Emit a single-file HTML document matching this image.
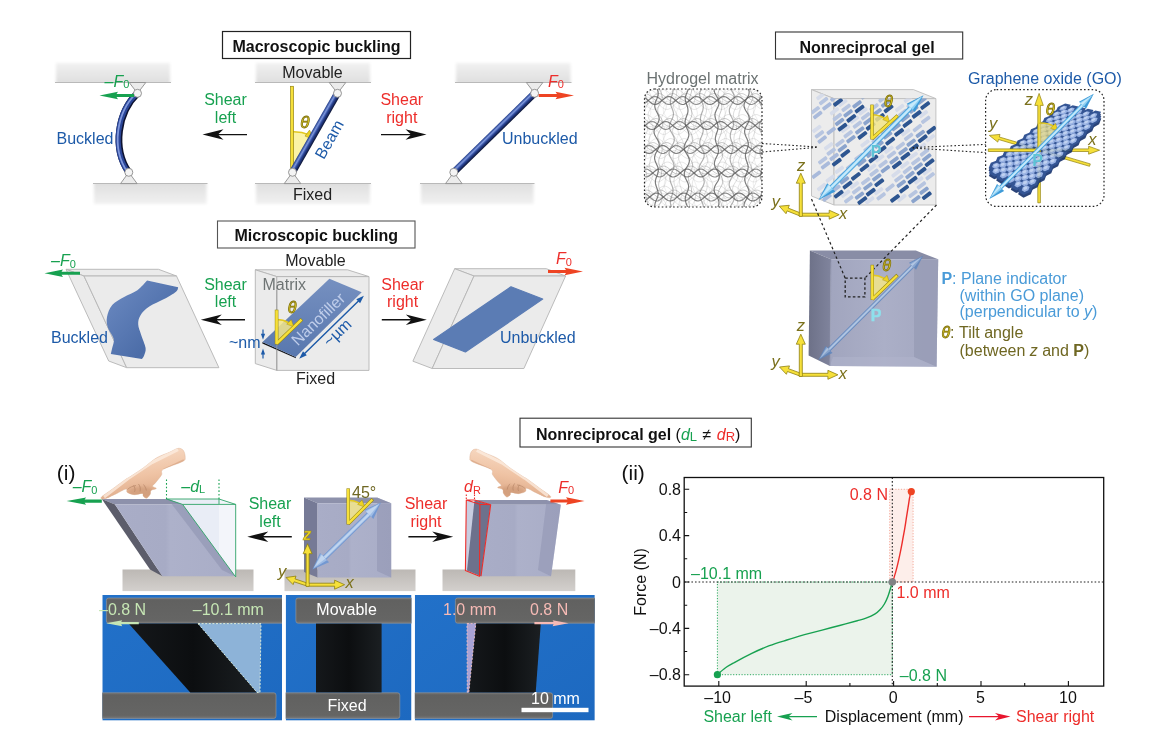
<!DOCTYPE html>
<html><head><meta charset="utf-8"><title>Nonreciprocal gel figure</title>
<style>
html,body{margin:0;padding:0;background:#fff;}
body{width:1167px;height:742px;overflow:hidden;font-family:"Liberation Sans",Arial,Helvetica,sans-serif;}
svg{display:block;font-family:"Liberation Sans",Arial,Helvetica,sans-serif;}
</style></head><body>
<svg width="1167" height="742" viewBox="0 0 1167 742">
<defs>
<filter id="blur2" x="-10%" y="-30%" width="120%" height="160%"><feGaussianBlur stdDeviation="1.6"/></filter>
<filter id="blur1" x="-10%" y="-10%" width="120%" height="120%"><feGaussianBlur stdDeviation="0.6"/></filter>
<filter id="blur3" x="-10%" y="-30%" width="120%" height="160%"><feGaussianBlur stdDeviation="2.2"/></filter>
<linearGradient id="plateT" x1="0" y1="0" x2="0" y2="1"><stop offset="0" stop-color="#f1f1f1"/><stop offset="1" stop-color="#dcdcdc"/></linearGradient>
<linearGradient id="plateB" x1="0" y1="0" x2="0" y2="1"><stop offset="0" stop-color="#dcdcdc"/><stop offset="1" stop-color="#f1f1f1"/></linearGradient>
<linearGradient id="beamG" x1="0" y1="0" x2="0" y2="1"><stop offset="0" stop-color="#1f3a88"/><stop offset="0.32" stop-color="#7f99de"/><stop offset="0.58" stop-color="#2a4597"/><stop offset="0.85" stop-color="#152457"/><stop offset="1" stop-color="#0b1230"/></linearGradient>
<linearGradient id="baseG" x1="0" y1="0" x2="0" y2="1"><stop offset="0" stop-color="#bcb8b4"/><stop offset="1" stop-color="#d3d0cd"/></linearGradient>
<linearGradient id="skin" x1="0.3" y1="0" x2="0.6" y2="1"><stop offset="0" stop-color="#f9dfcb"/><stop offset="0.55" stop-color="#efc3a4"/><stop offset="1" stop-color="#dba684"/></linearGradient>
<linearGradient id="pArrow" x1="0" y1="0" x2="1" y2="0"><stop offset="0" stop-color="#4aa3dc"/><stop offset="0.5" stop-color="#bfe6fa"/><stop offset="1" stop-color="#4aa3dc"/></linearGradient>
<linearGradient id="slateF" x1="0" y1="0" x2="1" y2="0"><stop offset="0" stop-color="#a9adc7"/><stop offset="0.42" stop-color="#a7abc5"/><stop offset="0.46" stop-color="#adb1ca"/><stop offset="1" stop-color="#a9adc7"/></linearGradient>
<linearGradient id="nanoG" x1="0" y1="0" x2="0" y2="1"><stop offset="0" stop-color="#7690c0"/><stop offset="1" stop-color="#5877ae"/></linearGradient>
</defs>
<g id="macro">
<rect x="222.5" y="31.5" width="188" height="27" fill="#fff" stroke="#222" stroke-width="1.2"/>
<text x="316.5" y="51.5" font-size="16" fill="#111" text-anchor="middle" font-weight="bold" >Macroscopic buckling</text>
<clipPath id="pc55_62"><rect x="47" y="54" width="132" height="28.5"/></clipPath><g clip-path="url(#pc55_62)"><rect x="56" y="63" width="114" height="22.5" fill="url(#plateT)" filter="url(#blur2)"/></g><line x1="55" y1="82.5" x2="171" y2="82.5" stroke="#b9b9b9" stroke-width="1"/>
<clipPath id="pc93_183"><rect x="85" y="183.5" width="130.5" height="29.5"/></clipPath><g clip-path="url(#pc93_183)"><rect x="94" y="180.5" width="112.5" height="23.5" fill="url(#plateB)" filter="url(#blur2)"/></g><line x1="93" y1="183.5" x2="207.5" y2="183.5" stroke="#b9b9b9" stroke-width="1"/>
<clipPath id="pc255_62"><rect x="247" y="54" width="132" height="28.5"/></clipPath><g clip-path="url(#pc255_62)"><rect x="256" y="63" width="114" height="22.5" fill="url(#plateT)" filter="url(#blur2)"/></g><line x1="255" y1="82.5" x2="371" y2="82.5" stroke="#b9b9b9" stroke-width="1"/>
<clipPath id="pc255_183"><rect x="247" y="183.5" width="132" height="29.5"/></clipPath><g clip-path="url(#pc255_183)"><rect x="256" y="180.5" width="114" height="23.5" fill="url(#plateB)" filter="url(#blur2)"/></g><line x1="255" y1="183.5" x2="371" y2="183.5" stroke="#b9b9b9" stroke-width="1"/>
<clipPath id="pc455_62"><rect x="447" y="54" width="132.5" height="28.5"/></clipPath><g clip-path="url(#pc455_62)"><rect x="456" y="63" width="114.5" height="22.5" fill="url(#plateT)" filter="url(#blur2)"/></g><line x1="455" y1="82.5" x2="571.5" y2="82.5" stroke="#b9b9b9" stroke-width="1"/>
<clipPath id="pc420_183"><rect x="412" y="183.5" width="130.5" height="29.5"/></clipPath><g clip-path="url(#pc420_183)"><rect x="421" y="180.5" width="112.5" height="23.5" fill="url(#plateB)" filter="url(#blur2)"/></g><line x1="420" y1="183.5" x2="534.5" y2="183.5" stroke="#b9b9b9" stroke-width="1"/>
<text x="312.5" y="77.5" font-size="16" fill="#222" text-anchor="middle" >Movable</text>
<text x="312.5" y="199.5" font-size="16" fill="#222" text-anchor="middle" >Fixed</text>
<polygon points="129.2,82.5 145.8,82.5 137.5,93.3" fill="#ececec" stroke="#8e8e8e" stroke-width="0.9"/>
<polygon points="120.5,183.6 137.1,183.6 128.8,172.3" fill="#ececec" stroke="#8e8e8e" stroke-width="0.9"/>
<path d="M137.5,93.3 C118,112 112,148 128.8,172.3" fill="none" stroke="#0d1230" stroke-width="6.8"/>
<path d="M137.5,93.3 C118,112 112,148 128.8,172.3" fill="none" stroke="#2a4597" stroke-width="5.2" transform="translate(-0.8,0)"/>
<path d="M137.5,93.3 C118,112 112,148 128.8,172.3" fill="none" stroke="#8098dc" stroke-width="1.8" transform="translate(-1.3,0)"/>
<circle cx="137.5" cy="93.3" r="4.0" fill="#f4f4f4" stroke="#8a8a8a" stroke-width="0.9"/>
<circle cx="128.8" cy="172.3" r="4.0" fill="#f4f4f4" stroke="#8a8a8a" stroke-width="0.9"/>
<polygon points="134.0,94.0 116.5,94.0 118.0,91.8 99.5,95.5 118.0,99.2 116.5,97.0 134.0,97.0" fill="#17a150" />
<text x="104.5" y="86.5" font-size="16" fill="#17a150" ><tspan font-style="italic">–F</tspan><tspan font-size="11" dy="1.5">0</tspan></text>
<text x="56.5" y="144.3" font-size="16" fill="#1d5aa8" >Buckled</text>
<text x="225.5" y="105.3" font-size="16" fill="#17a150" text-anchor="middle" >Shear</text>
<text x="225.5" y="122.8" font-size="16" fill="#17a150" text-anchor="middle" >left</text>
<polygon points="247.0,133.9 218.5,133.9 223.5,129.3 202.5,134.6 223.5,139.8 218.5,135.3 247.0,135.3" fill="#111" />
<polygon points="329.2,82.5 345.8,82.5 337.5,93.3" fill="#ececec" stroke="#8e8e8e" stroke-width="0.9"/>
<polygon points="284.2,183.6 300.8,183.6 292.5,172.3" fill="#ececec" stroke="#8e8e8e" stroke-width="0.9"/>
<path d="M292.5,172.3 L292.5,131.8 A40.5,40.5 0 0 1 312.5,137.1 Z" fill="#fbf3a6"/>
<path d="M292.5,131.8 A40.5,40.5 0 0 1 309.5,134.9" fill="none" stroke="#e3c81f" stroke-width="1.6"/>
<polygon points="314.0,139.6 305.0,136.1 309.5,130.1" fill="#ecd224" stroke="#94840f" stroke-width="0.5"/>
<rect x="290.6" y="86.3" width="2.9" height="84" fill="#f6e03a" stroke="#94840f" stroke-width="0.7"/>
<g transform="translate(292.5,172.3) rotate(-60.33)"><rect x="0" y="-3.5" width="90.9" height="7.0" fill="url(#beamG)"/></g>
<circle cx="337.5" cy="93.3" r="4.0" fill="#f4f4f4" stroke="#8a8a8a" stroke-width="0.9"/>
<circle cx="292.5" cy="172.3" r="4.0" fill="#f4f4f4" stroke="#8a8a8a" stroke-width="0.9"/>
<text x="304.8" y="128.3" font-size="17" fill="#f2dc2a" text-anchor="middle" font-style="italic" stroke="#7f710c" stroke-width="0.8">θ</text>
<text x="334.0" y="142.0" font-size="16" fill="#1d5aa8" text-anchor="middle" transform="rotate(-60.3 334.0 142.0)" >Beam</text>
<text x="401.8" y="105.3" font-size="16" fill="#ed2d2a" text-anchor="middle" >Shear</text>
<text x="401.8" y="122.8" font-size="16" fill="#ed2d2a" text-anchor="middle" >right</text>
<polygon points="381.0,135.3 410.5,135.3 405.5,139.8 426.5,134.6 405.5,129.3 410.5,133.9 381.0,133.9" fill="#111" />
<polygon points="526.3,82.5 542.9,82.5 534.6,93.3" fill="#ececec" stroke="#8e8e8e" stroke-width="0.9"/>
<polygon points="445.5,183.6 462.1,183.6 453.8,172.3" fill="#ececec" stroke="#8e8e8e" stroke-width="0.9"/>
<g transform="translate(453.8,172.3) rotate(-44.35)"><rect x="0" y="-3.5" width="113.0" height="7.0" fill="url(#beamG)"/></g>
<circle cx="534.6" cy="93.3" r="4.0" fill="#f4f4f4" stroke="#8a8a8a" stroke-width="0.9"/>
<circle cx="453.8" cy="172.3" r="4.0" fill="#f4f4f4" stroke="#8a8a8a" stroke-width="0.9"/>
<polygon points="538.7,97.0 557.0,97.0 555.5,99.2 574.0,95.5 555.5,91.8 557.0,94.0 538.7,94.0" fill="#ee4423" />
<text x="548.0" y="86.5" font-size="16" fill="#ed2d2a" ><tspan font-style="italic">F</tspan><tspan font-size="11" dy="1.5">0</tspan></text>
<text x="502.0" y="144.3" font-size="16" fill="#1d5aa8" >Unbuckled</text>
</g>
<g id="micro">
<rect x="217.5" y="221" width="197.5" height="27" fill="#fff" stroke="#555" stroke-width="1.1"/>
<text x="316.3" y="241.2" font-size="16" fill="#111" text-anchor="middle" font-weight="bold" >Microscopic buckling</text>
<text x="315.5" y="266.0" font-size="16" fill="#222" text-anchor="middle" >Movable</text>
<text x="315.5" y="384.0" font-size="16" fill="#222" text-anchor="middle" >Fixed</text>
<polygon points="255.3,269.8 347.5,269.8 369.0,276.6 276.8,276.6" fill="#ebebeb" stroke="#b4b4b4" stroke-width="0.9" stroke-linejoin="round"/><polygon points="255.3,269.8 276.8,276.6 276.8,370.4 255.3,363.6" fill="#ebebeb" stroke="#b4b4b4" stroke-width="0.9" stroke-linejoin="round"/><polygon points="276.8,276.6 369.0,276.6 369.0,370.4 276.8,370.4" fill="#ebebeb" stroke="#b4b4b4" stroke-width="0.9" stroke-linejoin="round"/>
<text x="262.5" y="289.8" font-size="16" fill="#6e7474" >Matrix</text>
<polygon points="262.5,342.0 295.7,356.9 295.9,358.3 262.3,343.6" fill="#15171c"/>
<polygon points="329.4,278.7 361.7,292.2 295.7,356.9 262.5,342.0" fill="url(#nanoG)"/>
<text x="322.0" y="323.0" font-size="16" fill="#bfcdea" text-anchor="middle" transform="rotate(-44 322.0 323.0)" >Nanofiller</text>
<line x1="276.8" y1="290" x2="276.8" y2="370.4" stroke="#9a9a9a" stroke-width="0.8"/>
<polygon points="299.2,358.8 306.8,355.2 305.4,353.7 358.7,301.8 360.1,303.3 363.9,295.7 356.3,299.3 357.7,300.8 304.4,352.7 303.0,351.2" fill="#1d5aa8" />
<text x="341.0" y="336.5" font-size="16" fill="#1d5aa8" text-anchor="middle" transform="rotate(-44 341.0 336.5)" >~µm</text>
<text x="229.0" y="347.8" font-size="16" fill="#1d5aa8" >~nm</text>
<polygon points="262.4,329.5 262.4,333.8 260.9,333.8 263.0,339.8 265.1,333.8 263.6,333.8 263.6,329.5" fill="#1d5aa8" />
<polygon points="263.6,358.5 263.6,354.5 265.1,354.5 263.0,348.5 260.9,354.5 262.4,354.5 262.4,358.5" fill="#1d5aa8" />
<path d="M276.6,343.6 L276.6,319.6 A24,24 0 0 1 293.9,326.9 Z" fill="#f2e58a" fill-opacity="0.85"/><path d="M276.6,319.6 A24,24 0 0 1 288.6,322.8" fill="none" stroke="#e3c81f" stroke-width="1.5"/><polygon points="293.9,326.9 291.3,319.7 286.7,324.1" fill="#ecd224" stroke="#94840f" stroke-width="0.4"/><line x1="276.6" y1="343.6" x2="301.9" y2="319.2" stroke="#94840f" stroke-width="3.6" stroke-linecap="butt"/><line x1="276.6" y1="344.4" x2="276.6" y2="309.7" stroke="#94840f" stroke-width="3.6"/><line x1="276.6" y1="343.6" x2="301.5" y2="319.6" stroke="#f6e03a" stroke-width="2.6" stroke-linecap="butt"/><line x1="276.6" y1="343.9" x2="276.6" y2="310.2" stroke="#f6e03a" stroke-width="2.6"/><text x="292.0" y="312.5" font-size="16" fill="#f2dc2a" text-anchor="middle" font-style="italic" stroke="#7f710c" stroke-width="0.8">θ</text>
<polygon points="66.0,269.3 158.5,269.3 176.5,276.0 84.0,276.0" fill="#ebebeb" stroke="#b4b4b4" stroke-width="0.9" stroke-linejoin="round"/><polygon points="66.0,269.3 84.0,276.0 126.7,367.7 108.7,361.0" fill="#ebebeb" stroke="#b4b4b4" stroke-width="0.9" stroke-linejoin="round"/><polygon points="84.0,276.0 176.5,276.0 218.9,367.7 126.7,367.7" fill="#ebebeb" stroke="#b4b4b4" stroke-width="0.9" stroke-linejoin="round"/>
<defs><linearGradient id="buckG" x1="0" y1="0" x2="1" y2="1"><stop offset="0" stop-color="#6d8bc2"/><stop offset="0.45" stop-color="#5878b2"/><stop offset="0.7" stop-color="#4c6da8"/><stop offset="1" stop-color="#5c7cb5"/></linearGradient></defs>
<path d="M147.1,280.6 L178.2,287.2 C177.8,287.9 178.3,289.7 176.0,291.7 C173.7,293.7 168.5,296.6 164.1,299.1 C159.7,301.6 153.2,303.8 149.3,306.5 C145.4,309.2 142.2,312.4 140.4,315.4 C138.6,318.4 138.1,321.1 138.2,324.3 C138.3,327.5 139.9,330.8 141.1,334.7 C142.3,338.6 145.1,344.6 145.6,348.0 C146.1,351.4 144.7,353.5 144.1,355.4 C143.5,357.2 142.3,358.5 141.9,359.1 L110.8,354.0 C111.0,353.0 111.7,350.5 112.2,348.0 C112.7,345.5 114.4,342.6 113.7,339.1 C113.0,335.7 108.9,331.0 107.8,327.3 C106.7,323.6 106.3,320.6 107.0,316.9 C107.7,313.2 109.4,308.3 112.2,305.0 C115.0,301.7 119.9,299.4 124.1,296.9 C128.3,294.4 133.6,292.9 137.4,290.2 C141.2,287.5 145.5,282.2 147.1,280.6 Z" fill="url(#buckG)"/>
<polygon points="80.0,271.8 61.5,271.8 63.0,269.6 44.5,273.3 63.0,277.1 61.5,274.8 80.0,274.8" fill="#17a150" />
<text x="51.0" y="266.3" font-size="16" fill="#17a150" ><tspan font-style="italic">–F</tspan><tspan font-size="11" dy="1.5">0</tspan></text>
<text x="51.0" y="343.0" font-size="16" fill="#1d5aa8" >Buckled</text>
<text x="225.5" y="289.8" font-size="16" fill="#17a150" text-anchor="middle" >Shear</text>
<text x="225.5" y="307.3" font-size="16" fill="#17a150" text-anchor="middle" >left</text>
<polygon points="245.0,319.1 216.8,319.1 221.8,314.6 200.8,319.8 221.8,325.1 216.8,320.5 245.0,320.5" fill="#111" />
<polygon points="454.7,268.7 546.3,268.7 565.6,276.0 474.0,276.0" fill="#ebebeb" stroke="#b4b4b4" stroke-width="0.9" stroke-linejoin="round"/><polygon points="454.7,268.7 474.0,276.0 432.2,368.5 412.9,361.2" fill="#ebebeb" stroke="#b4b4b4" stroke-width="0.9" stroke-linejoin="round"/><polygon points="474.0,276.0 565.6,276.0 523.9,368.5 432.2,368.5" fill="#ebebeb" stroke="#b4b4b4" stroke-width="0.9" stroke-linejoin="round"/>
<polygon points="511.0,286.8 542.7,299.0 465.4,352.0 433.6,339.4" fill="#5b7cb4" stroke="#5b7cb4" stroke-width="1.2" stroke-linejoin="round"/>
<polygon points="548.0,273.0 566.0,273.0 564.5,275.2 583.0,271.5 564.5,267.8 566.0,270.0 548.0,270.0" fill="#ee4423" />
<text x="556.0" y="264.3" font-size="16" fill="#ed2d2a" ><tspan font-style="italic">F</tspan><tspan font-size="11" dy="1.5">0</tspan></text>
<text x="500.0" y="343.0" font-size="16" fill="#1d5aa8" >Unbuckled</text>
<text x="402.6" y="289.8" font-size="16" fill="#ed2d2a" text-anchor="middle" >Shear</text>
<text x="402.6" y="307.3" font-size="16" fill="#ed2d2a" text-anchor="middle" >right</text>
<polygon points="381.8,320.5 410.8,320.5 405.8,325.1 426.8,319.8 405.8,314.6 410.8,319.1 381.8,319.1" fill="#111" />
</g>
<g id="gel">
<rect x="775.5" y="32" width="187.2" height="27" fill="#fff" stroke="#333" stroke-width="1.1"/>
<text x="867.0" y="52.6" font-size="16" fill="#111" text-anchor="middle" font-weight="bold" >Nonreciprocal gel</text>
<text x="646.5" y="84.2" font-size="16" fill="#6b7272" >Hydrogel matrix</text>
<text x="968.0" y="83.9" font-size="16" fill="#1d5aa8" >Graphene oxide (GO)</text>
<clipPath id="hgc"><rect x="644.5" y="89" width="117.5" height="118" rx="10"/></clipPath>
<g clip-path="url(#hgc)" fill="none" stroke-linecap="round"><path d="M651.4,85.0 L651.2,87.0 L650.5,89.0 L649.4,91.0 L648.2,93.0 L647.0,95.0 L646.3,97.0 L646.1,99.0 L646.5,101.0 L647.3,103.0 L648.5,105.0 L649.6,107.0 L650.4,109.0 L650.8,111.0 L650.8,113.0 L650.2,115.0 L649.3,117.0 L648.4,119.0 L647.6,121.0 L647.1,123.0 L647.1,125.0 L647.5,127.0 L648.2,129.0 L649.0,131.0 L649.6,133.0 L650.0,135.0 L649.9,137.0 L649.5,139.0 L648.9,141.0 L648.1,143.0 L647.5,145.0 L647.2,147.0 L647.4,149.0 L647.9,151.0 L648.7,153.0 L649.6,155.0 L650.3,157.0 L650.6,159.0 L650.5,161.0 L650.0,163.0 L649.0,165.0 L648.0,167.0 L647.0,169.0 L646.4,171.0 L646.3,173.0 L646.7,175.0 L647.7,177.0 L648.8,179.0 L650.0,181.0 L650.9,183.0 L651.4,185.0 L651.2,187.0 L650.5,189.0 L649.4,191.0 L648.2,193.0 L647.0,195.0 L646.3,197.0 L646.1,199.0 L646.5,201.0 L647.4,203.0 L648.5,205.0 L649.6,207.0 L650.4,209.0 L650.9,211.0" stroke="#8a8a8a" stroke-width="0.9" opacity="0.132"/><path d="M664.6,85.0 L663.5,87.0 L662.3,89.0 L661.5,91.0 L661.1,93.0 L661.2,95.0 L662.0,97.0 L663.1,99.0 L664.3,101.0 L665.5,103.0 L666.2,105.0 L666.3,107.0 L665.9,109.0 L665.0,111.0 L663.9,113.0 L662.7,115.0 L661.8,117.0 L661.4,119.0 L661.5,121.0 L662.1,123.0 L663.0,125.0 L664.0,127.0 L664.9,129.0 L665.4,131.0 L665.5,133.0 L665.1,135.0 L664.4,137.0 L663.6,139.0 L662.9,141.0 L662.4,143.0 L662.4,145.0 L662.7,147.0 L663.3,149.0 L664.0,151.0 L664.7,153.0 L665.0,155.0 L665.0,157.0 L664.5,159.0 L663.8,161.0 L663.0,163.0 L662.3,165.0 L662.0,167.0 L662.0,169.0 L662.5,171.0 L663.4,173.0 L664.4,175.0 L665.3,177.0 L665.9,179.0 L666.0,181.0 L665.5,183.0 L664.6,185.0 L663.5,187.0 L662.3,189.0 L661.5,191.0 L661.1,193.0 L661.2,195.0 L662.0,197.0 L663.1,199.0 L664.4,201.0 L665.5,203.0 L666.2,205.0 L666.3,207.0 L665.9,209.0 L665.0,211.0" stroke="#8a8a8a" stroke-width="0.9" opacity="0.22"/><path d="M677.2,85.0 L676.7,87.0 L676.6,89.0 L677.0,91.0 L677.9,93.0 L679.0,95.0 L680.1,97.0 L680.9,99.0 L681.3,101.0 L681.1,103.0 L680.3,105.0 L679.2,107.0 L678.0,109.0 L676.9,111.0 L676.2,113.0 L676.0,115.0 L676.5,117.0 L677.4,119.0 L678.6,121.0 L679.8,123.0 L680.7,125.0 L681.1,127.0 L681.0,129.0 L680.4,131.0 L679.4,133.0 L678.4,135.0 L677.4,137.0 L676.8,139.0 L676.7,141.0 L677.1,143.0 L677.8,145.0 L678.7,147.0 L679.5,149.0 L680.0,151.0 L680.2,153.0 L679.9,155.0 L679.3,157.0 L678.6,159.0 L677.9,161.0 L677.5,163.0 L677.4,165.0 L677.8,167.0 L678.4,169.0 L679.2,171.0 L679.9,173.0 L680.3,175.0 L680.2,177.0 L679.8,179.0 L679.0,181.0 L678.1,183.0 L677.2,185.0 L676.7,187.0 L676.6,189.0 L677.0,191.0 L677.9,193.0 L679.0,195.0 L680.1,197.0 L680.9,199.0 L681.3,201.0 L681.1,203.0 L680.3,205.0 L679.2,207.0 L678.0,209.0 L676.9,211.0" stroke="#8a8a8a" stroke-width="0.9" opacity="0.132"/><path d="M692.3,85.0 L692.6,87.0 L693.3,89.0 L694.2,91.0 L695.0,93.0 L695.5,95.0 L695.6,97.0 L695.3,99.0 L694.5,101.0 L693.4,103.0 L692.4,105.0 L691.6,107.0 L691.2,109.0 L691.5,111.0 L692.2,113.0 L693.3,115.0 L694.5,117.0 L695.6,119.0 L696.3,121.0 L696.4,123.0 L695.9,125.0 L694.9,127.0 L693.7,129.0 L692.5,131.0 L691.6,133.0 L691.1,135.0 L691.3,137.0 L691.9,139.0 L693.0,141.0 L694.1,143.0 L695.1,145.0 L695.7,147.0 L695.9,149.0 L695.5,151.0 L694.7,153.0 L693.8,155.0 L692.9,157.0 L692.3,159.0 L692.1,161.0 L692.3,163.0 L692.9,165.0 L693.6,167.0 L694.4,169.0 L694.9,171.0 L695.0,173.0 L694.8,175.0 L694.2,177.0 L693.4,179.0 L692.8,181.0 L692.3,183.0 L692.3,185.0 L692.6,187.0 L693.3,189.0 L694.2,191.0 L695.0,193.0 L695.5,195.0 L695.6,197.0 L695.3,199.0 L694.5,201.0 L693.4,203.0 L692.4,205.0 L691.6,207.0 L691.3,209.0 L691.5,211.0" stroke="#8a8a8a" stroke-width="0.9" opacity="0.22"/><path d="M708.0,85.0 L708.7,87.0 L709.4,89.0 L709.9,91.0 L710.1,93.0 L709.8,95.0 L709.2,97.0 L708.4,99.0 L707.6,101.0 L707.1,103.0 L706.9,105.0 L707.3,107.0 L708.0,109.0 L709.0,111.0 L709.9,113.0 L710.7,115.0 L711.0,117.0 L710.8,119.0 L710.1,121.0 L709.0,123.0 L707.8,125.0 L706.8,127.0 L706.2,129.0 L706.1,131.0 L706.6,133.0 L707.6,135.0 L708.8,137.0 L710.0,139.0 L710.9,141.0 L711.3,143.0 L711.2,145.0 L710.5,147.0 L709.4,149.0 L708.2,151.0 L707.2,153.0 L706.5,155.0 L706.4,157.0 L706.8,159.0 L707.6,161.0 L708.6,163.0 L709.5,165.0 L710.2,167.0 L710.5,169.0 L710.3,171.0 L709.7,173.0 L708.9,175.0 L708.1,177.0 L707.6,179.0 L707.3,181.0 L707.5,183.0 L708.0,185.0 L708.7,187.0 L709.4,189.0 L709.9,191.0 L710.1,193.0 L709.8,195.0 L709.2,197.0 L708.4,199.0 L707.6,201.0 L707.1,203.0 L706.9,205.0 L707.3,207.0 L708.0,209.0 L709.0,211.0" stroke="#8a8a8a" stroke-width="0.9" opacity="0.132"/><path d="M724.2,85.0 L724.8,87.0 L725.2,89.0 L725.1,91.0 L724.6,93.0 L723.9,95.0 L723.2,97.0 L722.6,99.0 L722.4,101.0 L722.6,103.0 L723.1,105.0 L723.9,107.0 L724.6,109.0 L725.1,111.0 L725.3,113.0 L725.1,115.0 L724.4,117.0 L723.5,119.0 L722.6,121.0 L721.9,123.0 L721.6,125.0 L721.8,127.0 L722.4,129.0 L723.5,131.0 L724.6,133.0 L725.6,135.0 L726.2,137.0 L726.2,139.0 L725.7,141.0 L724.7,143.0 L723.5,145.0 L722.3,147.0 L721.4,149.0 L721.0,151.0 L721.2,153.0 L721.9,155.0 L723.1,157.0 L724.3,159.0 L725.4,161.0 L726.0,163.0 L726.2,165.0 L725.7,167.0 L724.9,169.0 L723.8,171.0 L722.8,173.0 L722.0,175.0 L721.7,177.0 L721.9,179.0 L722.5,181.0 L723.3,183.0 L724.2,185.0 L724.9,187.0 L725.2,189.0 L725.1,191.0 L724.6,193.0 L723.9,195.0 L723.2,197.0 L722.6,199.0 L722.4,201.0 L722.6,203.0 L723.1,205.0 L723.8,207.0 L724.6,209.0 L725.1,211.0" stroke="#8a8a8a" stroke-width="0.9" opacity="0.22"/><path d="M740.9,85.0 L740.7,87.0 L740.1,89.0 L739.2,91.0 L738.3,93.0 L737.5,95.0 L737.1,97.0 L737.2,99.0 L737.6,101.0 L738.3,103.0 L739.1,105.0 L739.7,107.0 L740.0,109.0 L739.9,111.0 L739.4,113.0 L738.8,115.0 L738.0,117.0 L737.5,119.0 L737.2,121.0 L737.4,123.0 L738.0,125.0 L738.8,127.0 L739.7,129.0 L740.4,131.0 L740.7,133.0 L740.5,135.0 L739.9,137.0 L738.9,139.0 L737.8,141.0 L736.9,143.0 L736.3,145.0 L736.3,147.0 L736.8,149.0 L737.8,151.0 L739.0,153.0 L740.2,155.0 L741.0,157.0 L741.4,159.0 L741.2,161.0 L740.4,163.0 L739.3,165.0 L738.0,167.0 L736.9,169.0 L736.3,171.0 L736.1,173.0 L736.6,175.0 L737.5,177.0 L738.6,179.0 L739.7,181.0 L740.5,183.0 L740.9,185.0 L740.7,187.0 L740.1,189.0 L739.2,191.0 L738.3,193.0 L737.5,195.0 L737.1,197.0 L737.1,199.0 L737.6,201.0 L738.3,203.0 L739.1,205.0 L739.7,207.0 L740.0,209.0 L739.9,211.0" stroke="#8a8a8a" stroke-width="0.9" opacity="0.132"/><path d="M754.9,85.0 L753.7,87.0 L752.6,89.0 L751.8,91.0 L751.4,93.0 L751.5,95.0 L752.2,97.0 L753.1,99.0 L754.1,101.0 L755.0,103.0 L755.4,105.0 L755.4,107.0 L755.0,109.0 L754.3,111.0 L753.5,113.0 L752.8,115.0 L752.4,117.0 L752.4,119.0 L752.8,121.0 L753.4,123.0 L754.2,125.0 L754.8,127.0 L755.0,129.0 L754.9,131.0 L754.5,133.0 L753.7,135.0 L752.9,137.0 L752.2,139.0 L751.9,141.0 L752.1,143.0 L752.6,145.0 L753.5,147.0 L754.5,149.0 L755.4,151.0 L755.9,153.0 L756.0,155.0 L755.4,157.0 L754.5,159.0 L753.3,161.0 L752.2,163.0 L751.4,165.0 L751.1,167.0 L751.3,169.0 L752.1,171.0 L753.2,173.0 L754.5,175.0 L755.6,177.0 L756.2,179.0 L756.3,181.0 L755.8,183.0 L754.9,185.0 L753.7,187.0 L752.6,189.0 L751.7,191.0 L751.4,193.0 L751.5,195.0 L752.2,197.0 L753.1,199.0 L754.1,201.0 L755.0,203.0 L755.4,205.0 L755.5,207.0 L755.0,209.0 L754.3,211.0" stroke="#8a8a8a" stroke-width="0.9" opacity="0.22"/><path d="M766.8,85.0 L766.1,87.0 L766.1,89.0 L766.6,91.0 L767.5,93.0 L768.7,95.0 L769.9,97.0 L770.8,99.0 L771.2,101.0 L771.0,103.0 L770.3,105.0 L769.3,107.0 L768.2,109.0 L767.3,111.0 L766.8,113.0 L766.8,115.0 L767.2,117.0 L767.9,119.0 L768.8,121.0 L769.6,123.0 L770.1,125.0 L770.2,127.0 L769.8,129.0 L769.2,131.0 L768.5,133.0 L767.8,135.0 L767.4,137.0 L767.4,139.0 L767.8,141.0 L768.5,143.0 L769.3,145.0 L769.9,147.0 L770.3,149.0 L770.2,151.0 L769.7,153.0 L768.9,155.0 L768.0,157.0 L767.1,159.0 L766.6,161.0 L766.6,163.0 L767.1,165.0 L768.0,167.0 L769.1,169.0 L770.2,171.0 L771.0,173.0 L771.3,175.0 L771.0,177.0 L770.2,179.0 L769.0,181.0 L767.8,183.0 L766.7,185.0 L766.1,187.0 L766.1,189.0 L766.6,191.0 L767.5,193.0 L768.8,195.0 L769.9,197.0 L770.8,199.0 L771.2,201.0 L771.0,203.0 L770.3,205.0 L769.3,207.0 L768.2,209.0 L767.3,211.0" stroke="#8a8a8a" stroke-width="0.9" opacity="0.132"/><path d="M781.5,85.0 L782.3,87.0 L783.4,89.0 L784.7,91.0 L785.7,93.0 L786.3,95.0 L786.3,97.0 L785.8,99.0 L784.8,101.0 L783.6,103.0 L782.4,105.0 L781.5,107.0 L781.1,109.0 L781.3,111.0 L782.1,113.0 L783.1,115.0 L784.2,117.0 L785.2,119.0 L785.8,121.0 L785.8,123.0 L785.4,125.0 L784.6,127.0 L783.7,129.0 L782.8,131.0 L782.2,133.0 L782.1,135.0 L782.4,137.0 L783.0,139.0 L783.7,141.0 L784.5,143.0 L784.9,145.0 L785.0,147.0 L784.7,149.0 L784.1,151.0 L783.3,153.0 L782.7,155.0 L782.3,157.0 L782.3,159.0 L782.7,161.0 L783.4,163.0 L784.3,165.0 L785.1,167.0 L785.6,169.0 L785.6,171.0 L785.2,173.0 L784.3,175.0 L783.3,177.0 L782.3,179.0 L781.5,181.0 L781.2,183.0 L781.5,185.0 L782.3,187.0 L783.5,189.0 L784.7,191.0 L785.7,193.0 L786.3,195.0 L786.3,197.0 L785.8,199.0 L784.8,201.0 L783.5,203.0 L782.4,205.0 L781.5,207.0 L781.1,209.0 L781.3,211.0" stroke="#8a8a8a" stroke-width="0.9" opacity="0.22"/><path d="M799.1,85.0 L800.1,87.0 L800.8,89.0 L801.0,91.0 L800.7,93.0 L800.0,95.0 L798.9,97.0 L797.7,99.0 L796.7,101.0 L796.1,103.0 L796.1,105.0 L796.7,107.0 L797.7,109.0 L798.9,111.0 L800.1,113.0 L801.0,115.0 L801.4,117.0 L801.1,119.0 L800.4,121.0 L799.3,123.0 L798.1,125.0 L797.1,127.0 L796.5,129.0 L796.4,131.0 L796.9,133.0 L797.7,135.0 L798.7,137.0 L799.6,139.0 L800.3,141.0 L800.5,143.0 L800.3,145.0 L799.6,147.0 L798.8,149.0 L798.1,151.0 L797.5,153.0 L797.3,155.0 L797.6,157.0 L798.1,159.0 L798.8,161.0 L799.5,163.0 L800.0,165.0 L800.0,167.0 L799.7,169.0 L799.1,171.0 L798.3,173.0 L797.5,175.0 L797.0,177.0 L796.9,179.0 L797.3,181.0 L798.1,183.0 L799.1,185.0 L800.1,187.0 L800.8,189.0 L801.0,191.0 L800.7,193.0 L800.0,195.0 L798.9,197.0 L797.7,199.0 L796.7,201.0 L796.1,203.0 L796.1,205.0 L796.7,207.0 L797.7,209.0 L799.0,211.0" stroke="#8a8a8a" stroke-width="0.9" opacity="0.132"/><path d="M640.0,109.5 L642.0,108.8 L644.0,107.5 L646.0,105.7 L648.0,103.9 L650.0,102.5 L652.0,101.6 L654.0,101.6 L656.0,102.3 L658.0,103.7 L660.0,105.5 L662.0,107.3 L664.0,108.7 L666.0,109.4 L668.0,109.4 L670.0,108.5 L672.0,107.1 L674.0,105.3 L676.0,103.5 L678.0,102.2 L680.0,101.5 L682.0,101.7 L684.0,102.6 L686.0,104.2 L688.0,106.0 L690.0,107.7 L692.0,108.9 L694.0,109.5 L696.0,109.2 L698.0,108.2 L700.0,106.6 L702.0,104.8 L704.0,103.1 L706.0,102.0 L708.0,101.5 L710.0,101.9 L712.0,103.0 L714.0,104.6 L716.0,106.4 L718.0,108.0 L720.0,109.1 L722.0,109.5 L724.0,109.0 L726.0,107.9 L728.0,106.2 L730.0,104.4 L732.0,102.8 L734.0,101.8 L736.0,101.5 L738.0,102.1 L740.0,103.3 L742.0,105.0 L744.0,106.8 L746.0,108.4 L748.0,109.3 L750.0,109.5 L752.0,108.8 L754.0,107.5 L756.0,105.7 L758.0,103.9 L760.0,102.5 L762.0,101.6 L764.0,101.6 L766.0,102.3" stroke="#8a8a8a" stroke-width="0.9" opacity="0.22"/><path d="M640.0,101.5 L642.0,102.2 L644.0,103.5 L646.0,105.3 L648.0,107.1 L650.0,108.5 L652.0,109.4 L654.0,109.4 L656.0,108.7 L658.0,107.3 L660.0,105.5 L662.0,103.7 L664.0,102.3 L666.0,101.6 L668.0,101.6 L670.0,102.5 L672.0,103.9 L674.0,105.7 L676.0,107.5 L678.0,108.8 L680.0,109.5 L682.0,109.3 L684.0,108.4 L686.0,106.8 L688.0,105.0 L690.0,103.3 L692.0,102.1 L694.0,101.5 L696.0,101.8 L698.0,102.8 L700.0,104.4 L702.0,106.2 L704.0,107.9 L706.0,109.0 L708.0,109.5 L710.0,109.1 L712.0,108.0 L714.0,106.4 L716.0,104.6 L718.0,103.0 L720.0,101.9 L722.0,101.5 L724.0,102.0 L726.0,103.1 L728.0,104.8 L730.0,106.6 L732.0,108.2 L734.0,109.2 L736.0,109.5 L738.0,108.9 L740.0,107.7 L742.0,106.0 L744.0,104.2 L746.0,102.6 L748.0,101.7 L750.0,101.5 L752.0,102.2 L754.0,103.5 L756.0,105.3 L758.0,107.1 L760.0,108.5 L762.0,109.4 L764.0,109.4 L766.0,108.7" stroke="#8a8a8a" stroke-width="0.9" opacity="0.187"/><path d="M640.0,133.2 L642.0,131.6 L644.0,129.8 L646.0,128.1 L648.0,126.9 L650.0,126.5 L652.0,126.9 L654.0,128.0 L656.0,129.7 L658.0,131.5 L660.0,133.1 L662.0,134.2 L664.0,134.5 L666.0,134.0 L668.0,132.8 L670.0,131.1 L672.0,129.3 L674.0,127.8 L676.0,126.8 L678.0,126.5 L680.0,127.1 L682.0,128.4 L684.0,130.1 L686.0,131.9 L688.0,133.4 L690.0,134.3 L692.0,134.5 L694.0,133.8 L696.0,132.4 L698.0,130.7 L700.0,128.9 L702.0,127.4 L704.0,126.6 L706.0,126.6 L708.0,127.4 L710.0,128.8 L712.0,130.6 L714.0,132.3 L716.0,133.7 L718.0,134.4 L720.0,134.4 L722.0,133.5 L724.0,132.0 L726.0,130.2 L728.0,128.5 L730.0,127.2 L732.0,126.5 L734.0,126.7 L736.0,127.7 L738.0,129.2 L740.0,131.0 L742.0,132.7 L744.0,134.0 L746.0,134.5 L748.0,134.2 L750.0,133.2 L752.0,131.6 L754.0,129.8 L756.0,128.1 L758.0,126.9 L760.0,126.5 L762.0,126.9 L764.0,128.0 L766.0,129.7" stroke="#8a8a8a" stroke-width="0.9" opacity="0.22"/><path d="M640.0,127.8 L642.0,129.4 L644.0,131.2 L646.0,132.9 L648.0,134.1 L650.0,134.5 L652.0,134.1 L654.0,133.0 L656.0,131.3 L658.0,129.5 L660.0,127.9 L662.0,126.8 L664.0,126.5 L666.0,127.0 L668.0,128.2 L670.0,129.9 L672.0,131.7 L674.0,133.2 L676.0,134.2 L678.0,134.5 L680.0,133.9 L682.0,132.6 L684.0,130.9 L686.0,129.1 L688.0,127.6 L690.0,126.7 L692.0,126.5 L694.0,127.2 L696.0,128.6 L698.0,130.3 L700.0,132.1 L702.0,133.6 L704.0,134.4 L706.0,134.4 L708.0,133.6 L710.0,132.2 L712.0,130.4 L714.0,128.7 L716.0,127.3 L718.0,126.6 L720.0,126.6 L722.0,127.5 L724.0,129.0 L726.0,130.8 L728.0,132.5 L730.0,133.8 L732.0,134.5 L734.0,134.3 L736.0,133.3 L738.0,131.8 L740.0,130.0 L742.0,128.3 L744.0,127.0 L746.0,126.5 L748.0,126.8 L750.0,127.8 L752.0,129.4 L754.0,131.2 L756.0,132.9 L758.0,134.1 L760.0,134.5 L762.0,134.1 L764.0,133.0 L766.0,131.3" stroke="#8a8a8a" stroke-width="0.9" opacity="0.187"/><path d="M640.0,154.6 L642.0,152.8 L644.0,151.4 L646.0,150.6 L648.0,150.6 L650.0,151.4 L652.0,152.8 L654.0,154.6 L656.0,156.4 L658.0,157.7 L660.0,158.4 L662.0,158.3 L664.0,157.4 L666.0,155.9 L668.0,154.2 L670.0,152.4 L672.0,151.1 L674.0,150.5 L676.0,150.7 L678.0,151.7 L680.0,153.3 L682.0,155.1 L684.0,156.8 L686.0,158.0 L688.0,158.5 L690.0,158.2 L692.0,157.1 L694.0,155.5 L696.0,153.7 L698.0,152.1 L700.0,150.9 L702.0,150.5 L704.0,150.9 L706.0,152.1 L708.0,153.7 L710.0,155.5 L712.0,157.1 L714.0,158.2 L716.0,158.5 L718.0,158.0 L720.0,156.8 L722.0,155.1 L724.0,153.3 L726.0,151.7 L728.0,150.7 L730.0,150.5 L732.0,151.1 L734.0,152.4 L736.0,154.2 L738.0,156.0 L740.0,157.4 L742.0,158.3 L744.0,158.4 L746.0,157.7 L748.0,156.4 L750.0,154.6 L752.0,152.8 L754.0,151.4 L756.0,150.6 L758.0,150.6 L760.0,151.4 L762.0,152.8 L764.0,154.6 L766.0,156.4" stroke="#8a8a8a" stroke-width="0.9" opacity="0.22"/><path d="M640.0,154.4 L642.0,156.2 L644.0,157.6 L646.0,158.4 L648.0,158.4 L650.0,157.6 L652.0,156.2 L654.0,154.4 L656.0,152.6 L658.0,151.3 L660.0,150.6 L662.0,150.7 L664.0,151.6 L666.0,153.1 L668.0,154.8 L670.0,156.6 L672.0,157.9 L674.0,158.5 L676.0,158.3 L678.0,157.3 L680.0,155.7 L682.0,153.9 L684.0,152.2 L686.0,151.0 L688.0,150.5 L690.0,150.8 L692.0,151.9 L694.0,153.5 L696.0,155.3 L698.0,156.9 L700.0,158.1 L702.0,158.5 L704.0,158.1 L706.0,156.9 L708.0,155.3 L710.0,153.5 L712.0,151.9 L714.0,150.8 L716.0,150.5 L718.0,151.0 L720.0,152.2 L722.0,153.9 L724.0,155.7 L726.0,157.3 L728.0,158.3 L730.0,158.5 L732.0,157.9 L734.0,156.6 L736.0,154.8 L738.0,153.0 L740.0,151.6 L742.0,150.7 L744.0,150.6 L746.0,151.3 L748.0,152.6 L750.0,154.4 L752.0,156.2 L754.0,157.6 L756.0,158.4 L758.0,158.4 L760.0,157.6 L762.0,156.2 L764.0,154.4 L766.0,152.6" stroke="#8a8a8a" stroke-width="0.9" opacity="0.187"/><path d="M640.0,175.5 L642.0,174.4 L644.0,174.0 L646.0,174.4 L648.0,175.6 L650.0,177.3 L652.0,179.1 L654.0,180.7 L656.0,181.7 L658.0,182.0 L660.0,181.5 L662.0,180.2 L664.0,178.5 L666.0,176.7 L668.0,175.2 L670.0,174.2 L672.0,174.0 L674.0,174.7 L676.0,176.0 L678.0,177.7 L680.0,179.5 L682.0,181.0 L684.0,181.9 L686.0,181.9 L688.0,181.2 L690.0,179.8 L692.0,178.1 L694.0,176.3 L696.0,174.9 L698.0,174.1 L700.0,174.1 L702.0,174.9 L704.0,176.4 L706.0,178.2 L708.0,179.9 L710.0,181.3 L712.0,182.0 L714.0,181.8 L716.0,180.9 L718.0,179.4 L720.0,177.6 L722.0,175.9 L724.0,174.6 L726.0,174.0 L728.0,174.3 L730.0,175.3 L732.0,176.8 L734.0,178.6 L736.0,180.3 L738.0,181.5 L740.0,182.0 L742.0,181.7 L744.0,180.6 L746.0,179.0 L748.0,177.1 L750.0,175.5 L752.0,174.4 L754.0,174.0 L756.0,174.4 L758.0,175.6 L760.0,177.3 L762.0,179.1 L764.0,180.7 L766.0,181.7" stroke="#8a8a8a" stroke-width="0.9" opacity="0.22"/><path d="M640.0,180.5 L642.0,181.6 L644.0,182.0 L646.0,181.6 L648.0,180.4 L650.0,178.7 L652.0,176.9 L654.0,175.3 L656.0,174.3 L658.0,174.0 L660.0,174.5 L662.0,175.8 L664.0,177.5 L666.0,179.3 L668.0,180.8 L670.0,181.8 L672.0,182.0 L674.0,181.3 L676.0,180.0 L678.0,178.3 L680.0,176.5 L682.0,175.0 L684.0,174.1 L686.0,174.1 L688.0,174.8 L690.0,176.2 L692.0,177.9 L694.0,179.7 L696.0,181.1 L698.0,181.9 L700.0,181.9 L702.0,181.1 L704.0,179.6 L706.0,177.8 L708.0,176.1 L710.0,174.7 L712.0,174.0 L714.0,174.2 L716.0,175.1 L718.0,176.6 L720.0,178.4 L722.0,180.1 L724.0,181.4 L726.0,182.0 L728.0,181.7 L730.0,180.7 L732.0,179.2 L734.0,177.4 L736.0,175.7 L738.0,174.5 L740.0,174.0 L742.0,174.3 L744.0,175.4 L746.0,177.0 L748.0,178.9 L750.0,180.5 L752.0,181.6 L754.0,182.0 L756.0,181.6 L758.0,180.4 L760.0,178.7 L762.0,176.9 L764.0,175.3 L766.0,174.3" stroke="#8a8a8a" stroke-width="0.9" opacity="0.187"/><path d="M640.0,198.1 L642.0,198.1 L644.0,199.0 L646.0,200.4 L648.0,202.2 L650.0,204.0 L652.0,205.3 L654.0,206.0 L656.0,205.8 L658.0,204.9 L660.0,203.3 L662.0,201.5 L664.0,199.8 L666.0,198.6 L668.0,198.0 L670.0,198.3 L672.0,199.3 L674.0,200.9 L676.0,202.7 L678.0,204.4 L680.0,205.5 L682.0,206.0 L684.0,205.6 L686.0,204.5 L688.0,202.9 L690.0,201.1 L692.0,199.5 L694.0,198.4 L696.0,198.0 L698.0,198.5 L700.0,199.7 L702.0,201.3 L704.0,203.1 L706.0,204.7 L708.0,205.7 L710.0,206.0 L712.0,205.4 L714.0,204.2 L716.0,202.5 L718.0,200.7 L720.0,199.1 L722.0,198.2 L724.0,198.0 L726.0,198.7 L728.0,200.0 L730.0,201.8 L732.0,203.6 L734.0,205.0 L736.0,205.9 L738.0,205.9 L740.0,205.2 L742.0,203.8 L744.0,202.0 L746.0,200.2 L748.0,198.8 L750.0,198.1 L752.0,198.1 L754.0,199.0 L756.0,200.4 L758.0,202.2 L760.0,204.0 L762.0,205.3 L764.0,206.0 L766.0,205.8" stroke="#8a8a8a" stroke-width="0.9" opacity="0.22"/><path d="M640.0,205.9 L642.0,205.9 L644.0,205.0 L646.0,203.6 L648.0,201.8 L650.0,200.0 L652.0,198.7 L654.0,198.0 L656.0,198.2 L658.0,199.1 L660.0,200.7 L662.0,202.5 L664.0,204.2 L666.0,205.4 L668.0,206.0 L670.0,205.7 L672.0,204.7 L674.0,203.1 L676.0,201.3 L678.0,199.6 L680.0,198.5 L682.0,198.0 L684.0,198.4 L686.0,199.5 L688.0,201.1 L690.0,202.9 L692.0,204.5 L694.0,205.6 L696.0,206.0 L698.0,205.5 L700.0,204.3 L702.0,202.7 L704.0,200.9 L706.0,199.3 L708.0,198.3 L710.0,198.0 L712.0,198.6 L714.0,199.8 L716.0,201.5 L718.0,203.3 L720.0,204.9 L722.0,205.8 L724.0,206.0 L726.0,205.3 L728.0,204.0 L730.0,202.2 L732.0,200.4 L734.0,199.0 L736.0,198.1 L738.0,198.1 L740.0,198.8 L742.0,200.2 L744.0,202.0 L746.0,203.8 L748.0,205.2 L750.0,205.9 L752.0,205.9 L754.0,205.0 L756.0,203.6 L758.0,201.8 L760.0,200.0 L762.0,198.7 L764.0,198.0 L766.0,198.2" stroke="#8a8a8a" stroke-width="0.9" opacity="0.187"/><path d="M636.9,85.0 L635.8,87.0 L634.6,89.0 L633.6,91.0 L633.1,93.0 L633.1,95.0 L633.7,97.0 L634.8,99.0 L636.0,101.0 L637.2,103.0 L638.0,105.0 L638.3,107.0 L638.1,109.0 L637.3,111.0 L636.2,113.0 L635.0,115.0 L634.0,117.0 L633.5,119.0 L633.5,121.0 L634.0,123.0 L634.8,125.0 L635.8,127.0 L636.7,129.0 L637.3,131.0 L637.4,133.0 L637.1,135.0 L636.5,137.0 L635.7,139.0 L635.0,141.0 L634.5,143.0 L634.4,145.0 L634.6,147.0 L635.2,149.0 L636.0,151.0 L636.6,153.0 L637.0,155.0 L637.0,157.0 L636.7,159.0 L636.0,161.0 L635.1,163.0 L634.4,165.0 L633.9,167.0 L633.9,169.0 L634.4,171.0 L635.2,173.0 L636.2,175.0 L637.2,177.0 L637.8,179.0 L638.1,181.0 L637.7,183.0 L636.9,185.0 L635.8,187.0 L634.6,189.0 L633.6,191.0 L633.1,193.0 L633.1,195.0 L633.7,197.0 L634.8,199.0 L636.0,201.0 L637.2,203.0 L638.0,205.0 L638.3,207.0 L638.1,209.0 L637.3,211.0" stroke="#8a8a8a" stroke-width="0.9" opacity="0.15"/><path d="M649.3,85.0 L648.7,87.0 L648.5,89.0 L648.8,91.0 L649.6,93.0 L650.7,95.0 L651.8,97.0 L652.8,99.0 L653.3,101.0 L653.2,103.0 L652.6,105.0 L651.5,107.0 L650.3,109.0 L649.1,111.0 L648.3,113.0 L648.0,115.0 L648.3,117.0 L649.1,119.0 L650.3,121.0 L651.5,123.0 L652.5,125.0 L653.0,127.0 L653.1,129.0 L652.6,131.0 L651.7,133.0 L650.6,135.0 L649.6,137.0 L649.0,139.0 L648.8,141.0 L649.0,143.0 L649.7,145.0 L650.5,147.0 L651.4,149.0 L651.9,151.0 L652.1,153.0 L651.9,155.0 L651.4,157.0 L650.7,159.0 L650.0,161.0 L649.5,163.0 L649.4,165.0 L649.7,167.0 L650.3,169.0 L651.1,171.0 L651.8,173.0 L652.3,175.0 L652.3,177.0 L652.0,179.0 L651.2,181.0 L650.3,183.0 L649.4,185.0 L648.7,187.0 L648.5,189.0 L648.8,191.0 L649.6,193.0 L650.7,195.0 L651.8,197.0 L652.8,199.0 L653.3,201.0 L653.2,203.0 L652.6,205.0 L651.5,207.0 L650.3,209.0 L649.1,211.0" stroke="#8a8a8a" stroke-width="0.9" opacity="0.25"/><path d="M664.2,85.0 L664.5,87.0 L665.2,89.0 L666.0,91.0 L666.9,93.0 L667.5,95.0 L667.7,97.0 L667.4,99.0 L666.7,101.0 L665.7,103.0 L664.6,105.0 L663.7,107.0 L663.2,109.0 L663.3,111.0 L663.9,113.0 L665.0,115.0 L666.2,117.0 L667.4,119.0 L668.1,121.0 L668.4,123.0 L668.1,125.0 L667.2,127.0 L666.0,129.0 L664.8,131.0 L663.8,133.0 L663.2,135.0 L663.2,137.0 L663.8,139.0 L664.7,141.0 L665.8,143.0 L666.9,145.0 L667.6,147.0 L667.8,149.0 L667.5,151.0 L666.9,153.0 L666.0,155.0 L665.1,157.0 L664.4,159.0 L664.1,161.0 L664.3,163.0 L664.8,165.0 L665.5,167.0 L666.3,169.0 L666.8,171.0 L667.0,173.0 L666.8,175.0 L666.3,177.0 L665.5,179.0 L664.8,181.0 L664.3,183.0 L664.2,185.0 L664.5,187.0 L665.2,189.0 L666.0,191.0 L666.9,193.0 L667.5,195.0 L667.7,197.0 L667.4,199.0 L666.7,201.0 L665.7,203.0 L664.6,205.0 L663.7,207.0 L663.2,209.0 L663.3,211.0" stroke="#8a8a8a" stroke-width="0.9" opacity="0.15"/><path d="M680.0,85.0 L680.7,87.0 L681.4,89.0 L681.9,91.0 L682.1,93.0 L681.9,95.0 L681.3,97.0 L680.5,99.0 L679.7,101.0 L679.1,103.0 L678.8,105.0 L679.1,107.0 L679.8,109.0 L680.7,111.0 L681.8,113.0 L682.6,115.0 L683.0,117.0 L682.9,119.0 L682.3,121.0 L681.3,123.0 L680.1,125.0 L679.0,127.0 L678.3,129.0 L678.0,131.0 L678.4,133.0 L679.3,135.0 L680.5,137.0 L681.7,139.0 L682.7,141.0 L683.3,143.0 L683.3,145.0 L682.7,147.0 L681.7,149.0 L680.5,151.0 L679.4,153.0 L678.7,155.0 L678.4,157.0 L678.7,159.0 L679.4,161.0 L680.4,163.0 L681.3,165.0 L682.1,167.0 L682.4,169.0 L682.3,171.0 L681.8,173.0 L681.1,175.0 L680.3,177.0 L679.7,179.0 L679.4,181.0 L679.5,183.0 L680.0,185.0 L680.6,187.0 L681.4,189.0 L681.9,191.0 L682.1,193.0 L681.9,195.0 L681.3,197.0 L680.5,199.0 L679.7,201.0 L679.1,203.0 L678.9,205.0 L679.1,207.0 L679.8,209.0 L680.7,211.0" stroke="#8a8a8a" stroke-width="0.9" opacity="0.25"/><path d="M696.0,85.0 L696.7,87.0 L697.1,89.0 L697.1,91.0 L696.6,93.0 L696.0,95.0 L695.2,97.0 L694.7,99.0 L694.4,101.0 L694.5,103.0 L695.0,105.0 L695.7,107.0 L696.5,109.0 L697.1,111.0 L697.4,113.0 L697.2,115.0 L696.6,117.0 L695.7,119.0 L694.7,121.0 L693.9,123.0 L693.5,125.0 L693.6,127.0 L694.2,129.0 L695.2,131.0 L696.3,133.0 L697.4,135.0 L698.1,137.0 L698.3,139.0 L697.9,141.0 L697.0,143.0 L695.8,145.0 L694.6,147.0 L693.6,149.0 L693.1,151.0 L693.1,153.0 L693.7,155.0 L694.8,157.0 L696.0,159.0 L697.1,161.0 L697.9,163.0 L698.1,165.0 L697.8,167.0 L697.1,169.0 L696.1,171.0 L695.0,173.0 L694.2,175.0 L693.8,177.0 L693.9,179.0 L694.4,181.0 L695.2,183.0 L696.0,185.0 L696.7,187.0 L697.1,189.0 L697.1,191.0 L696.7,193.0 L696.0,195.0 L695.2,197.0 L694.7,199.0 L694.4,201.0 L694.5,203.0 L695.0,205.0 L695.7,207.0 L696.5,209.0 L697.1,211.0" stroke="#8a8a8a" stroke-width="0.9" opacity="0.15"/><path d="M712.8,85.0 L712.7,87.0 L712.2,89.0 L711.4,91.0 L710.4,93.0 L709.7,95.0 L709.2,97.0 L709.2,99.0 L709.5,101.0 L710.2,103.0 L711.0,105.0 L711.6,107.0 L712.0,109.0 L711.9,111.0 L711.5,113.0 L710.8,115.0 L710.1,117.0 L709.5,119.0 L709.2,121.0 L709.3,123.0 L709.8,125.0 L710.6,127.0 L711.5,129.0 L712.3,131.0 L712.7,133.0 L712.6,135.0 L712.1,137.0 L711.1,139.0 L710.0,141.0 L709.0,143.0 L708.4,145.0 L708.2,147.0 L708.6,149.0 L709.5,151.0 L710.7,153.0 L711.9,155.0 L712.9,157.0 L713.4,159.0 L713.3,161.0 L712.6,163.0 L711.6,165.0 L710.3,167.0 L709.2,169.0 L708.4,171.0 L708.2,173.0 L708.5,175.0 L709.3,177.0 L710.3,179.0 L711.4,181.0 L712.3,183.0 L712.8,185.0 L712.7,187.0 L712.2,189.0 L711.4,191.0 L710.4,193.0 L709.7,195.0 L709.2,197.0 L709.2,199.0 L709.5,201.0 L710.2,203.0 L711.0,205.0 L711.6,207.0 L712.0,209.0 L711.9,211.0" stroke="#8a8a8a" stroke-width="0.9" opacity="0.25"/><path d="M727.1,85.0 L726.0,87.0 L724.9,89.0 L724.0,91.0 L723.5,93.0 L723.5,95.0 L724.1,97.0 L724.9,99.0 L725.9,101.0 L726.8,103.0 L727.3,105.0 L727.4,107.0 L727.1,109.0 L726.4,111.0 L725.6,113.0 L724.9,115.0 L724.4,117.0 L724.4,119.0 L724.7,121.0 L725.3,123.0 L726.1,125.0 L726.7,127.0 L727.1,129.0 L727.0,131.0 L726.6,133.0 L725.9,135.0 L725.0,137.0 L724.3,139.0 L723.9,141.0 L723.9,143.0 L724.4,145.0 L725.3,147.0 L726.3,149.0 L727.3,151.0 L727.9,153.0 L728.1,155.0 L727.7,157.0 L726.8,159.0 L725.6,161.0 L724.5,163.0 L723.5,165.0 L723.1,167.0 L723.2,169.0 L723.8,171.0 L724.9,173.0 L726.2,175.0 L727.3,177.0 L728.1,179.0 L728.3,181.0 L728.0,183.0 L727.1,185.0 L726.0,187.0 L724.9,189.0 L723.9,191.0 L723.5,193.0 L723.5,195.0 L724.1,197.0 L724.9,199.0 L725.9,201.0 L726.8,203.0 L727.3,205.0 L727.4,207.0 L727.1,209.0 L726.4,211.0" stroke="#8a8a8a" stroke-width="0.9" opacity="0.15"/><path d="M739.0,85.0 L738.2,87.0 L738.0,89.0 L738.4,91.0 L739.3,93.0 L740.4,95.0 L741.6,97.0 L742.6,99.0 L743.1,101.0 L743.0,103.0 L742.5,105.0 L741.5,107.0 L740.5,109.0 L739.5,111.0 L738.9,113.0 L738.8,115.0 L739.1,117.0 L739.8,119.0 L740.7,121.0 L741.5,123.0 L742.0,125.0 L742.1,127.0 L741.9,129.0 L741.3,131.0 L740.5,133.0 L739.9,135.0 L739.5,137.0 L739.4,139.0 L739.8,141.0 L740.4,143.0 L741.2,145.0 L741.9,147.0 L742.3,149.0 L742.3,151.0 L741.9,153.0 L741.1,155.0 L740.1,157.0 L739.2,159.0 L738.6,161.0 L738.5,163.0 L738.9,165.0 L739.7,167.0 L740.8,169.0 L742.0,171.0 L742.9,173.0 L743.3,175.0 L743.1,177.0 L742.5,179.0 L741.4,181.0 L740.1,183.0 L739.0,185.0 L738.2,187.0 L738.0,189.0 L738.4,191.0 L739.3,193.0 L740.5,195.0 L741.6,197.0 L742.6,199.0 L743.1,201.0 L743.0,203.0 L742.5,205.0 L741.5,207.0 L740.5,209.0 L739.5,211.0" stroke="#8a8a8a" stroke-width="0.9" opacity="0.25"/><path d="M753.4,85.0 L754.1,87.0 L755.1,89.0 L756.4,91.0 L757.5,93.0 L758.2,95.0 L758.4,97.0 L758.0,99.0 L757.1,101.0 L755.9,103.0 L754.7,105.0 L753.7,107.0 L753.2,109.0 L753.3,111.0 L753.9,113.0 L754.9,115.0 L756.0,117.0 L757.0,119.0 L757.6,121.0 L757.8,123.0 L757.5,125.0 L756.7,127.0 L755.8,129.0 L755.0,131.0 L754.4,133.0 L754.1,135.0 L754.3,137.0 L754.9,139.0 L755.6,141.0 L756.4,143.0 L756.9,145.0 L757.0,147.0 L756.7,149.0 L756.2,151.0 L755.4,153.0 L754.7,155.0 L754.3,157.0 L754.2,159.0 L754.6,161.0 L755.3,163.0 L756.2,165.0 L757.0,167.0 L757.6,169.0 L757.7,171.0 L757.4,173.0 L756.6,175.0 L755.5,177.0 L754.5,179.0 L753.6,181.0 L753.2,183.0 L753.4,185.0 L754.1,187.0 L755.1,189.0 L756.4,191.0 L757.5,193.0 L758.2,195.0 L758.4,197.0 L758.0,199.0 L757.1,201.0 L755.9,203.0 L754.6,205.0 L753.7,207.0 L753.2,209.0 L753.3,211.0" stroke="#8a8a8a" stroke-width="0.9" opacity="0.15"/><path d="M770.9,85.0 L771.9,87.0 L772.7,89.0 L773.1,91.0 L772.9,93.0 L772.2,95.0 L771.2,97.0 L770.0,99.0 L768.9,101.0 L768.2,103.0 L768.0,105.0 L768.5,107.0 L769.4,109.0 L770.6,111.0 L771.9,113.0 L772.8,115.0 L773.3,117.0 L773.2,119.0 L772.6,121.0 L771.5,123.0 L770.4,125.0 L769.3,127.0 L768.6,129.0 L768.4,131.0 L768.8,133.0 L769.5,135.0 L770.5,137.0 L771.4,139.0 L772.1,141.0 L772.4,143.0 L772.3,145.0 L771.7,147.0 L771.0,149.0 L770.2,151.0 L769.6,153.0 L769.4,155.0 L769.5,157.0 L770.0,159.0 L770.8,161.0 L771.5,163.0 L772.0,165.0 L772.1,167.0 L771.8,169.0 L771.2,171.0 L770.4,173.0 L769.6,175.0 L769.0,177.0 L768.9,179.0 L769.2,181.0 L769.9,183.0 L770.9,185.0 L771.9,187.0 L772.7,189.0 L773.1,191.0 L772.9,193.0 L772.2,195.0 L771.2,197.0 L770.0,199.0 L768.9,201.0 L768.2,203.0 L768.0,205.0 L768.5,207.0 L769.4,209.0 L770.6,211.0" stroke="#8a8a8a" stroke-width="0.9" opacity="0.25"/><path d="M787.2,85.0 L787.4,87.0 L787.1,89.0 L786.5,91.0 L785.6,93.0 L784.6,95.0 L783.8,97.0 L783.5,99.0 L783.6,101.0 L784.3,103.0 L785.3,105.0 L786.5,107.0 L787.5,109.0 L788.2,111.0 L788.3,113.0 L787.8,115.0 L786.9,117.0 L785.7,119.0 L784.4,121.0 L783.5,123.0 L783.0,125.0 L783.2,127.0 L783.8,129.0 L784.9,131.0 L786.1,133.0 L787.2,135.0 L787.9,137.0 L788.1,139.0 L787.8,141.0 L787.0,143.0 L785.9,145.0 L784.9,147.0 L784.1,149.0 L783.8,151.0 L783.9,153.0 L784.5,155.0 L785.3,157.0 L786.1,159.0 L786.8,161.0 L787.1,163.0 L787.0,165.0 L786.6,167.0 L785.9,169.0 L785.1,171.0 L784.6,173.0 L784.4,175.0 L784.6,177.0 L785.1,179.0 L785.8,181.0 L786.6,183.0 L787.2,185.0 L787.4,187.0 L787.1,189.0 L786.5,191.0 L785.6,193.0 L784.6,195.0 L783.9,197.0 L783.5,199.0 L783.7,201.0 L784.3,203.0 L785.3,205.0 L786.5,207.0 L787.5,209.0 L788.2,211.0" stroke="#8a8a8a" stroke-width="0.9" opacity="0.15"/><path d="M640.0,95.5 L642.0,93.8 L644.0,92.0 L646.0,90.5 L648.0,89.6 L650.0,89.6 L652.0,90.3 L654.0,91.7 L656.0,93.4 L658.0,95.2 L660.0,96.6 L662.0,97.4 L664.0,97.4 L666.0,96.6 L668.0,95.1 L670.0,93.3 L672.0,91.6 L674.0,90.2 L676.0,89.5 L678.0,89.7 L680.0,90.6 L682.0,92.1 L684.0,93.9 L686.0,95.6 L688.0,96.9 L690.0,97.5 L692.0,97.2 L694.0,96.2 L696.0,94.7 L698.0,92.9 L700.0,91.2 L702.0,90.0 L704.0,89.5 L706.0,89.8 L708.0,90.9 L710.0,92.5 L712.0,94.4 L714.0,96.0 L716.0,97.1 L718.0,97.5 L720.0,97.1 L722.0,95.9 L724.0,94.2 L726.0,92.4 L728.0,90.8 L730.0,89.8 L732.0,89.5 L734.0,90.0 L736.0,91.3 L738.0,93.0 L740.0,94.8 L742.0,96.3 L744.0,97.3 L746.0,97.5 L748.0,96.8 L750.0,95.5 L752.0,93.8 L754.0,92.0 L756.0,90.5 L758.0,89.6 L760.0,89.6 L762.0,90.3 L764.0,91.7 L766.0,93.4" stroke="#8a8a8a" stroke-width="0.9" opacity="0.25"/><path d="M640.0,91.5 L642.0,93.2 L644.0,95.0 L646.0,96.5 L648.0,97.4 L650.0,97.4 L652.0,96.7 L654.0,95.3 L656.0,93.6 L658.0,91.8 L660.0,90.4 L662.0,89.6 L664.0,89.6 L666.0,90.4 L668.0,91.9 L670.0,93.7 L672.0,95.4 L674.0,96.8 L676.0,97.5 L678.0,97.3 L680.0,96.4 L682.0,94.9 L684.0,93.1 L686.0,91.4 L688.0,90.1 L690.0,89.5 L692.0,89.8 L694.0,90.8 L696.0,92.3 L698.0,94.1 L700.0,95.8 L702.0,97.0 L704.0,97.5 L706.0,97.2 L708.0,96.1 L710.0,94.5 L712.0,92.6 L714.0,91.0 L716.0,89.9 L718.0,89.5 L720.0,89.9 L722.0,91.1 L724.0,92.8 L726.0,94.6 L728.0,96.2 L730.0,97.2 L732.0,97.5 L734.0,97.0 L736.0,95.7 L738.0,94.0 L740.0,92.2 L742.0,90.7 L744.0,89.7 L746.0,89.5 L748.0,90.2 L750.0,91.5 L752.0,93.2 L754.0,95.0 L756.0,96.5 L758.0,97.4 L760.0,97.4 L762.0,96.7 L764.0,95.3 L766.0,93.6" stroke="#8a8a8a" stroke-width="0.9" opacity="0.2125"/><path d="M640.0,117.8 L642.0,116.1 L644.0,115.0 L646.0,114.5 L648.0,114.9 L650.0,116.0 L652.0,117.6 L654.0,119.4 L656.0,121.0 L658.0,122.1 L660.0,122.5 L662.0,122.0 L664.0,120.8 L666.0,119.2 L668.0,117.4 L670.0,115.8 L672.0,114.8 L674.0,114.5 L676.0,115.1 L678.0,116.3 L680.0,118.0 L682.0,119.8 L684.0,121.4 L686.0,122.3 L688.0,122.5 L690.0,121.8 L692.0,120.5 L694.0,118.7 L696.0,116.9 L698.0,115.5 L700.0,114.6 L702.0,114.6 L704.0,115.3 L706.0,116.7 L708.0,118.5 L710.0,120.3 L712.0,121.7 L714.0,122.4 L716.0,122.4 L718.0,121.5 L720.0,120.1 L722.0,118.3 L724.0,116.5 L726.0,115.2 L728.0,114.5 L730.0,114.7 L732.0,115.6 L734.0,117.2 L736.0,119.0 L738.0,120.7 L740.0,121.9 L742.0,122.5 L744.0,122.2 L746.0,121.2 L748.0,119.6 L750.0,117.8 L752.0,116.1 L754.0,115.0 L756.0,114.5 L758.0,114.9 L760.0,116.0 L762.0,117.6 L764.0,119.4 L766.0,121.0" stroke="#8a8a8a" stroke-width="0.9" opacity="0.25"/><path d="M640.0,119.2 L642.0,120.9 L644.0,122.0 L646.0,122.5 L648.0,122.1 L650.0,121.0 L652.0,119.4 L654.0,117.6 L656.0,116.0 L658.0,114.9 L660.0,114.5 L662.0,115.0 L664.0,116.2 L666.0,117.8 L668.0,119.6 L670.0,121.2 L672.0,122.2 L674.0,122.5 L676.0,121.9 L678.0,120.7 L680.0,119.0 L682.0,117.2 L684.0,115.6 L686.0,114.7 L688.0,114.5 L690.0,115.2 L692.0,116.5 L694.0,118.3 L696.0,120.1 L698.0,121.5 L700.0,122.4 L702.0,122.4 L704.0,121.7 L706.0,120.3 L708.0,118.5 L710.0,116.7 L712.0,115.3 L714.0,114.6 L716.0,114.6 L718.0,115.5 L720.0,116.9 L722.0,118.7 L724.0,120.5 L726.0,121.8 L728.0,122.5 L730.0,122.3 L732.0,121.4 L734.0,119.8 L736.0,118.0 L738.0,116.3 L740.0,115.1 L742.0,114.5 L744.0,114.8 L746.0,115.8 L748.0,117.4 L750.0,119.2 L752.0,120.9 L754.0,122.0 L756.0,122.5 L758.0,122.1 L760.0,121.0 L762.0,119.4 L764.0,117.6 L766.0,116.0" stroke="#8a8a8a" stroke-width="0.9" opacity="0.2125"/><path d="M640.0,139.4 L642.0,138.6 L644.0,138.6 L646.0,139.4 L648.0,140.8 L650.0,142.6 L652.0,144.3 L654.0,145.7 L656.0,146.4 L658.0,146.4 L660.0,145.5 L662.0,144.0 L664.0,142.2 L666.0,140.5 L668.0,139.2 L670.0,138.5 L672.0,138.7 L674.0,139.7 L676.0,141.2 L678.0,143.0 L680.0,144.7 L682.0,146.0 L684.0,146.5 L686.0,146.2 L688.0,145.2 L690.0,143.6 L692.0,141.8 L694.0,140.1 L696.0,138.9 L698.0,138.5 L700.0,138.9 L702.0,140.0 L704.0,141.7 L706.0,143.5 L708.0,145.1 L710.0,146.2 L712.0,146.5 L714.0,146.0 L716.0,144.8 L718.0,143.1 L720.0,141.3 L722.0,139.8 L724.0,138.8 L726.0,138.5 L728.0,139.1 L730.0,140.4 L732.0,142.1 L734.0,143.9 L736.0,145.4 L738.0,146.3 L740.0,146.5 L742.0,145.8 L744.0,144.4 L746.0,142.7 L748.0,140.9 L750.0,139.4 L752.0,138.6 L754.0,138.6 L756.0,139.4 L758.0,140.8 L760.0,142.6 L762.0,144.3 L764.0,145.7 L766.0,146.4" stroke="#8a8a8a" stroke-width="0.9" opacity="0.25"/><path d="M640.0,145.6 L642.0,146.4 L644.0,146.4 L646.0,145.6 L648.0,144.2 L650.0,142.4 L652.0,140.7 L654.0,139.3 L656.0,138.6 L658.0,138.6 L660.0,139.5 L662.0,141.0 L664.0,142.8 L666.0,144.5 L668.0,145.8 L670.0,146.5 L672.0,146.3 L674.0,145.3 L676.0,143.8 L678.0,142.0 L680.0,140.3 L682.0,139.0 L684.0,138.5 L686.0,138.8 L688.0,139.8 L690.0,141.4 L692.0,143.2 L694.0,144.9 L696.0,146.1 L698.0,146.5 L700.0,146.1 L702.0,145.0 L704.0,143.3 L706.0,141.5 L708.0,139.9 L710.0,138.8 L712.0,138.5 L714.0,139.0 L716.0,140.2 L718.0,141.9 L720.0,143.7 L722.0,145.2 L724.0,146.2 L726.0,146.5 L728.0,145.9 L730.0,144.6 L732.0,142.9 L734.0,141.1 L736.0,139.6 L738.0,138.7 L740.0,138.5 L742.0,139.2 L744.0,140.6 L746.0,142.3 L748.0,144.1 L750.0,145.6 L752.0,146.4 L754.0,146.4 L756.0,145.6 L758.0,144.2 L760.0,142.4 L762.0,140.7 L764.0,139.3 L766.0,138.6" stroke="#8a8a8a" stroke-width="0.9" opacity="0.2125"/><path d="M640.0,162.0 L642.0,162.4 L644.0,163.6 L646.0,165.2 L648.0,167.0 L650.0,168.6 L652.0,169.7 L654.0,170.0 L656.0,169.5 L658.0,168.3 L660.0,166.6 L662.0,164.8 L664.0,163.2 L666.0,162.2 L668.0,162.0 L670.0,162.6 L672.0,163.9 L674.0,165.7 L676.0,167.5 L678.0,169.0 L680.0,169.8 L682.0,169.9 L684.0,169.2 L686.0,167.9 L688.0,166.1 L690.0,164.3 L692.0,162.9 L694.0,162.1 L696.0,162.1 L698.0,162.9 L700.0,164.3 L702.0,166.1 L704.0,167.9 L706.0,169.2 L708.0,169.9 L710.0,169.8 L712.0,168.9 L714.0,167.4 L716.0,165.7 L718.0,163.9 L720.0,162.6 L722.0,162.0 L724.0,162.2 L726.0,163.2 L728.0,164.8 L730.0,166.6 L732.0,168.3 L734.0,169.5 L736.0,170.0 L738.0,169.7 L740.0,168.6 L742.0,167.0 L744.0,165.2 L746.0,163.6 L748.0,162.4 L750.0,162.0 L752.0,162.4 L754.0,163.6 L756.0,165.2 L758.0,167.0 L760.0,168.6 L762.0,169.7 L764.0,170.0 L766.0,169.5" stroke="#8a8a8a" stroke-width="0.9" opacity="0.25"/><path d="M640.0,170.0 L642.0,169.6 L644.0,168.4 L646.0,166.8 L648.0,165.0 L650.0,163.4 L652.0,162.3 L654.0,162.0 L656.0,162.5 L658.0,163.7 L660.0,165.4 L662.0,167.2 L664.0,168.8 L666.0,169.8 L668.0,170.0 L670.0,169.4 L672.0,168.1 L674.0,166.3 L676.0,164.5 L678.0,163.0 L680.0,162.2 L682.0,162.1 L684.0,162.8 L686.0,164.1 L688.0,165.9 L690.0,167.7 L692.0,169.1 L694.0,169.9 L696.0,169.9 L698.0,169.1 L700.0,167.7 L702.0,165.9 L704.0,164.1 L706.0,162.8 L708.0,162.1 L710.0,162.2 L712.0,163.1 L714.0,164.6 L716.0,166.3 L718.0,168.1 L720.0,169.4 L722.0,170.0 L724.0,169.8 L726.0,168.8 L728.0,167.2 L730.0,165.4 L732.0,163.7 L734.0,162.5 L736.0,162.0 L738.0,162.3 L740.0,163.4 L742.0,165.0 L744.0,166.8 L746.0,168.4 L748.0,169.6 L750.0,170.0 L752.0,169.6 L754.0,168.4 L756.0,166.8 L758.0,165.0 L760.0,163.4 L762.0,162.3 L764.0,162.0 L766.0,162.5" stroke="#8a8a8a" stroke-width="0.9" opacity="0.2125"/><path d="M640.0,186.9 L642.0,188.4 L644.0,190.2 L646.0,191.9 L648.0,193.3 L650.0,194.0 L652.0,193.8 L654.0,192.9 L656.0,191.4 L658.0,189.6 L660.0,187.9 L662.0,186.6 L664.0,186.0 L666.0,186.3 L668.0,187.3 L670.0,188.8 L672.0,190.6 L674.0,192.3 L676.0,193.5 L678.0,194.0 L680.0,193.7 L682.0,192.6 L684.0,191.0 L686.0,189.1 L688.0,187.5 L690.0,186.4 L692.0,186.0 L694.0,186.4 L696.0,187.6 L698.0,189.3 L700.0,191.1 L702.0,192.7 L704.0,193.7 L706.0,194.0 L708.0,193.5 L710.0,192.2 L712.0,190.5 L714.0,188.7 L716.0,187.2 L718.0,186.2 L720.0,186.0 L722.0,186.7 L724.0,188.0 L726.0,189.7 L728.0,191.5 L730.0,193.0 L732.0,193.9 L734.0,193.9 L736.0,193.2 L738.0,191.8 L740.0,190.1 L742.0,188.3 L744.0,186.9 L746.0,186.1 L748.0,186.1 L750.0,186.9 L752.0,188.4 L754.0,190.2 L756.0,191.9 L758.0,193.3 L760.0,194.0 L762.0,193.8 L764.0,192.9 L766.0,191.4" stroke="#8a8a8a" stroke-width="0.9" opacity="0.25"/><path d="M640.0,193.1 L642.0,191.6 L644.0,189.8 L646.0,188.1 L648.0,186.7 L650.0,186.0 L652.0,186.2 L654.0,187.1 L656.0,188.6 L658.0,190.4 L660.0,192.1 L662.0,193.4 L664.0,194.0 L666.0,193.7 L668.0,192.7 L670.0,191.2 L672.0,189.4 L674.0,187.7 L676.0,186.5 L678.0,186.0 L680.0,186.3 L682.0,187.4 L684.0,189.0 L686.0,190.9 L688.0,192.5 L690.0,193.6 L692.0,194.0 L694.0,193.6 L696.0,192.4 L698.0,190.7 L700.0,188.9 L702.0,187.3 L704.0,186.3 L706.0,186.0 L708.0,186.5 L710.0,187.8 L712.0,189.5 L714.0,191.3 L716.0,192.8 L718.0,193.8 L720.0,194.0 L722.0,193.3 L724.0,192.0 L726.0,190.3 L728.0,188.5 L730.0,187.0 L732.0,186.1 L734.0,186.1 L736.0,186.8 L738.0,188.2 L740.0,189.9 L742.0,191.7 L744.0,193.1 L746.0,193.9 L748.0,193.9 L750.0,193.1 L752.0,191.6 L754.0,189.8 L756.0,188.1 L758.0,186.7 L760.0,186.0 L762.0,186.2 L764.0,187.1 L766.0,188.6" stroke="#8a8a8a" stroke-width="0.9" opacity="0.2125"/><path d="M644.0,85.0 L643.3,87.0 L642.9,89.0 L643.1,91.0 L643.8,93.0 L644.9,95.0 L646.1,97.0 L647.1,99.0 L647.7,101.0 L647.8,103.0 L647.3,105.0 L646.3,107.0 L645.1,109.0 L643.9,111.0 L643.0,113.0 L642.5,115.0 L642.7,117.0 L643.4,119.0 L644.5,121.0 L645.7,123.0 L646.8,125.0 L647.4,127.0 L647.6,129.0 L647.2,131.0 L646.4,133.0 L645.3,135.0 L644.3,137.0 L643.6,139.0 L643.3,141.0 L643.5,143.0 L644.1,145.0 L644.9,147.0 L645.7,149.0 L646.3,151.0 L646.6,153.0 L646.4,155.0 L645.9,157.0 L645.2,159.0 L644.5,161.0 L644.0,163.0 L643.9,165.0 L644.1,167.0 L644.7,169.0 L645.5,171.0 L646.2,173.0 L646.8,175.0 L646.9,177.0 L646.6,179.0 L645.9,181.0 L645.0,183.0 L644.0,185.0 L643.3,187.0 L642.9,189.0 L643.2,191.0 L643.9,193.0 L644.9,195.0 L646.1,197.0 L647.1,199.0 L647.7,201.0 L647.8,203.0 L647.3,205.0 L646.3,207.0 L645.1,209.0 L643.9,211.0" stroke="#777" stroke-width="1.0" opacity="0.24"/><path d="M658.6,85.0 L658.9,87.0 L659.5,89.0 L660.4,91.0 L661.3,93.0 L662.0,95.0 L662.3,97.0 L662.1,99.0 L661.4,101.0 L660.4,103.0 L659.3,105.0 L658.3,107.0 L657.8,109.0 L657.7,111.0 L658.2,113.0 L659.2,115.0 L660.4,117.0 L661.6,119.0 L662.5,121.0 L662.9,123.0 L662.7,125.0 L661.9,127.0 L660.8,129.0 L659.6,131.0 L658.5,133.0 L657.8,135.0 L657.7,137.0 L658.1,139.0 L659.0,141.0 L660.1,143.0 L661.1,145.0 L661.9,147.0 L662.2,149.0 L662.1,151.0 L661.5,153.0 L660.6,155.0 L659.7,157.0 L659.0,159.0 L658.7,161.0 L658.8,163.0 L659.2,165.0 L659.9,167.0 L660.7,169.0 L661.3,171.0 L661.5,173.0 L661.3,175.0 L660.8,177.0 L660.1,179.0 L659.4,181.0 L658.8,183.0 L658.6,185.0 L658.9,187.0 L659.5,189.0 L660.4,191.0 L661.3,193.0 L662.0,195.0 L662.3,197.0 L662.1,199.0 L661.4,201.0 L660.4,203.0 L659.3,205.0 L658.3,207.0 L657.8,209.0 L657.7,211.0" stroke="#777" stroke-width="1.0" opacity="0.4"/><path d="M674.4,85.0 L675.1,87.0 L675.8,89.0 L676.4,91.0 L676.6,93.0 L676.5,95.0 L675.9,97.0 L675.1,99.0 L674.3,101.0 L673.6,103.0 L673.3,105.0 L673.4,107.0 L674.1,109.0 L675.0,111.0 L676.1,113.0 L677.0,115.0 L677.5,117.0 L677.6,119.0 L677.1,121.0 L676.1,123.0 L674.9,125.0 L673.7,127.0 L672.9,129.0 L672.5,131.0 L672.7,133.0 L673.5,135.0 L674.7,137.0 L675.9,139.0 L677.0,141.0 L677.7,143.0 L677.8,145.0 L677.3,147.0 L676.4,149.0 L675.3,151.0 L674.2,153.0 L673.4,155.0 L673.0,157.0 L673.1,159.0 L673.8,161.0 L674.7,163.0 L675.6,165.0 L676.4,167.0 L676.8,169.0 L676.8,171.0 L676.4,173.0 L675.7,175.0 L674.9,177.0 L674.2,179.0 L673.9,181.0 L674.0,183.0 L674.4,185.0 L675.1,187.0 L675.8,189.0 L676.4,191.0 L676.6,193.0 L676.5,195.0 L675.9,197.0 L675.1,199.0 L674.3,201.0 L673.6,203.0 L673.3,205.0 L673.5,207.0 L674.1,209.0 L675.0,211.0" stroke="#777" stroke-width="1.0" opacity="0.24"/><path d="M690.4,85.0 L691.1,87.0 L691.5,89.0 L691.6,91.0 L691.2,93.0 L690.5,95.0 L689.8,97.0 L689.2,99.0 L688.9,101.0 L689.0,103.0 L689.4,105.0 L690.1,107.0 L690.9,109.0 L691.6,111.0 L691.9,113.0 L691.8,115.0 L691.3,117.0 L690.4,119.0 L689.4,121.0 L688.5,123.0 L688.0,125.0 L688.0,127.0 L688.5,129.0 L689.4,131.0 L690.6,133.0 L691.7,135.0 L692.5,137.0 L692.8,139.0 L692.6,141.0 L691.8,143.0 L690.6,145.0 L689.4,147.0 L688.3,149.0 L687.7,151.0 L687.6,153.0 L688.1,155.0 L689.0,157.0 L690.2,159.0 L691.3,161.0 L692.2,163.0 L692.6,165.0 L692.4,167.0 L691.7,169.0 L690.8,171.0 L689.8,173.0 L688.9,175.0 L688.4,177.0 L688.4,179.0 L688.8,181.0 L689.5,183.0 L690.4,185.0 L691.1,187.0 L691.5,189.0 L691.6,191.0 L691.2,193.0 L690.6,195.0 L689.8,197.0 L689.2,199.0 L688.9,201.0 L689.0,203.0 L689.4,205.0 L690.1,207.0 L690.9,209.0 L691.6,211.0" stroke="#777" stroke-width="1.0" opacity="0.4"/><path d="M707.1,85.0 L707.2,87.0 L706.8,89.0 L706.0,91.0 L705.1,93.0 L704.3,95.0 L703.8,97.0 L703.7,99.0 L704.0,101.0 L704.6,103.0 L705.4,105.0 L706.0,107.0 L706.4,109.0 L706.5,111.0 L706.1,113.0 L705.4,115.0 L704.7,117.0 L704.0,119.0 L703.7,121.0 L703.7,123.0 L704.2,125.0 L705.0,127.0 L705.9,129.0 L706.7,131.0 L707.2,133.0 L707.3,135.0 L706.8,137.0 L705.9,139.0 L704.8,141.0 L703.7,143.0 L703.0,145.0 L702.7,147.0 L702.9,149.0 L703.7,151.0 L704.9,153.0 L706.1,155.0 L707.2,157.0 L707.8,159.0 L707.9,161.0 L707.3,163.0 L706.3,165.0 L705.1,167.0 L703.9,169.0 L703.1,171.0 L702.7,173.0 L702.9,175.0 L703.6,177.0 L704.6,179.0 L705.7,181.0 L706.6,183.0 L707.2,185.0 L707.2,187.0 L706.8,189.0 L706.0,191.0 L705.1,193.0 L704.3,195.0 L703.8,197.0 L703.7,199.0 L704.0,201.0 L704.6,203.0 L705.4,205.0 L706.0,207.0 L706.4,209.0 L706.5,211.0" stroke="#777" stroke-width="1.0" opacity="0.24"/><path d="M721.9,85.0 L720.8,87.0 L719.6,89.0 L718.7,91.0 L718.1,93.0 L718.0,95.0 L718.5,97.0 L719.3,99.0 L720.2,101.0 L721.1,103.0 L721.7,105.0 L721.9,107.0 L721.6,109.0 L721.0,111.0 L720.2,113.0 L719.5,115.0 L719.0,117.0 L718.9,119.0 L719.2,121.0 L719.8,123.0 L720.5,125.0 L721.2,127.0 L721.6,129.0 L721.6,131.0 L721.2,133.0 L720.5,135.0 L719.6,137.0 L718.9,139.0 L718.4,141.0 L718.3,143.0 L718.7,145.0 L719.6,147.0 L720.6,149.0 L721.6,151.0 L722.4,153.0 L722.6,155.0 L722.3,157.0 L721.6,159.0 L720.4,161.0 L719.2,163.0 L718.2,165.0 L717.6,167.0 L717.6,169.0 L718.1,171.0 L719.1,173.0 L720.4,175.0 L721.6,177.0 L722.4,179.0 L722.8,181.0 L722.6,183.0 L721.9,185.0 L720.8,187.0 L719.6,189.0 L718.7,191.0 L718.1,193.0 L718.0,195.0 L718.5,197.0 L719.3,199.0 L720.2,201.0 L721.1,203.0 L721.7,205.0 L721.9,207.0 L721.6,209.0 L721.0,211.0" stroke="#777" stroke-width="1.0" opacity="0.4"/><path d="M733.7,85.0 L732.9,87.0 L732.5,89.0 L732.8,91.0 L733.5,93.0 L734.6,95.0 L735.8,97.0 L736.9,99.0 L737.5,101.0 L737.5,103.0 L737.1,105.0 L736.2,107.0 L735.2,109.0 L734.2,111.0 L733.6,113.0 L733.4,115.0 L733.6,117.0 L734.2,119.0 L735.0,121.0 L735.8,123.0 L736.4,125.0 L736.6,127.0 L736.4,129.0 L735.8,131.0 L735.1,133.0 L734.4,135.0 L734.0,137.0 L733.9,139.0 L734.2,141.0 L734.8,143.0 L735.6,145.0 L736.3,147.0 L736.8,149.0 L736.9,151.0 L736.6,153.0 L735.8,155.0 L734.8,157.0 L733.9,159.0 L733.2,161.0 L732.9,163.0 L733.2,165.0 L734.0,167.0 L735.1,169.0 L736.2,171.0 L737.2,173.0 L737.8,175.0 L737.8,177.0 L737.2,179.0 L736.2,181.0 L734.9,183.0 L733.7,185.0 L732.9,187.0 L732.5,189.0 L732.8,191.0 L733.5,193.0 L734.7,195.0 L735.9,197.0 L736.9,199.0 L737.5,201.0 L737.5,203.0 L737.1,205.0 L736.2,207.0 L735.2,209.0 L734.2,211.0" stroke="#777" stroke-width="1.0" opacity="0.24"/><path d="M747.7,85.0 L748.3,87.0 L749.3,89.0 L750.6,91.0 L751.7,93.0 L752.6,95.0 L752.9,97.0 L752.6,99.0 L751.8,101.0 L750.7,103.0 L749.5,105.0 L748.4,107.0 L747.8,109.0 L747.7,111.0 L748.2,113.0 L749.1,115.0 L750.2,117.0 L751.2,119.0 L752.0,121.0 L752.2,123.0 L752.0,125.0 L751.4,127.0 L750.5,129.0 L749.6,131.0 L749.0,133.0 L748.7,135.0 L748.8,137.0 L749.3,139.0 L750.0,141.0 L750.8,143.0 L751.3,145.0 L751.5,147.0 L751.3,149.0 L750.7,151.0 L750.0,153.0 L749.3,155.0 L748.8,157.0 L748.6,159.0 L748.9,161.0 L749.6,163.0 L750.5,165.0 L751.4,167.0 L752.1,169.0 L752.3,171.0 L752.0,173.0 L751.3,175.0 L750.3,177.0 L749.2,179.0 L748.2,181.0 L747.7,183.0 L747.7,185.0 L748.3,187.0 L749.3,189.0 L750.6,191.0 L751.7,193.0 L752.6,195.0 L752.9,197.0 L752.6,199.0 L751.8,201.0 L750.7,203.0 L749.4,205.0 L748.4,207.0 L747.8,209.0 L747.7,211.0" stroke="#777" stroke-width="1.0" opacity="0.4"/><path d="M765.1,85.0 L766.2,87.0 L767.1,89.0 L767.6,91.0 L767.5,93.0 L767.0,95.0 L766.0,97.0 L764.8,99.0 L763.6,101.0 L762.8,103.0 L762.5,105.0 L762.8,107.0 L763.6,109.0 L764.8,111.0 L766.1,113.0 L767.1,115.0 L767.7,117.0 L767.7,119.0 L767.2,121.0 L766.3,123.0 L765.1,125.0 L764.1,127.0 L763.3,129.0 L763.0,131.0 L763.2,133.0 L763.9,135.0 L764.8,137.0 L765.7,139.0 L766.5,141.0 L766.9,143.0 L766.8,145.0 L766.3,147.0 L765.6,149.0 L764.8,151.0 L764.2,153.0 L763.9,155.0 L764.0,157.0 L764.5,159.0 L765.2,161.0 L765.9,163.0 L766.4,165.0 L766.6,167.0 L766.4,169.0 L765.8,171.0 L765.0,173.0 L764.2,175.0 L763.5,177.0 L763.3,179.0 L763.5,181.0 L764.2,183.0 L765.1,185.0 L766.2,187.0 L767.1,189.0 L767.6,191.0 L767.5,193.0 L766.9,195.0 L765.9,197.0 L764.7,199.0 L763.6,201.0 L762.8,203.0 L762.5,205.0 L762.8,207.0 L763.7,209.0 L764.8,211.0" stroke="#777" stroke-width="1.0" opacity="0.24"/><path d="M781.7,85.0 L781.9,87.0 L781.8,89.0 L781.2,91.0 L780.3,93.0 L779.3,95.0 L778.4,97.0 L778.0,99.0 L778.0,101.0 L778.6,103.0 L779.5,105.0 L780.7,107.0 L781.8,109.0 L782.6,111.0 L782.8,113.0 L782.5,115.0 L781.7,117.0 L780.5,119.0 L779.2,121.0 L778.2,123.0 L777.6,125.0 L777.6,127.0 L778.1,129.0 L779.1,131.0 L780.3,133.0 L781.5,135.0 L782.3,137.0 L782.6,139.0 L782.3,141.0 L781.6,143.0 L780.7,145.0 L779.6,147.0 L778.8,149.0 L778.4,151.0 L778.4,153.0 L778.9,155.0 L779.7,157.0 L780.5,159.0 L781.2,161.0 L781.6,163.0 L781.5,165.0 L781.1,167.0 L780.5,169.0 L779.7,171.0 L779.1,173.0 L778.9,175.0 L779.0,177.0 L779.5,179.0 L780.2,181.0 L781.0,183.0 L781.7,185.0 L781.9,187.0 L781.8,189.0 L781.2,191.0 L780.3,193.0 L779.3,195.0 L778.4,197.0 L778.0,199.0 L778.0,201.0 L778.6,203.0 L779.6,205.0 L780.7,207.0 L781.8,209.0 L782.6,211.0" stroke="#777" stroke-width="1.0" opacity="0.4"/><path d="M796.4,85.0 L796.0,87.0 L795.3,89.0 L794.6,91.0 L793.9,93.0 L793.6,95.0 L793.7,97.0 L794.3,99.0 L795.1,101.0 L796.0,103.0 L796.8,105.0 L797.3,107.0 L797.2,109.0 L796.7,111.0 L795.8,113.0 L794.7,115.0 L793.6,117.0 L792.9,119.0 L792.7,121.0 L793.0,123.0 L793.8,125.0 L795.0,127.0 L796.3,129.0 L797.3,131.0 L797.8,133.0 L797.8,135.0 L797.2,137.0 L796.2,139.0 L795.0,141.0 L793.8,143.0 L793.0,145.0 L792.7,147.0 L793.0,149.0 L793.7,151.0 L794.7,153.0 L795.8,155.0 L796.7,157.0 L797.2,159.0 L797.2,161.0 L796.7,163.0 L795.9,165.0 L795.0,167.0 L794.2,169.0 L793.8,171.0 L793.7,173.0 L794.1,175.0 L794.7,177.0 L795.5,179.0 L796.1,181.0 L796.5,183.0 L796.4,185.0 L796.0,187.0 L795.3,189.0 L794.6,191.0 L794.0,193.0 L793.6,195.0 L793.7,197.0 L794.3,199.0 L795.1,201.0 L796.0,203.0 L796.8,205.0 L797.3,207.0 L797.2,209.0 L796.7,211.0" stroke="#777" stroke-width="1.0" opacity="0.24"/><path d="M640.0,96.0 L642.0,94.6 L644.0,93.7 L646.0,93.6 L648.0,94.3 L650.0,95.6 L652.0,97.4 L654.0,99.2 L656.0,100.6 L658.0,101.4 L660.0,101.4 L662.0,100.6 L664.0,99.2 L666.0,97.4 L668.0,95.6 L670.0,94.3 L672.0,93.6 L674.0,93.7 L676.0,94.6 L678.0,96.1 L680.0,97.8 L682.0,99.6 L684.0,100.9 L686.0,101.5 L688.0,101.3 L690.0,100.3 L692.0,98.7 L694.0,96.9 L696.0,95.2 L698.0,94.0 L700.0,93.5 L702.0,93.8 L704.0,94.9 L706.0,96.5 L708.0,98.3 L710.0,99.9 L712.0,101.1 L714.0,101.5 L716.0,101.1 L718.0,99.9 L720.0,98.3 L722.0,96.5 L724.0,94.9 L726.0,93.8 L728.0,93.5 L730.0,94.0 L732.0,95.2 L734.0,96.9 L736.0,98.7 L738.0,100.3 L740.0,101.3 L742.0,101.5 L744.0,100.9 L746.0,99.6 L748.0,97.8 L750.0,96.0 L752.0,94.6 L754.0,93.7 L756.0,93.6 L758.0,94.3 L760.0,95.6 L762.0,97.4 L764.0,99.2 L766.0,100.6" stroke="#777" stroke-width="1.0" opacity="0.4"/><path d="M640.0,99.0 L642.0,100.4 L644.0,101.3 L646.0,101.4 L648.0,100.7 L650.0,99.4 L652.0,97.6 L654.0,95.8 L656.0,94.4 L658.0,93.6 L660.0,93.6 L662.0,94.4 L664.0,95.8 L666.0,97.6 L668.0,99.4 L670.0,100.7 L672.0,101.4 L674.0,101.3 L676.0,100.4 L678.0,98.9 L680.0,97.2 L682.0,95.4 L684.0,94.1 L686.0,93.5 L688.0,93.7 L690.0,94.7 L692.0,96.3 L694.0,98.1 L696.0,99.8 L698.0,101.0 L700.0,101.5 L702.0,101.2 L704.0,100.1 L706.0,98.5 L708.0,96.7 L710.0,95.1 L712.0,93.9 L714.0,93.5 L716.0,93.9 L718.0,95.1 L720.0,96.7 L722.0,98.5 L724.0,100.1 L726.0,101.2 L728.0,101.5 L730.0,101.0 L732.0,99.8 L734.0,98.1 L736.0,96.3 L738.0,94.7 L740.0,93.7 L742.0,93.5 L744.0,94.1 L746.0,95.4 L748.0,97.2 L750.0,99.0 L752.0,100.4 L754.0,101.3 L756.0,101.4 L758.0,100.7 L760.0,99.4 L762.0,97.6 L764.0,95.8 L766.0,94.4" stroke="#777" stroke-width="1.0" opacity="0.34"/><path d="M640.0,119.0 L642.0,118.5 L644.0,118.8 L646.0,119.9 L648.0,121.5 L650.0,123.4 L652.0,125.0 L654.0,126.1 L656.0,126.5 L658.0,126.1 L660.0,124.9 L662.0,123.2 L664.0,121.4 L666.0,119.8 L668.0,118.8 L670.0,118.5 L672.0,119.0 L674.0,120.3 L676.0,122.0 L678.0,123.8 L680.0,125.3 L682.0,126.3 L684.0,126.5 L686.0,125.8 L688.0,124.5 L690.0,122.8 L692.0,121.0 L694.0,119.5 L696.0,118.6 L698.0,118.6 L700.0,119.3 L702.0,120.7 L704.0,122.4 L706.0,124.2 L708.0,125.6 L710.0,126.4 L712.0,126.4 L714.0,125.6 L716.0,124.1 L718.0,122.3 L720.0,120.6 L722.0,119.2 L724.0,118.5 L726.0,118.7 L728.0,119.6 L730.0,121.1 L732.0,122.9 L734.0,124.6 L736.0,125.9 L738.0,126.5 L740.0,126.2 L742.0,125.2 L744.0,123.7 L746.0,121.9 L748.0,120.2 L750.0,119.0 L752.0,118.5 L754.0,118.8 L756.0,119.9 L758.0,121.5 L760.0,123.4 L762.0,125.0 L764.0,126.1 L766.0,126.5" stroke="#777" stroke-width="1.0" opacity="0.4"/><path d="M640.0,126.0 L642.0,126.5 L644.0,126.2 L646.0,125.1 L648.0,123.5 L650.0,121.6 L652.0,120.0 L654.0,118.9 L656.0,118.5 L658.0,118.9 L660.0,120.1 L662.0,121.8 L664.0,123.6 L666.0,125.2 L668.0,126.2 L670.0,126.5 L672.0,126.0 L674.0,124.7 L676.0,123.0 L678.0,121.2 L680.0,119.7 L682.0,118.7 L684.0,118.5 L686.0,119.2 L688.0,120.5 L690.0,122.2 L692.0,124.0 L694.0,125.5 L696.0,126.4 L698.0,126.4 L700.0,125.7 L702.0,124.3 L704.0,122.6 L706.0,120.8 L708.0,119.4 L710.0,118.6 L712.0,118.6 L714.0,119.4 L716.0,120.9 L718.0,122.7 L720.0,124.4 L722.0,125.8 L724.0,126.5 L726.0,126.3 L728.0,125.4 L730.0,123.9 L732.0,122.1 L734.0,120.4 L736.0,119.1 L738.0,118.5 L740.0,118.8 L742.0,119.8 L744.0,121.3 L746.0,123.1 L748.0,124.8 L750.0,126.0 L752.0,126.5 L754.0,126.2 L756.0,125.1 L758.0,123.5 L760.0,121.6 L762.0,120.0 L764.0,118.9 L766.0,118.5" stroke="#777" stroke-width="1.0" opacity="0.34"/><path d="M640.0,142.6 L642.0,143.3 L644.0,144.7 L646.0,146.5 L648.0,148.3 L650.0,149.7 L652.0,150.4 L654.0,150.4 L656.0,149.5 L658.0,148.1 L660.0,146.3 L662.0,144.5 L664.0,143.2 L666.0,142.5 L668.0,142.7 L670.0,143.6 L672.0,145.2 L674.0,147.0 L676.0,148.7 L678.0,149.9 L680.0,150.5 L682.0,150.2 L684.0,149.2 L686.0,147.6 L688.0,145.8 L690.0,144.1 L692.0,143.0 L694.0,142.5 L696.0,142.9 L698.0,144.0 L700.0,145.6 L702.0,147.4 L704.0,149.0 L706.0,150.1 L708.0,150.5 L710.0,150.0 L712.0,148.8 L714.0,147.2 L716.0,145.4 L718.0,143.8 L720.0,142.8 L722.0,142.5 L724.0,143.1 L726.0,144.3 L728.0,146.0 L730.0,147.8 L732.0,149.4 L734.0,150.3 L736.0,150.5 L738.0,149.8 L740.0,148.5 L742.0,146.7 L744.0,144.9 L746.0,143.5 L748.0,142.6 L750.0,142.6 L752.0,143.3 L754.0,144.7 L756.0,146.5 L758.0,148.3 L760.0,149.7 L762.0,150.4 L764.0,150.4 L766.0,149.5" stroke="#777" stroke-width="1.0" opacity="0.4"/><path d="M640.0,150.4 L642.0,149.7 L644.0,148.3 L646.0,146.5 L648.0,144.7 L650.0,143.3 L652.0,142.6 L654.0,142.6 L656.0,143.5 L658.0,144.9 L660.0,146.7 L662.0,148.5 L664.0,149.8 L666.0,150.5 L668.0,150.3 L670.0,149.4 L672.0,147.8 L674.0,146.0 L676.0,144.3 L678.0,143.1 L680.0,142.5 L682.0,142.8 L684.0,143.8 L686.0,145.4 L688.0,147.2 L690.0,148.9 L692.0,150.0 L694.0,150.5 L696.0,150.1 L698.0,149.0 L700.0,147.4 L702.0,145.6 L704.0,144.0 L706.0,142.9 L708.0,142.5 L710.0,143.0 L712.0,144.2 L714.0,145.8 L716.0,147.6 L718.0,149.2 L720.0,150.2 L722.0,150.5 L724.0,149.9 L726.0,148.7 L728.0,147.0 L730.0,145.2 L732.0,143.6 L734.0,142.7 L736.0,142.5 L738.0,143.2 L740.0,144.5 L742.0,146.3 L744.0,148.1 L746.0,149.5 L748.0,150.4 L750.0,150.4 L752.0,149.7 L754.0,148.3 L756.0,146.5 L758.0,144.7 L760.0,143.3 L762.0,142.6 L764.0,142.6 L766.0,143.5" stroke="#777" stroke-width="1.0" opacity="0.34"/><path d="M640.0,167.5 L642.0,169.2 L644.0,171.0 L646.0,172.6 L648.0,173.7 L650.0,174.0 L652.0,173.5 L654.0,172.3 L656.0,170.6 L658.0,168.8 L660.0,167.2 L662.0,166.3 L664.0,166.0 L666.0,166.6 L668.0,167.9 L670.0,169.6 L672.0,171.4 L674.0,172.9 L676.0,173.8 L678.0,173.9 L680.0,173.3 L682.0,171.9 L684.0,170.2 L686.0,168.4 L688.0,166.9 L690.0,166.1 L692.0,166.1 L694.0,166.9 L696.0,168.3 L698.0,170.1 L700.0,171.8 L702.0,173.2 L704.0,173.9 L706.0,173.9 L708.0,173.0 L710.0,171.5 L712.0,169.7 L714.0,168.0 L716.0,166.7 L718.0,166.0 L720.0,166.2 L722.0,167.2 L724.0,168.7 L726.0,170.5 L728.0,172.2 L730.0,173.5 L732.0,174.0 L734.0,173.7 L736.0,172.7 L738.0,171.1 L740.0,169.3 L742.0,167.6 L744.0,166.4 L746.0,166.0 L748.0,166.4 L750.0,167.5 L752.0,169.2 L754.0,171.0 L756.0,172.6 L758.0,173.7 L760.0,174.0 L762.0,173.5 L764.0,172.3 L766.0,170.6" stroke="#777" stroke-width="1.0" opacity="0.4"/><path d="M640.0,172.5 L642.0,170.8 L644.0,169.0 L646.0,167.4 L648.0,166.3 L650.0,166.0 L652.0,166.5 L654.0,167.7 L656.0,169.4 L658.0,171.2 L660.0,172.8 L662.0,173.7 L664.0,174.0 L666.0,173.4 L668.0,172.1 L670.0,170.4 L672.0,168.6 L674.0,167.1 L676.0,166.2 L678.0,166.1 L680.0,166.7 L682.0,168.1 L684.0,169.8 L686.0,171.6 L688.0,173.1 L690.0,173.9 L692.0,173.9 L694.0,173.1 L696.0,171.7 L698.0,169.9 L700.0,168.2 L702.0,166.8 L704.0,166.1 L706.0,166.1 L708.0,167.0 L710.0,168.5 L712.0,170.3 L714.0,172.0 L716.0,173.3 L718.0,174.0 L720.0,173.8 L722.0,172.8 L724.0,171.3 L726.0,169.5 L728.0,167.8 L730.0,166.5 L732.0,166.0 L734.0,166.3 L736.0,167.3 L738.0,168.9 L740.0,170.7 L742.0,172.4 L744.0,173.6 L746.0,174.0 L748.0,173.6 L750.0,172.5 L752.0,170.8 L754.0,169.0 L756.0,167.4 L758.0,166.3 L760.0,166.0 L762.0,166.5 L764.0,167.7 L766.0,169.4" stroke="#777" stroke-width="1.0" opacity="0.34"/><path d="M640.0,194.1 L642.0,195.9 L644.0,197.2 L646.0,197.9 L648.0,197.8 L650.0,196.9 L652.0,195.4 L654.0,193.7 L656.0,191.9 L658.0,190.6 L660.0,190.0 L662.0,190.2 L664.0,191.2 L666.0,192.8 L668.0,194.6 L670.0,196.3 L672.0,197.5 L674.0,198.0 L676.0,197.7 L678.0,196.6 L680.0,195.0 L682.0,193.2 L684.0,191.6 L686.0,190.4 L688.0,190.0 L690.0,190.4 L692.0,191.6 L694.0,193.2 L696.0,195.0 L698.0,196.6 L700.0,197.7 L702.0,198.0 L704.0,197.5 L706.0,196.3 L708.0,194.6 L710.0,192.8 L712.0,191.2 L714.0,190.2 L716.0,190.0 L718.0,190.6 L720.0,191.9 L722.0,193.7 L724.0,195.5 L726.0,197.0 L728.0,197.8 L730.0,197.9 L732.0,197.2 L734.0,195.9 L736.0,194.1 L738.0,192.3 L740.0,190.9 L742.0,190.1 L744.0,190.1 L746.0,190.9 L748.0,192.3 L750.0,194.1 L752.0,195.9 L754.0,197.2 L756.0,197.9 L758.0,197.8 L760.0,196.9 L762.0,195.4 L764.0,193.7 L766.0,191.9" stroke="#777" stroke-width="1.0" opacity="0.4"/><path d="M640.0,193.9 L642.0,192.1 L644.0,190.8 L646.0,190.1 L648.0,190.2 L650.0,191.1 L652.0,192.6 L654.0,194.3 L656.0,196.1 L658.0,197.4 L660.0,198.0 L662.0,197.8 L664.0,196.8 L666.0,195.2 L668.0,193.4 L670.0,191.7 L672.0,190.5 L674.0,190.0 L676.0,190.3 L678.0,191.4 L680.0,193.0 L682.0,194.8 L684.0,196.4 L686.0,197.6 L688.0,198.0 L690.0,197.6 L692.0,196.4 L694.0,194.8 L696.0,193.0 L698.0,191.4 L700.0,190.3 L702.0,190.0 L704.0,190.5 L706.0,191.7 L708.0,193.4 L710.0,195.2 L712.0,196.8 L714.0,197.8 L716.0,198.0 L718.0,197.4 L720.0,196.1 L722.0,194.3 L724.0,192.5 L726.0,191.0 L728.0,190.2 L730.0,190.1 L732.0,190.8 L734.0,192.1 L736.0,193.9 L738.0,195.7 L740.0,197.1 L742.0,197.9 L744.0,197.9 L746.0,197.1 L748.0,195.7 L750.0,193.9 L752.0,192.1 L754.0,190.8 L756.0,190.1 L758.0,190.2 L760.0,191.1 L762.0,192.6 L764.0,194.3 L766.0,196.1" stroke="#777" stroke-width="1.0" opacity="0.34"/><path d="M640.1,85.0 L640.2,87.0 L640.8,89.0 L641.7,91.0 L642.6,93.0 L643.4,95.0 L643.8,97.0 L643.8,99.0 L643.2,101.0 L642.2,103.0 L641.1,105.0 L640.0,107.0 L639.3,109.0 L639.1,111.0 L639.5,113.0 L640.4,115.0 L641.6,117.0 L642.8,119.0 L643.8,121.0 L644.3,123.0 L644.3,125.0 L643.7,127.0 L642.6,129.0 L641.4,131.0 L640.3,133.0 L639.5,135.0 L639.2,137.0 L639.5,139.0 L640.3,141.0 L641.3,143.0 L642.4,145.0 L643.2,147.0 L643.6,149.0 L643.6,151.0 L643.1,153.0 L642.3,155.0 L641.4,157.0 L640.7,159.0 L640.3,161.0 L640.3,163.0 L640.7,165.0 L641.4,167.0 L642.1,169.0 L642.7,171.0 L643.0,173.0 L642.9,175.0 L642.4,177.0 L641.7,179.0 L641.0,181.0 L640.4,183.0 L640.1,185.0 L640.3,187.0 L640.8,189.0 L641.7,191.0 L642.6,193.0 L643.4,195.0 L643.8,197.0 L643.7,199.0 L643.2,201.0 L642.2,203.0 L641.1,205.0 L640.0,207.0 L639.3,209.0 L639.1,211.0" stroke="#5c5c5c" stroke-width="1.2" opacity="0.48"/><path d="M655.8,85.0 L656.5,87.0 L657.2,89.0 L657.9,91.0 L658.2,93.0 L658.1,95.0 L657.6,97.0 L656.8,99.0 L655.9,101.0 L655.2,103.0 L654.8,105.0 L654.8,107.0 L655.4,109.0 L656.3,111.0 L657.3,113.0 L658.3,115.0 L659.0,117.0 L659.2,119.0 L658.8,121.0 L657.9,123.0 L656.7,125.0 L655.5,127.0 L654.5,129.0 L654.0,131.0 L654.1,133.0 L654.8,135.0 L655.9,137.0 L657.1,139.0 L658.2,141.0 L659.0,143.0 L659.3,145.0 L659.0,147.0 L658.1,149.0 L657.1,151.0 L655.9,153.0 L655.1,155.0 L654.6,157.0 L654.6,159.0 L655.2,161.0 L656.0,163.0 L656.9,165.0 L657.8,167.0 L658.2,169.0 L658.3,171.0 L657.9,173.0 L657.3,175.0 L656.5,177.0 L655.8,179.0 L655.4,181.0 L655.4,183.0 L655.8,185.0 L656.5,187.0 L657.2,189.0 L657.8,191.0 L658.2,193.0 L658.1,195.0 L657.6,197.0 L656.8,199.0 L655.9,201.0 L655.2,203.0 L654.8,205.0 L654.8,207.0 L655.4,209.0 L656.3,211.0" stroke="#5c5c5c" stroke-width="1.2" opacity="0.8"/><path d="M671.8,85.0 L672.5,87.0 L673.0,89.0 L673.0,91.0 L672.7,93.0 L672.1,95.0 L671.4,97.0 L670.7,99.0 L670.4,101.0 L670.4,103.0 L670.8,105.0 L671.5,107.0 L672.3,109.0 L673.0,111.0 L673.5,113.0 L673.4,115.0 L672.9,117.0 L672.1,119.0 L671.1,121.0 L670.2,123.0 L669.5,125.0 L669.4,127.0 L669.8,129.0 L670.6,131.0 L671.8,133.0 L672.9,135.0 L673.9,137.0 L674.3,139.0 L674.2,141.0 L673.5,143.0 L672.4,145.0 L671.2,147.0 L670.0,149.0 L669.3,151.0 L669.0,153.0 L669.4,155.0 L670.3,157.0 L671.4,159.0 L672.6,161.0 L673.5,163.0 L674.0,165.0 L673.9,167.0 L673.4,169.0 L672.5,171.0 L671.5,173.0 L670.6,175.0 L670.0,177.0 L669.9,179.0 L670.3,181.0 L670.9,183.0 L671.7,185.0 L672.5,187.0 L673.0,189.0 L673.0,191.0 L672.7,193.0 L672.1,195.0 L671.4,197.0 L670.8,199.0 L670.4,201.0 L670.4,203.0 L670.8,205.0 L671.5,207.0 L672.3,209.0 L673.0,211.0" stroke="#5c5c5c" stroke-width="1.2" opacity="0.48"/><path d="M688.5,85.0 L688.7,87.0 L688.3,89.0 L687.6,91.0 L686.8,93.0 L686.0,95.0 L685.4,97.0 L685.2,99.0 L685.5,101.0 L686.1,103.0 L686.8,105.0 L687.5,107.0 L687.9,109.0 L688.0,111.0 L687.7,113.0 L687.0,115.0 L686.3,117.0 L685.6,119.0 L685.1,121.0 L685.1,123.0 L685.5,125.0 L686.3,127.0 L687.2,129.0 L688.1,131.0 L688.7,133.0 L688.9,135.0 L688.5,137.0 L687.7,139.0 L686.6,141.0 L685.4,143.0 L684.6,145.0 L684.1,147.0 L684.3,149.0 L685.0,151.0 L686.1,153.0 L687.3,155.0 L688.4,157.0 L689.2,159.0 L689.4,161.0 L689.0,163.0 L688.1,165.0 L686.9,167.0 L685.7,169.0 L684.8,171.0 L684.3,173.0 L684.3,175.0 L684.9,177.0 L685.9,179.0 L686.9,181.0 L687.9,183.0 L688.5,185.0 L688.7,187.0 L688.3,189.0 L687.7,191.0 L686.8,193.0 L686.0,195.0 L685.4,197.0 L685.2,199.0 L685.5,201.0 L686.0,203.0 L686.8,205.0 L687.5,207.0 L687.9,209.0 L688.0,211.0" stroke="#5c5c5c" stroke-width="1.2" opacity="0.8"/><path d="M703.5,85.0 L702.6,87.0 L701.4,89.0 L700.4,91.0 L699.7,93.0 L699.6,95.0 L699.9,97.0 L700.6,99.0 L701.5,101.0 L702.4,103.0 L703.1,105.0 L703.3,107.0 L703.1,109.0 L702.6,111.0 L701.8,113.0 L701.1,115.0 L700.6,117.0 L700.4,119.0 L700.6,121.0 L701.2,123.0 L701.9,125.0 L702.6,127.0 L703.1,129.0 L703.2,131.0 L702.8,133.0 L702.1,135.0 L701.3,137.0 L700.4,139.0 L699.9,141.0 L699.7,143.0 L700.1,145.0 L700.8,147.0 L701.9,149.0 L702.9,151.0 L703.8,153.0 L704.2,155.0 L704.0,157.0 L703.3,159.0 L702.2,161.0 L701.0,163.0 L699.9,165.0 L699.2,167.0 L699.0,169.0 L699.4,171.0 L700.4,173.0 L701.6,175.0 L702.8,177.0 L703.7,179.0 L704.2,181.0 L704.2,183.0 L703.5,185.0 L702.6,187.0 L701.4,189.0 L700.4,191.0 L699.7,193.0 L699.5,195.0 L699.9,197.0 L700.6,199.0 L701.5,201.0 L702.4,203.0 L703.1,205.0 L703.3,207.0 L703.1,209.0 L702.6,211.0" stroke="#5c5c5c" stroke-width="1.2" opacity="0.48"/><path d="M715.5,85.0 L714.6,87.0 L714.1,89.0 L714.2,91.0 L714.8,93.0 L715.9,95.0 L717.1,97.0 L718.1,99.0 L718.8,101.0 L719.0,103.0 L718.7,105.0 L717.9,107.0 L716.9,109.0 L716.0,111.0 L715.2,113.0 L714.9,115.0 L715.1,117.0 L715.6,119.0 L716.4,121.0 L717.2,123.0 L717.8,125.0 L718.1,127.0 L717.9,129.0 L717.4,131.0 L716.7,133.0 L716.0,135.0 L715.5,137.0 L715.3,139.0 L715.6,141.0 L716.2,143.0 L717.0,145.0 L717.8,147.0 L718.3,149.0 L718.5,151.0 L718.2,153.0 L717.5,155.0 L716.5,157.0 L715.5,159.0 L714.8,161.0 L714.4,163.0 L714.5,165.0 L715.2,167.0 L716.3,169.0 L717.5,171.0 L718.5,173.0 L719.2,175.0 L719.3,177.0 L718.9,179.0 L718.0,181.0 L716.7,183.0 L715.5,185.0 L714.6,187.0 L714.1,189.0 L714.2,191.0 L714.8,193.0 L715.9,195.0 L717.1,197.0 L718.1,199.0 L718.8,201.0 L719.0,203.0 L718.7,205.0 L717.9,207.0 L716.9,209.0 L715.9,211.0" stroke="#5c5c5c" stroke-width="1.2" opacity="0.8"/><path d="M729.1,85.0 L729.6,87.0 L730.5,89.0 L731.8,91.0 L733.0,93.0 L733.9,95.0 L734.4,97.0 L734.2,99.0 L733.6,101.0 L732.5,103.0 L731.3,105.0 L730.2,107.0 L729.4,109.0 L729.3,111.0 L729.6,113.0 L730.4,115.0 L731.5,117.0 L732.5,119.0 L733.3,121.0 L733.7,123.0 L733.5,125.0 L733.0,127.0 L732.2,129.0 L731.3,131.0 L730.6,133.0 L730.3,135.0 L730.3,137.0 L730.8,139.0 L731.5,141.0 L732.2,143.0 L732.8,145.0 L733.0,147.0 L732.9,149.0 L732.3,151.0 L731.6,153.0 L730.9,155.0 L730.3,157.0 L730.1,159.0 L730.3,161.0 L730.9,163.0 L731.8,165.0 L732.8,167.0 L733.5,169.0 L733.9,171.0 L733.7,173.0 L733.1,175.0 L732.1,177.0 L730.9,179.0 L729.9,181.0 L729.3,183.0 L729.1,185.0 L729.6,187.0 L730.6,189.0 L731.8,191.0 L733.0,193.0 L733.9,195.0 L734.4,197.0 L734.2,199.0 L733.5,201.0 L732.5,203.0 L731.2,205.0 L730.1,207.0 L729.4,209.0 L729.2,211.0" stroke="#5c5c5c" stroke-width="1.2" opacity="0.48"/><path d="M746.4,85.0 L747.5,87.0 L748.4,89.0 L749.1,91.0 L749.1,93.0 L748.7,95.0 L747.7,97.0 L746.6,99.0 L745.4,101.0 L744.4,103.0 L744.0,105.0 L744.2,107.0 L744.9,109.0 L746.0,111.0 L747.3,113.0 L748.4,115.0 L749.1,117.0 L749.3,119.0 L748.9,121.0 L748.0,123.0 L746.9,125.0 L745.8,127.0 L745.0,129.0 L744.6,131.0 L744.7,133.0 L745.3,135.0 L746.1,137.0 L747.1,139.0 L747.8,141.0 L748.3,143.0 L748.3,145.0 L747.8,147.0 L747.2,149.0 L746.4,151.0 L745.8,153.0 L745.4,155.0 L745.5,157.0 L745.9,159.0 L746.6,161.0 L747.3,163.0 L747.9,165.0 L748.2,167.0 L748.0,169.0 L747.5,171.0 L746.7,173.0 L745.8,175.0 L745.1,177.0 L744.7,179.0 L744.9,181.0 L745.5,183.0 L746.4,185.0 L747.5,187.0 L748.4,189.0 L749.0,191.0 L749.1,193.0 L748.7,195.0 L747.7,197.0 L746.5,199.0 L745.4,201.0 L744.4,203.0 L744.0,205.0 L744.2,207.0 L744.9,209.0 L746.0,211.0" stroke="#5c5c5c" stroke-width="1.2" opacity="0.8"/><path d="M763.1,85.0 L763.5,87.0 L763.4,89.0 L762.9,91.0 L762.0,93.0 L761.0,95.0 L760.0,97.0 L759.5,99.0 L759.4,101.0 L759.9,103.0 L760.8,105.0 L761.9,107.0 L763.1,109.0 L764.0,111.0 L764.4,113.0 L764.2,115.0 L763.4,117.0 L762.3,119.0 L761.0,121.0 L759.9,123.0 L759.2,125.0 L759.1,127.0 L759.5,129.0 L760.4,131.0 L761.5,133.0 L762.7,135.0 L763.6,137.0 L764.0,139.0 L763.9,141.0 L763.3,143.0 L762.4,145.0 L761.4,147.0 L760.5,149.0 L760.0,151.0 L760.0,153.0 L760.3,155.0 L761.0,157.0 L761.9,159.0 L762.6,161.0 L763.0,163.0 L763.0,165.0 L762.7,167.0 L762.0,169.0 L761.3,171.0 L760.7,173.0 L760.4,175.0 L760.4,177.0 L760.9,179.0 L761.6,181.0 L762.4,183.0 L763.1,185.0 L763.5,187.0 L763.4,189.0 L762.9,191.0 L762.0,193.0 L761.0,195.0 L760.1,197.0 L759.5,199.0 L759.4,201.0 L759.9,203.0 L760.8,205.0 L761.9,207.0 L763.1,209.0 L764.0,211.0" stroke="#5c5c5c" stroke-width="1.2" opacity="0.48"/><path d="M778.0,85.0 L777.6,87.0 L776.9,89.0 L776.2,91.0 L775.5,93.0 L775.1,95.0 L775.1,97.0 L775.6,99.0 L776.4,101.0 L777.4,103.0 L778.2,105.0 L778.8,107.0 L778.8,109.0 L778.4,111.0 L777.5,113.0 L776.4,115.0 L775.3,117.0 L774.5,119.0 L774.1,121.0 L774.3,123.0 L775.1,125.0 L776.2,127.0 L777.5,129.0 L778.6,131.0 L779.2,133.0 L779.4,135.0 L778.9,137.0 L778.0,139.0 L776.8,141.0 L775.6,143.0 L774.7,145.0 L774.3,147.0 L774.4,149.0 L775.0,151.0 L776.0,153.0 L777.1,155.0 L778.0,157.0 L778.6,159.0 L778.6,161.0 L778.3,163.0 L777.5,165.0 L776.7,167.0 L775.9,169.0 L775.4,171.0 L775.2,173.0 L775.5,175.0 L776.1,177.0 L776.9,179.0 L777.5,181.0 L777.9,183.0 L778.0,185.0 L777.6,187.0 L776.9,189.0 L776.2,191.0 L775.5,193.0 L775.1,195.0 L775.1,197.0 L775.6,199.0 L776.4,201.0 L777.4,203.0 L778.2,205.0 L778.8,207.0 L778.8,209.0 L778.4,211.0" stroke="#5c5c5c" stroke-width="1.2" opacity="0.8"/><path d="M792.5,85.0 L791.7,87.0 L791.0,89.0 L790.5,91.0 L790.4,93.0 L790.7,95.0 L791.3,97.0 L792.0,99.0 L792.7,101.0 L793.1,103.0 L793.2,105.0 L792.8,107.0 L792.0,109.0 L791.2,111.0 L790.3,113.0 L789.8,115.0 L789.7,117.0 L790.1,119.0 L790.9,121.0 L792.0,123.0 L793.1,125.0 L793.8,127.0 L794.2,129.0 L793.9,131.0 L793.2,133.0 L792.1,135.0 L790.9,137.0 L789.8,139.0 L789.1,141.0 L789.0,143.0 L789.5,145.0 L790.5,147.0 L791.7,149.0 L792.9,151.0 L793.8,153.0 L794.3,155.0 L794.1,157.0 L793.4,159.0 L792.4,161.0 L791.3,163.0 L790.3,165.0 L789.7,167.0 L789.6,169.0 L790.0,171.0 L790.7,173.0 L791.7,175.0 L792.5,177.0 L793.1,179.0 L793.3,181.0 L793.1,183.0 L792.5,185.0 L791.7,187.0 L791.0,189.0 L790.5,191.0 L790.4,193.0 L790.7,195.0 L791.3,197.0 L792.0,199.0 L792.7,201.0 L793.1,203.0 L793.1,205.0 L792.8,207.0 L792.0,209.0 L791.2,211.0" stroke="#5c5c5c" stroke-width="1.2" opacity="0.48"/><path d="M640.0,96.7 L642.0,96.5 L644.0,97.2 L646.0,98.6 L648.0,100.3 L650.0,102.1 L652.0,103.6 L654.0,104.4 L656.0,104.4 L658.0,103.6 L660.0,102.2 L662.0,100.4 L664.0,98.7 L666.0,97.3 L668.0,96.6 L670.0,96.6 L672.0,97.5 L674.0,99.0 L676.0,100.8 L678.0,102.5 L680.0,103.8 L682.0,104.5 L684.0,104.3 L686.0,103.3 L688.0,101.8 L690.0,100.0 L692.0,98.3 L694.0,97.0 L696.0,96.5 L698.0,96.8 L700.0,97.8 L702.0,99.4 L704.0,101.2 L706.0,102.9 L708.0,104.1 L710.0,104.5 L712.0,104.1 L714.0,103.0 L716.0,101.3 L718.0,99.5 L720.0,97.9 L722.0,96.8 L724.0,96.5 L726.0,97.0 L728.0,98.2 L730.0,99.9 L732.0,101.7 L734.0,103.2 L736.0,104.2 L738.0,104.5 L740.0,103.9 L742.0,102.6 L744.0,100.9 L746.0,99.1 L748.0,97.6 L750.0,96.7 L752.0,96.5 L754.0,97.2 L756.0,98.6 L758.0,100.3 L760.0,102.1 L762.0,103.6 L764.0,104.4 L766.0,104.4" stroke="#5c5c5c" stroke-width="1.2" opacity="0.8"/><path d="M640.0,104.3 L642.0,104.5 L644.0,103.8 L646.0,102.4 L648.0,100.7 L650.0,98.9 L652.0,97.4 L654.0,96.6 L656.0,96.6 L658.0,97.4 L660.0,98.8 L662.0,100.6 L664.0,102.3 L666.0,103.7 L668.0,104.4 L670.0,104.4 L672.0,103.5 L674.0,102.0 L676.0,100.2 L678.0,98.5 L680.0,97.2 L682.0,96.5 L684.0,96.7 L686.0,97.7 L688.0,99.2 L690.0,101.0 L692.0,102.7 L694.0,104.0 L696.0,104.5 L698.0,104.2 L700.0,103.2 L702.0,101.6 L704.0,99.8 L706.0,98.1 L708.0,96.9 L710.0,96.5 L712.0,96.9 L714.0,98.0 L716.0,99.7 L718.0,101.5 L720.0,103.1 L722.0,104.2 L724.0,104.5 L726.0,104.0 L728.0,102.8 L730.0,101.1 L732.0,99.3 L734.0,97.8 L736.0,96.8 L738.0,96.5 L740.0,97.1 L742.0,98.4 L744.0,100.1 L746.0,101.9 L748.0,103.4 L750.0,104.3 L752.0,104.5 L754.0,103.8 L756.0,102.4 L758.0,100.7 L760.0,98.9 L762.0,97.4 L764.0,96.6 L766.0,96.6" stroke="#5c5c5c" stroke-width="1.2" opacity="0.68"/><path d="M640.0,121.8 L642.0,122.9 L644.0,124.5 L646.0,126.3 L648.0,127.9 L650.0,129.1 L652.0,129.5 L654.0,129.1 L656.0,127.9 L658.0,126.3 L660.0,124.5 L662.0,122.9 L664.0,121.8 L666.0,121.5 L668.0,122.0 L670.0,123.2 L672.0,124.9 L674.0,126.7 L676.0,128.3 L678.0,129.3 L680.0,129.5 L682.0,128.9 L684.0,127.6 L686.0,125.8 L688.0,124.0 L690.0,122.5 L692.0,121.7 L694.0,121.6 L696.0,122.3 L698.0,123.6 L700.0,125.4 L702.0,127.2 L704.0,128.6 L706.0,129.4 L708.0,129.4 L710.0,128.6 L712.0,127.2 L714.0,125.4 L716.0,123.6 L718.0,122.3 L720.0,121.6 L722.0,121.7 L724.0,122.6 L726.0,124.1 L728.0,125.8 L730.0,127.6 L732.0,128.9 L734.0,129.5 L736.0,129.3 L738.0,128.3 L740.0,126.7 L742.0,124.9 L744.0,123.2 L746.0,122.0 L748.0,121.5 L750.0,121.8 L752.0,122.9 L754.0,124.5 L756.0,126.3 L758.0,127.9 L760.0,129.1 L762.0,129.5 L764.0,129.1 L766.0,127.9" stroke="#5c5c5c" stroke-width="1.2" opacity="0.8"/><path d="M640.0,129.2 L642.0,128.1 L644.0,126.5 L646.0,124.7 L648.0,123.1 L650.0,121.9 L652.0,121.5 L654.0,121.9 L656.0,123.1 L658.0,124.7 L660.0,126.5 L662.0,128.1 L664.0,129.2 L666.0,129.5 L668.0,129.0 L670.0,127.8 L672.0,126.1 L674.0,124.3 L676.0,122.7 L678.0,121.7 L680.0,121.5 L682.0,122.1 L684.0,123.4 L686.0,125.2 L688.0,127.0 L690.0,128.5 L692.0,129.3 L694.0,129.4 L696.0,128.7 L698.0,127.4 L700.0,125.6 L702.0,123.8 L704.0,122.4 L706.0,121.6 L708.0,121.6 L710.0,122.4 L712.0,123.8 L714.0,125.6 L716.0,127.4 L718.0,128.7 L720.0,129.4 L722.0,129.3 L724.0,128.4 L726.0,126.9 L728.0,125.2 L730.0,123.4 L732.0,122.1 L734.0,121.5 L736.0,121.7 L738.0,122.7 L740.0,124.3 L742.0,126.1 L744.0,127.8 L746.0,129.0 L748.0,129.5 L750.0,129.2 L752.0,128.1 L754.0,126.5 L756.0,124.7 L758.0,123.1 L760.0,121.9 L762.0,121.5 L764.0,121.9 L766.0,123.1" stroke="#5c5c5c" stroke-width="1.2" opacity="0.68"/><path d="M640.0,147.7 L642.0,149.4 L644.0,151.2 L646.0,152.6 L648.0,153.4 L650.0,153.4 L652.0,152.6 L654.0,151.1 L656.0,149.3 L658.0,147.6 L660.0,146.2 L662.0,145.5 L664.0,145.7 L666.0,146.6 L668.0,148.1 L670.0,149.9 L672.0,151.6 L674.0,152.9 L676.0,153.5 L678.0,153.2 L680.0,152.2 L682.0,150.7 L684.0,148.9 L686.0,147.2 L688.0,146.0 L690.0,145.5 L692.0,145.8 L694.0,146.9 L696.0,148.5 L698.0,150.4 L700.0,152.0 L702.0,153.1 L704.0,153.5 L706.0,153.1 L708.0,151.9 L710.0,150.2 L712.0,148.4 L714.0,146.8 L716.0,145.8 L718.0,145.5 L720.0,146.0 L722.0,147.3 L724.0,149.0 L726.0,150.8 L728.0,152.3 L730.0,153.3 L732.0,153.5 L734.0,152.8 L736.0,151.5 L738.0,149.8 L740.0,148.0 L742.0,146.5 L744.0,145.6 L746.0,145.6 L748.0,146.3 L750.0,147.7 L752.0,149.4 L754.0,151.2 L756.0,152.6 L758.0,153.4 L760.0,153.4 L762.0,152.6 L764.0,151.1 L766.0,149.3" stroke="#5c5c5c" stroke-width="1.2" opacity="0.8"/><path d="M640.0,151.3 L642.0,149.6 L644.0,147.8 L646.0,146.4 L648.0,145.6 L650.0,145.6 L652.0,146.4 L654.0,147.9 L656.0,149.7 L658.0,151.4 L660.0,152.8 L662.0,153.5 L664.0,153.3 L666.0,152.4 L668.0,150.9 L670.0,149.1 L672.0,147.4 L674.0,146.1 L676.0,145.5 L678.0,145.8 L680.0,146.8 L682.0,148.3 L684.0,150.1 L686.0,151.8 L688.0,153.0 L690.0,153.5 L692.0,153.2 L694.0,152.1 L696.0,150.5 L698.0,148.6 L700.0,147.0 L702.0,145.9 L704.0,145.5 L706.0,145.9 L708.0,147.1 L710.0,148.8 L712.0,150.6 L714.0,152.2 L716.0,153.2 L718.0,153.5 L720.0,153.0 L722.0,151.7 L724.0,150.0 L726.0,148.2 L728.0,146.7 L730.0,145.7 L732.0,145.5 L734.0,146.2 L736.0,147.5 L738.0,149.2 L740.0,151.0 L742.0,152.5 L744.0,153.4 L746.0,153.4 L748.0,152.7 L750.0,151.3 L752.0,149.6 L754.0,147.8 L756.0,146.4 L758.0,145.6 L760.0,145.6 L762.0,146.4 L764.0,147.9 L766.0,149.7" stroke="#5c5c5c" stroke-width="1.2" opacity="0.68"/><path d="M640.0,173.9 L642.0,175.5 L644.0,176.6 L646.0,177.0 L648.0,176.5 L650.0,175.3 L652.0,173.7 L654.0,171.9 L656.0,170.3 L658.0,169.3 L660.0,169.0 L662.0,169.6 L664.0,170.8 L666.0,172.6 L668.0,174.4 L670.0,175.9 L672.0,176.8 L674.0,177.0 L676.0,176.3 L678.0,175.0 L680.0,173.2 L682.0,171.4 L684.0,170.0 L686.0,169.1 L688.0,169.1 L690.0,169.8 L692.0,171.2 L694.0,173.0 L696.0,174.8 L698.0,176.2 L700.0,176.9 L702.0,176.9 L704.0,176.0 L706.0,174.5 L708.0,172.8 L710.0,171.0 L712.0,169.7 L714.0,169.0 L716.0,169.2 L718.0,170.1 L720.0,171.7 L722.0,173.5 L724.0,175.2 L726.0,176.4 L728.0,177.0 L730.0,176.7 L732.0,175.7 L734.0,174.1 L736.0,172.3 L738.0,170.6 L740.0,169.5 L742.0,169.0 L744.0,169.4 L746.0,170.5 L748.0,172.1 L750.0,173.9 L752.0,175.5 L754.0,176.6 L756.0,177.0 L758.0,176.5 L760.0,175.3 L762.0,173.7 L764.0,171.9 L766.0,170.3" stroke="#5c5c5c" stroke-width="1.2" opacity="0.8"/><path d="M640.0,172.1 L642.0,170.5 L644.0,169.4 L646.0,169.0 L648.0,169.5 L650.0,170.7 L652.0,172.3 L654.0,174.1 L656.0,175.7 L658.0,176.7 L660.0,177.0 L662.0,176.4 L664.0,175.2 L666.0,173.4 L668.0,171.6 L670.0,170.1 L672.0,169.2 L674.0,169.0 L676.0,169.7 L678.0,171.0 L680.0,172.8 L682.0,174.6 L684.0,176.0 L686.0,176.9 L688.0,176.9 L690.0,176.2 L692.0,174.8 L694.0,173.0 L696.0,171.2 L698.0,169.8 L700.0,169.1 L702.0,169.1 L704.0,170.0 L706.0,171.5 L708.0,173.2 L710.0,175.0 L712.0,176.3 L714.0,177.0 L716.0,176.8 L718.0,175.9 L720.0,174.3 L722.0,172.5 L724.0,170.8 L726.0,169.6 L728.0,169.0 L730.0,169.3 L732.0,170.3 L734.0,171.9 L736.0,173.7 L738.0,175.4 L740.0,176.5 L742.0,177.0 L744.0,176.6 L746.0,175.5 L748.0,173.9 L750.0,172.1 L752.0,170.5 L754.0,169.4 L756.0,169.0 L758.0,169.5 L760.0,170.7 L762.0,172.3 L764.0,174.1 L766.0,175.7" stroke="#5c5c5c" stroke-width="1.2" opacity="0.68"/><path d="M640.0,200.2 L642.0,200.9 L644.0,200.9 L646.0,200.0 L648.0,198.5 L650.0,196.7 L652.0,195.0 L654.0,193.7 L656.0,193.0 L658.0,193.2 L660.0,194.2 L662.0,195.7 L664.0,197.5 L666.0,199.2 L668.0,200.5 L670.0,201.0 L672.0,200.7 L674.0,199.7 L676.0,198.1 L678.0,196.3 L680.0,194.6 L682.0,193.4 L684.0,193.0 L686.0,193.4 L688.0,194.5 L690.0,196.2 L692.0,198.0 L694.0,199.6 L696.0,200.7 L698.0,201.0 L700.0,200.5 L702.0,199.3 L704.0,197.6 L706.0,195.8 L708.0,194.2 L710.0,193.2 L712.0,193.0 L714.0,193.6 L716.0,194.9 L718.0,196.6 L720.0,198.4 L722.0,199.9 L724.0,200.8 L726.0,200.9 L728.0,200.3 L730.0,198.9 L732.0,197.2 L734.0,195.4 L736.0,193.9 L738.0,193.1 L740.0,193.1 L742.0,193.9 L744.0,195.3 L746.0,197.1 L748.0,198.8 L750.0,200.2 L752.0,200.9 L754.0,200.9 L756.0,200.0 L758.0,198.5 L760.0,196.7 L762.0,195.0 L764.0,193.7 L766.0,193.0" stroke="#5c5c5c" stroke-width="1.2" opacity="0.8"/><path d="M640.0,193.8 L642.0,193.1 L644.0,193.1 L646.0,194.0 L648.0,195.5 L650.0,197.3 L652.0,199.0 L654.0,200.3 L656.0,201.0 L658.0,200.8 L660.0,199.8 L662.0,198.3 L664.0,196.5 L666.0,194.8 L668.0,193.5 L670.0,193.0 L672.0,193.3 L674.0,194.3 L676.0,195.9 L678.0,197.7 L680.0,199.4 L682.0,200.6 L684.0,201.0 L686.0,200.6 L688.0,199.5 L690.0,197.8 L692.0,196.0 L694.0,194.4 L696.0,193.3 L698.0,193.0 L700.0,193.5 L702.0,194.7 L704.0,196.4 L706.0,198.2 L708.0,199.8 L710.0,200.8 L712.0,201.0 L714.0,200.4 L716.0,199.1 L718.0,197.4 L720.0,195.6 L722.0,194.1 L724.0,193.2 L726.0,193.1 L728.0,193.7 L730.0,195.1 L732.0,196.8 L734.0,198.6 L736.0,200.1 L738.0,200.9 L740.0,200.9 L742.0,200.1 L744.0,198.7 L746.0,196.9 L748.0,195.2 L750.0,193.8 L752.0,193.1 L754.0,193.1 L756.0,194.0 L758.0,195.5 L760.0,197.3 L762.0,199.0 L764.0,200.3 L766.0,201.0" stroke="#5c5c5c" stroke-width="1.2" opacity="0.68"/></g>
<rect x="644.5" y="89" width="117.5" height="118" rx="10" fill="none" stroke="#222" stroke-width="1.2" stroke-dasharray="1.6 2.2"/>
<polygon points="811.5,89.6 913.4,89.6 935.9,98.6 834.0,98.6" fill="#ececec" stroke="#bdbdbd" stroke-width="0.9" stroke-linejoin="round"/><polygon points="811.5,89.6 834.0,98.6 834.0,205.0 811.5,196.0" fill="#ececec" stroke="#bdbdbd" stroke-width="0.9" stroke-linejoin="round"/><polygon points="834.0,98.6 935.9,98.6 935.9,205.0 834.0,205.0" fill="#ececec" stroke="#bdbdbd" stroke-width="0.9" stroke-linejoin="round"/>
<clipPath id="cubec"><polygon points="811.5,89.6 834.0,98.6 935.9,98.6 935.9,205.0 834.0,205.0 811.5,198.4"/></clipPath><g clip-path="url(#cubec)"><rect x="-5.1" y="-1.9" width="10.2" height="3.8" rx="1.1" fill="#d6dcea" opacity="1" transform="translate(820.9,96.0) rotate(-37)"/><rect x="-5.1" y="-1.9" width="10.2" height="3.8" rx="1.1" fill="#d6dcea" opacity="1" transform="translate(816.8,128.9) rotate(-37)"/><rect x="-5.1" y="-1.9" width="10.2" height="3.8" rx="1.1" fill="#d6dcea" opacity="1" transform="translate(834.5,111.2) rotate(-37)"/><rect x="-5.1" y="-1.9" width="10.2" height="3.8" rx="1.1" fill="#d6dcea" opacity="1" transform="translate(842.8,102.9) rotate(-37)"/><rect x="-5.1" y="-1.9" width="10.2" height="3.8" rx="1.1" fill="#d6dcea" opacity="1" transform="translate(851.8,93.4) rotate(-37)"/><rect x="-5.1" y="-1.9" width="10.2" height="3.8" rx="1.1" fill="#d6dcea" opacity="1" transform="translate(828.7,146.2) rotate(-37)"/><rect x="-5.1" y="-1.9" width="10.2" height="3.8" rx="1.1" fill="#d6dcea" opacity="1" transform="translate(845.5,128.8) rotate(-37)"/><rect x="-5.1" y="-1.9" width="10.2" height="3.8" rx="1.1" fill="#d6dcea" opacity="1" transform="translate(854.5,119.6) rotate(-37)"/><rect x="-5.1" y="-1.9" width="10.2" height="3.8" rx="1.1" fill="#d6dcea" opacity="1" transform="translate(863.0,111.3) rotate(-37)"/><rect x="-5.1" y="-1.9" width="10.2" height="3.8" rx="1.1" fill="#d6dcea" opacity="1" transform="translate(821.6,187.0) rotate(-37)"/><rect x="-5.1" y="-1.9" width="10.2" height="3.8" rx="1.1" fill="#d6dcea" opacity="1" transform="translate(830.3,178.7) rotate(-37)"/><rect x="-5.1" y="-1.9" width="10.2" height="3.8" rx="1.1" fill="#d6dcea" opacity="1" transform="translate(839.3,169.8) rotate(-37)"/><rect x="-5.1" y="-1.9" width="10.2" height="3.8" rx="1.1" fill="#d6dcea" opacity="1" transform="translate(865.0,143.4) rotate(-37)"/><rect x="-5.1" y="-1.9" width="10.2" height="3.8" rx="1.1" fill="#d6dcea" opacity="1" transform="translate(873.8,134.5) rotate(-37)"/><rect x="-5.1" y="-1.9" width="10.2" height="3.8" rx="1.1" fill="#d6dcea" opacity="1" transform="translate(899.7,107.9) rotate(-37)"/><rect x="-5.1" y="-1.9" width="10.2" height="3.8" rx="1.1" fill="#d6dcea" opacity="1" transform="translate(908.4,98.9) rotate(-37)"/><rect x="-5.1" y="-1.9" width="10.2" height="3.8" rx="1.1" fill="#d6dcea" opacity="1" transform="translate(845.7,193.7) rotate(-37)"/><rect x="-5.1" y="-1.9" width="10.2" height="3.8" rx="1.1" fill="#d6dcea" opacity="1" transform="translate(854.5,185.1) rotate(-37)"/><rect x="-5.1" y="-1.9" width="10.2" height="3.8" rx="1.1" fill="#d6dcea" opacity="1" transform="translate(871.7,167.6) rotate(-37)"/><rect x="-5.1" y="-1.9" width="10.2" height="3.8" rx="1.1" fill="#d6dcea" opacity="1" transform="translate(879.7,158.4) rotate(-37)"/><rect x="-5.1" y="-1.9" width="10.2" height="3.8" rx="1.1" fill="#d6dcea" opacity="1" transform="translate(889.0,149.7) rotate(-37)"/><rect x="-5.1" y="-1.9" width="10.2" height="3.8" rx="1.1" fill="#d6dcea" opacity="1" transform="translate(905.7,132.3) rotate(-37)"/><rect x="-5.1" y="-1.9" width="10.2" height="3.8" rx="1.1" fill="#d6dcea" opacity="1" transform="translate(923.4,114.1) rotate(-37)"/><rect x="-5.1" y="-1.9" width="10.2" height="3.8" rx="1.1" fill="#d6dcea" opacity="1" transform="translate(869.7,200.3) rotate(-37)"/><rect x="-5.1" y="-1.9" width="10.2" height="3.8" rx="1.1" fill="#d6dcea" opacity="1" transform="translate(878.7,191.1) rotate(-37)"/><rect x="-5.1" y="-1.9" width="10.2" height="3.8" rx="1.1" fill="#d6dcea" opacity="1" transform="translate(896.0,173.5) rotate(-37)"/><rect x="-5.1" y="-1.9" width="10.2" height="3.8" rx="1.1" fill="#d6dcea" opacity="1" transform="translate(904.7,164.9) rotate(-37)"/><rect x="-5.1" y="-1.9" width="10.2" height="3.8" rx="1.1" fill="#d6dcea" opacity="1" transform="translate(913.3,155.7) rotate(-37)"/><rect x="-5.1" y="-1.9" width="10.2" height="3.8" rx="1.1" fill="#d6dcea" opacity="1" transform="translate(921.5,146.7) rotate(-37)"/><rect x="-5.1" y="-1.9" width="10.2" height="3.8" rx="1.1" fill="#d6dcea" opacity="1" transform="translate(930.4,138.2) rotate(-37)"/><rect x="-5.1" y="-1.9" width="10.2" height="3.8" rx="1.1" fill="#d6dcea" opacity="1" transform="translate(901.9,198.0) rotate(-37)"/><rect x="-5.1" y="-1.9" width="10.2" height="3.8" rx="1.1" fill="#d6dcea" opacity="1" transform="translate(918.7,180.3) rotate(-37)"/><rect x="-5.1" y="-1.9" width="10.2" height="3.8" rx="1.1" fill="#d6dcea" opacity="1" transform="translate(927.3,171.3) rotate(-37)"/><rect x="-5.1" y="-1.9" width="10.2" height="3.8" rx="1.1" fill="#b7c5e0" opacity="1" transform="translate(815.2,110.1) rotate(-37)"/><rect x="-5.1" y="-1.9" width="10.2" height="3.8" rx="1.1" fill="#b7c5e0" opacity="1" transform="translate(823.6,101.0) rotate(-37)"/><rect x="-5.1" y="-1.9" width="10.2" height="3.8" rx="1.1" fill="#b7c5e0" opacity="1" transform="translate(819.4,134.3) rotate(-37)"/><rect x="-5.1" y="-1.9" width="10.2" height="3.8" rx="1.1" fill="#b7c5e0" opacity="1" transform="translate(837.3,117.0) rotate(-37)"/><rect x="-5.1" y="-1.9" width="10.2" height="3.8" rx="1.1" fill="#b7c5e0" opacity="1" transform="translate(846.1,107.8) rotate(-37)"/><rect x="-5.1" y="-1.9" width="10.2" height="3.8" rx="1.1" fill="#b7c5e0" opacity="1" transform="translate(822.7,160.3) rotate(-37)"/><rect x="-5.1" y="-1.9" width="10.2" height="3.8" rx="1.1" fill="#b7c5e0" opacity="1" transform="translate(831.2,151.6) rotate(-37)"/><rect x="-5.1" y="-1.9" width="10.2" height="3.8" rx="1.1" fill="#b7c5e0" opacity="1" transform="translate(839.9,142.9) rotate(-37)"/><rect x="-5.1" y="-1.9" width="10.2" height="3.8" rx="1.1" fill="#b7c5e0" opacity="1" transform="translate(848.2,134.2) rotate(-37)"/><rect x="-5.1" y="-1.9" width="10.2" height="3.8" rx="1.1" fill="#b7c5e0" opacity="1" transform="translate(857.4,124.6) rotate(-37)"/><rect x="-5.1" y="-1.9" width="10.2" height="3.8" rx="1.1" fill="#b7c5e0" opacity="1" transform="translate(865.7,116.2) rotate(-37)"/><rect x="-5.1" y="-1.9" width="10.2" height="3.8" rx="1.1" fill="#b7c5e0" opacity="1" transform="translate(874.0,107.3) rotate(-37)"/><rect x="-5.1" y="-1.9" width="10.2" height="3.8" rx="1.1" fill="#b7c5e0" opacity="1" transform="translate(883.0,98.5) rotate(-37)"/><rect x="-5.1" y="-1.9" width="10.2" height="3.8" rx="1.1" fill="#b7c5e0" opacity="1" transform="translate(824.8,192.2) rotate(-37)"/><rect x="-5.1" y="-1.9" width="10.2" height="3.8" rx="1.1" fill="#b7c5e0" opacity="1" transform="translate(842.1,175.2) rotate(-37)"/><rect x="-5.1" y="-1.9" width="10.2" height="3.8" rx="1.1" fill="#b7c5e0" opacity="1" transform="translate(850.6,166.0) rotate(-37)"/><rect x="-5.1" y="-1.9" width="10.2" height="3.8" rx="1.1" fill="#b7c5e0" opacity="1" transform="translate(859.0,156.9) rotate(-37)"/><rect x="-5.1" y="-1.9" width="10.2" height="3.8" rx="1.1" fill="#b7c5e0" opacity="1" transform="translate(868.1,148.1) rotate(-37)"/><rect x="-5.1" y="-1.9" width="10.2" height="3.8" rx="1.1" fill="#b7c5e0" opacity="1" transform="translate(876.2,139.5) rotate(-37)"/><rect x="-5.1" y="-1.9" width="10.2" height="3.8" rx="1.1" fill="#b7c5e0" opacity="1" transform="translate(885.1,130.7) rotate(-37)"/><rect x="-5.1" y="-1.9" width="10.2" height="3.8" rx="1.1" fill="#b7c5e0" opacity="1" transform="translate(893.4,121.9) rotate(-37)"/><rect x="-5.1" y="-1.9" width="10.2" height="3.8" rx="1.1" fill="#b7c5e0" opacity="1" transform="translate(902.7,113.0) rotate(-37)"/><rect x="-5.1" y="-1.9" width="10.2" height="3.8" rx="1.1" fill="#b7c5e0" opacity="1" transform="translate(911.2,104.4) rotate(-37)"/><rect x="-5.1" y="-1.9" width="10.2" height="3.8" rx="1.1" fill="#b7c5e0" opacity="1" transform="translate(919.5,94.9) rotate(-37)"/><rect x="-5.1" y="-1.9" width="10.2" height="3.8" rx="1.1" fill="#b7c5e0" opacity="1" transform="translate(848.7,199.3) rotate(-37)"/><rect x="-5.1" y="-1.9" width="10.2" height="3.8" rx="1.1" fill="#b7c5e0" opacity="1" transform="translate(856.6,190.4) rotate(-37)"/><rect x="-5.1" y="-1.9" width="10.2" height="3.8" rx="1.1" fill="#b7c5e0" opacity="1" transform="translate(865.7,181.1) rotate(-37)"/><rect x="-5.1" y="-1.9" width="10.2" height="3.8" rx="1.1" fill="#b7c5e0" opacity="1" transform="translate(874.1,172.6) rotate(-37)"/><rect x="-5.1" y="-1.9" width="10.2" height="3.8" rx="1.1" fill="#b7c5e0" opacity="1" transform="translate(883.0,163.8) rotate(-37)"/><rect x="-5.1" y="-1.9" width="10.2" height="3.8" rx="1.1" fill="#b7c5e0" opacity="1" transform="translate(891.5,154.6) rotate(-37)"/><rect x="-5.1" y="-1.9" width="10.2" height="3.8" rx="1.1" fill="#b7c5e0" opacity="1" transform="translate(900.3,145.8) rotate(-37)"/><rect x="-5.1" y="-1.9" width="10.2" height="3.8" rx="1.1" fill="#b7c5e0" opacity="1" transform="translate(908.6,136.8) rotate(-37)"/><rect x="-5.1" y="-1.9" width="10.2" height="3.8" rx="1.1" fill="#b7c5e0" opacity="1" transform="translate(917.4,128.0) rotate(-37)"/><rect x="-5.1" y="-1.9" width="10.2" height="3.8" rx="1.1" fill="#b7c5e0" opacity="1" transform="translate(925.7,119.8) rotate(-37)"/><rect x="-5.1" y="-1.9" width="10.2" height="3.8" rx="1.1" fill="#b7c5e0" opacity="1" transform="translate(881.1,196.3) rotate(-37)"/><rect x="-5.1" y="-1.9" width="10.2" height="3.8" rx="1.1" fill="#b7c5e0" opacity="1" transform="translate(890.0,187.5) rotate(-37)"/><rect x="-5.1" y="-1.9" width="10.2" height="3.8" rx="1.1" fill="#b7c5e0" opacity="1" transform="translate(898.9,178.4) rotate(-37)"/><rect x="-5.1" y="-1.9" width="10.2" height="3.8" rx="1.1" fill="#b7c5e0" opacity="1" transform="translate(907.4,170.0) rotate(-37)"/><rect x="-5.1" y="-1.9" width="10.2" height="3.8" rx="1.1" fill="#b7c5e0" opacity="1" transform="translate(915.8,161.3) rotate(-37)"/><rect x="-5.1" y="-1.9" width="10.2" height="3.8" rx="1.1" fill="#b7c5e0" opacity="1" transform="translate(924.5,152.5) rotate(-37)"/><rect x="-5.1" y="-1.9" width="10.2" height="3.8" rx="1.1" fill="#b7c5e0" opacity="1" transform="translate(913.0,193.9) rotate(-37)"/><rect x="-5.1" y="-1.9" width="10.2" height="3.8" rx="1.1" fill="#b7c5e0" opacity="1" transform="translate(921.4,185.3) rotate(-37)"/><rect x="-5.1" y="-1.9" width="10.2" height="3.8" rx="1.1" fill="#b7c5e0" opacity="1" transform="translate(930.2,176.2) rotate(-37)"/><rect x="-5.1" y="-1.9" width="10.2" height="3.8" rx="1.1" fill="#a9badb" opacity="1" transform="translate(817.7,115.0) rotate(-37)"/><rect x="-5.1" y="-1.9" width="10.2" height="3.8" rx="1.1" fill="#a9badb" opacity="1" transform="translate(826.9,106.3) rotate(-37)"/><rect x="-5.1" y="-1.9" width="10.2" height="3.8" rx="1.1" fill="#a9badb" opacity="1" transform="translate(834.8,97.6) rotate(-37)"/><rect x="-5.1" y="-1.9" width="10.2" height="3.8" rx="1.1" fill="#a9badb" opacity="1" transform="translate(822.2,139.5) rotate(-37)"/><rect x="-5.1" y="-1.9" width="10.2" height="3.8" rx="1.1" fill="#a9badb" opacity="1" transform="translate(831.2,130.9) rotate(-37)"/><rect x="-5.1" y="-1.9" width="10.2" height="3.8" rx="1.1" fill="#8ba4cd" opacity="1" transform="translate(839.6,121.9) rotate(-37)"/><rect x="-5.1" y="-1.9" width="10.2" height="3.8" rx="1.1" fill="#8ba4cd" opacity="1" transform="translate(848.1,113.3) rotate(-37)"/><rect x="-5.1" y="-1.9" width="10.2" height="3.8" rx="1.1" fill="#8ba4cd" opacity="1" transform="translate(857.0,104.3) rotate(-37)"/><rect x="-5.1" y="-1.9" width="10.2" height="3.8" rx="1.1" fill="#8ba4cd" opacity="1" transform="translate(865.3,95.3) rotate(-37)"/><rect x="-5.1" y="-1.9" width="10.2" height="3.8" rx="1.1" fill="#a9badb" opacity="1" transform="translate(816.5,174.7) rotate(-37)"/><rect x="-5.1" y="-1.9" width="10.2" height="3.8" rx="1.1" fill="#a9badb" opacity="1" transform="translate(825.5,165.3) rotate(-37)"/><rect x="-5.1" y="-1.9" width="10.2" height="3.8" rx="1.1" fill="#a9badb" opacity="1" transform="translate(834.1,156.9) rotate(-37)"/><rect x="-5.1" y="-1.9" width="10.2" height="3.8" rx="1.1" fill="#8ba4cd" opacity="1" transform="translate(842.4,148.2) rotate(-37)"/><rect x="-5.1" y="-1.9" width="10.2" height="3.8" rx="1.1" fill="#8ba4cd" opacity="1" transform="translate(851.0,139.2) rotate(-37)"/><rect x="-5.1" y="-1.9" width="10.2" height="3.8" rx="1.1" fill="#8ba4cd" opacity="1" transform="translate(859.8,130.4) rotate(-37)"/><rect x="-5.1" y="-1.9" width="10.2" height="3.8" rx="1.1" fill="#8ba4cd" opacity="1" transform="translate(868.0,121.2) rotate(-37)"/><rect x="-5.1" y="-1.9" width="10.2" height="3.8" rx="1.1" fill="#8ba4cd" opacity="1" transform="translate(877.2,112.1) rotate(-37)"/><rect x="-5.1" y="-1.9" width="10.2" height="3.8" rx="1.1" fill="#8ba4cd" opacity="1" transform="translate(885.7,103.5) rotate(-37)"/><rect x="-5.1" y="-1.9" width="10.2" height="3.8" rx="1.1" fill="#8ba4cd" opacity="1" transform="translate(893.9,95.0) rotate(-37)"/><rect x="-5.1" y="-1.9" width="10.2" height="3.8" rx="1.1" fill="#a9badb" opacity="1" transform="translate(827.0,197.6) rotate(-37)"/><rect x="-5.1" y="-1.9" width="10.2" height="3.8" rx="1.1" fill="#a9badb" opacity="1" transform="translate(836.0,188.7) rotate(-37)"/><rect x="-5.1" y="-1.9" width="10.2" height="3.8" rx="1.1" fill="#8ba4cd" opacity="1" transform="translate(844.4,180.3) rotate(-37)"/><rect x="-5.1" y="-1.9" width="10.2" height="3.8" rx="1.1" fill="#8ba4cd" opacity="1" transform="translate(861.7,162.5) rotate(-37)"/><rect x="-5.1" y="-1.9" width="10.2" height="3.8" rx="1.1" fill="#8ba4cd" opacity="1" transform="translate(870.9,153.8) rotate(-37)"/><rect x="-5.1" y="-1.9" width="10.2" height="3.8" rx="1.1" fill="#8ba4cd" opacity="1" transform="translate(879.0,144.6) rotate(-37)"/><rect x="-5.1" y="-1.9" width="10.2" height="3.8" rx="1.1" fill="#8ba4cd" opacity="1" transform="translate(887.6,135.4) rotate(-37)"/><rect x="-5.1" y="-1.9" width="10.2" height="3.8" rx="1.1" fill="#8ba4cd" opacity="1" transform="translate(896.1,127.1) rotate(-37)"/><rect x="-5.1" y="-1.9" width="10.2" height="3.8" rx="1.1" fill="#8ba4cd" opacity="1" transform="translate(905.3,118.0) rotate(-37)"/><rect x="-5.1" y="-1.9" width="10.2" height="3.8" rx="1.1" fill="#8ba4cd" opacity="1" transform="translate(913.8,109.5) rotate(-37)"/><rect x="-5.1" y="-1.9" width="10.2" height="3.8" rx="1.1" fill="#8ba4cd" opacity="1" transform="translate(922.0,100.6) rotate(-37)"/><rect x="-5.1" y="-1.9" width="10.2" height="3.8" rx="1.1" fill="#8ba4cd" opacity="1" transform="translate(859.5,195.6) rotate(-37)"/><rect x="-5.1" y="-1.9" width="10.2" height="3.8" rx="1.1" fill="#8ba4cd" opacity="1" transform="translate(867.9,186.3) rotate(-37)"/><rect x="-5.1" y="-1.9" width="10.2" height="3.8" rx="1.1" fill="#8ba4cd" opacity="1" transform="translate(876.8,177.4) rotate(-37)"/><rect x="-5.1" y="-1.9" width="10.2" height="3.8" rx="1.1" fill="#8ba4cd" opacity="1" transform="translate(885.4,169.1) rotate(-37)"/><rect x="-5.1" y="-1.9" width="10.2" height="3.8" rx="1.1" fill="#8ba4cd" opacity="1" transform="translate(894.1,160.3) rotate(-37)"/><rect x="-5.1" y="-1.9" width="10.2" height="3.8" rx="1.1" fill="#8ba4cd" opacity="1" transform="translate(903.1,151.2) rotate(-37)"/><rect x="-5.1" y="-1.9" width="10.2" height="3.8" rx="1.1" fill="#8ba4cd" opacity="1" transform="translate(911.2,142.7) rotate(-37)"/><rect x="-5.1" y="-1.9" width="10.2" height="3.8" rx="1.1" fill="#8ba4cd" opacity="1" transform="translate(920.3,133.9) rotate(-37)"/><rect x="-5.1" y="-1.9" width="10.2" height="3.8" rx="1.1" fill="#8ba4cd" opacity="1" transform="translate(901.3,183.7) rotate(-37)"/><rect x="-5.1" y="-1.9" width="10.2" height="3.8" rx="1.1" fill="#8ba4cd" opacity="1" transform="translate(910.0,175.0) rotate(-37)"/><rect x="-5.1" y="-1.9" width="10.2" height="3.8" rx="1.1" fill="#8ba4cd" opacity="1" transform="translate(918.2,166.4) rotate(-37)"/><rect x="-5.1" y="-1.9" width="10.2" height="3.8" rx="1.1" fill="#8ba4cd" opacity="1" transform="translate(926.8,157.5) rotate(-37)"/><rect x="-5.1" y="-1.9" width="10.2" height="3.8" rx="1.1" fill="#8ba4cd" opacity="1" transform="translate(915.9,199.1) rotate(-37)"/><rect x="-5.1" y="-1.9" width="10.2" height="3.8" rx="1.1" fill="#8ba4cd" opacity="1" transform="translate(924.1,190.7) rotate(-37)"/><rect x="-5.3" y="-2.0" width="10.6" height="4.0" rx="1.1" fill="#2d5590" opacity="1" transform="translate(838.0,102.3) rotate(-37)"/><rect x="-5.3" y="-2.0" width="10.6" height="4.0" rx="1.1" fill="#2d5590" opacity="1" transform="translate(842.4,127.1) rotate(-37)"/><rect x="-5.3" y="-2.0" width="10.6" height="4.0" rx="1.1" fill="#2d5590" opacity="1" transform="translate(851.3,118.3) rotate(-37)"/><rect x="-5.3" y="-2.0" width="10.6" height="4.0" rx="1.1" fill="#2d5590" opacity="1" transform="translate(859.6,109.0) rotate(-37)"/><rect x="-5.3" y="-2.0" width="10.6" height="4.0" rx="1.1" fill="#2d5590" opacity="1" transform="translate(836.8,162.2) rotate(-37)"/><rect x="-5.3" y="-2.0" width="10.6" height="4.0" rx="1.1" fill="#2d5590" opacity="1" transform="translate(845.3,153.3) rotate(-37)"/><rect x="-5.3" y="-2.0" width="10.6" height="4.0" rx="1.1" fill="#2d5590" opacity="1" transform="translate(862.4,135.3) rotate(-37)"/><rect x="-5.3" y="-2.0" width="10.6" height="4.0" rx="1.1" fill="#2d5590" opacity="1" transform="translate(870.7,126.3) rotate(-37)"/><rect x="-5.3" y="-2.0" width="10.6" height="4.0" rx="1.1" fill="#2d5590" opacity="1" transform="translate(879.9,117.4) rotate(-37)"/><rect x="-5.3" y="-2.0" width="10.6" height="4.0" rx="1.1" fill="#2d5590" opacity="1" transform="translate(888.6,108.8) rotate(-37)"/><rect x="-5.3" y="-2.0" width="10.6" height="4.0" rx="1.1" fill="#2d5590" opacity="1" transform="translate(838.7,194.2) rotate(-37)"/><rect x="-5.3" y="-2.0" width="10.6" height="4.0" rx="1.1" fill="#2d5590" opacity="1" transform="translate(847.5,185.0) rotate(-37)"/><rect x="-5.3" y="-2.0" width="10.6" height="4.0" rx="1.1" fill="#2d5590" opacity="1" transform="translate(855.9,176.3) rotate(-37)"/><rect x="-5.3" y="-2.0" width="10.6" height="4.0" rx="1.1" fill="#2d5590" opacity="1" transform="translate(864.4,167.7) rotate(-37)"/><rect x="-5.3" y="-2.0" width="10.6" height="4.0" rx="1.1" fill="#2d5590" opacity="1" transform="translate(873.4,158.8) rotate(-37)"/><rect x="-5.3" y="-2.0" width="10.6" height="4.0" rx="1.1" fill="#2d5590" opacity="1" transform="translate(881.6,149.7) rotate(-37)"/><rect x="-5.3" y="-2.0" width="10.6" height="4.0" rx="1.1" fill="#2d5590" opacity="1" transform="translate(890.2,141.2) rotate(-37)"/><rect x="-5.3" y="-2.0" width="10.6" height="4.0" rx="1.1" fill="#2d5590" opacity="1" transform="translate(899.1,132.4) rotate(-37)"/><rect x="-5.3" y="-2.0" width="10.6" height="4.0" rx="1.1" fill="#2d5590" opacity="1" transform="translate(907.5,123.5) rotate(-37)"/><rect x="-5.3" y="-2.0" width="10.6" height="4.0" rx="1.1" fill="#2d5590" opacity="1" transform="translate(916.7,114.4) rotate(-37)"/><rect x="-5.3" y="-2.0" width="10.6" height="4.0" rx="1.1" fill="#2d5590" opacity="1" transform="translate(925.2,105.5) rotate(-37)"/><rect x="-5.3" y="-2.0" width="10.6" height="4.0" rx="1.1" fill="#2d5590" opacity="1" transform="translate(862.3,200.5) rotate(-37)"/><rect x="-5.3" y="-2.0" width="10.6" height="4.0" rx="1.1" fill="#2d5590" opacity="1" transform="translate(870.8,192.1) rotate(-37)"/><rect x="-5.3" y="-2.0" width="10.6" height="4.0" rx="1.1" fill="#2d5590" opacity="1" transform="translate(879.3,182.7) rotate(-37)"/><rect x="-5.3" y="-2.0" width="10.6" height="4.0" rx="1.1" fill="#2d5590" opacity="1" transform="translate(896.9,164.9) rotate(-37)"/><rect x="-5.3" y="-2.0" width="10.6" height="4.0" rx="1.1" fill="#2d5590" opacity="1" transform="translate(905.4,156.1) rotate(-37)"/><rect x="-5.3" y="-2.0" width="10.6" height="4.0" rx="1.1" fill="#2d5590" opacity="1" transform="translate(913.9,147.6) rotate(-37)"/><rect x="-5.3" y="-2.0" width="10.6" height="4.0" rx="1.1" fill="#2d5590" opacity="1" transform="translate(922.7,138.7) rotate(-37)"/><rect x="-5.3" y="-2.0" width="10.6" height="4.0" rx="1.1" fill="#2d5590" opacity="1" transform="translate(931.4,130.1) rotate(-37)"/><rect x="-5.3" y="-2.0" width="10.6" height="4.0" rx="1.1" fill="#2d5590" opacity="1" transform="translate(895.0,198.4) rotate(-37)"/><rect x="-5.3" y="-2.0" width="10.6" height="4.0" rx="1.1" fill="#2d5590" opacity="1" transform="translate(904.1,189.0) rotate(-37)"/><rect x="-5.3" y="-2.0" width="10.6" height="4.0" rx="1.1" fill="#2d5590" opacity="1" transform="translate(912.6,180.1) rotate(-37)"/><rect x="-5.3" y="-2.0" width="10.6" height="4.0" rx="1.1" fill="#2d5590" opacity="1" transform="translate(921.6,171.2) rotate(-37)"/><rect x="-5.3" y="-2.0" width="10.6" height="4.0" rx="1.1" fill="#2d5590" opacity="1" transform="translate(929.6,162.7) rotate(-37)"/><rect x="-5.3" y="-2.0" width="10.6" height="4.0" rx="1.1" fill="#2d5590" opacity="1" transform="translate(926.8,195.7) rotate(-37)"/></g>
<path d="M762,143.5 L818,147 M762,152 L818,147.3" stroke="#222" stroke-width="1.1" stroke-dasharray="1.6 2.2" fill="none"/>
<g transform="translate(818.5,200.1) rotate(-44.97)" opacity="1"><rect x="17" y="-2.4" width="114.4" height="4.8" fill="#3f9bd8"/><rect x="17" y="-1.5999999999999999" width="114.4" height="3.2" fill="#8fd0f3"/><rect x="17" y="-0.96" width="114.4" height="1.92" fill="#c7eafb"/><polygon points="0.0,0 18.0,-5.75 18.0,5.75" fill="#3f9bd8"/><polygon points="1.5,0 18.0,-4.5 18.0,2.8" fill="#8fd0f3"/><polygon points="2.5,-0.2 18.0,-3.4 18.0,0.5" fill="#c7eafb"/><polygon points="148.4,0 130.4,-5.75 130.4,5.75" fill="#3f9bd8"/><polygon points="146.9,0 130.4,-4.5 130.4,2.8" fill="#8fd0f3"/><polygon points="145.9,-0.2 130.4,-3.4 130.4,0.5" fill="#c7eafb"/></g>
<path d="M872.0,138.7 L872.0,114.7 A24,24 0 0 1 889.8,122.6 Z" fill="#f2e58a" fill-opacity="0.85"/><path d="M872.0,114.7 A24,24 0 0 1 884.7,118.3" fill="none" stroke="#e3c81f" stroke-width="1.5"/><polygon points="889.8,122.6 887.5,115.3 882.7,119.6" fill="#ecd224" stroke="#94840f" stroke-width="0.4"/><line x1="872.0" y1="138.7" x2="897.7" y2="115.5" stroke="#94840f" stroke-width="3.4" stroke-linecap="butt"/><line x1="872.0" y1="139.5" x2="872.0" y2="104.6" stroke="#94840f" stroke-width="3.4"/><line x1="872.0" y1="138.7" x2="897.3" y2="115.9" stroke="#f6e03a" stroke-width="2.4" stroke-linecap="butt"/><line x1="872.0" y1="139.0" x2="872.0" y2="105.1" stroke="#f6e03a" stroke-width="2.4"/><text x="888.4" y="106.5" font-size="16" fill="#f2dc2a" text-anchor="middle" font-style="italic" stroke="#7f710c" stroke-width="0.8">θ</text>
<text x="876.0" y="156.5" font-size="16" fill="#5cc3d6" text-anchor="middle" font-weight="bold" stroke="#e8f7fb" stroke-width="0.35" paint-order="stroke">P</text>
<polygon points="801.4,213.3 788.2,208.1 789.3,205.3 779.3,206.2 786.0,213.7 787.1,210.9 800.2,216.1" fill="#f6e03a" stroke="#8f8010" stroke-width="0.8" stroke-linejoin="round"/><polygon points="799.3,216.2 829.2,216.2 829.2,219.2 839.2,214.7 829.2,210.2 829.2,213.2 799.3,213.2" fill="#f6e03a" stroke="#8f8010" stroke-width="0.8" stroke-linejoin="round"/><polygon points="802.3,216.2 802.3,183.2 805.3,183.2 800.8,173.2 796.3,183.2 799.3,183.2 799.3,216.2" fill="#f6e03a" stroke="#8f8010" stroke-width="0.8" stroke-linejoin="round"/><rect x="799.7" y="213.6" width="2.2" height="2.2" fill="#f6e03a"/><text x="801.0" y="171.1" font-size="16.5" fill="#7b711c" text-anchor="middle" font-style="italic" >z</text><text x="843.0" y="218.5" font-size="16.5" fill="#7b711c" text-anchor="middle" font-style="italic" >x</text><text x="775.8" y="206.5" font-size="16.5" fill="#7b711c" text-anchor="middle" font-style="italic" >y</text>
<path d="M912.6,147.5 L985.6,144.4 M912.6,148 L985.6,152.6" stroke="#222" stroke-width="1.1" stroke-dasharray="1.6 2.2" fill="none"/>
</g>
<g id="go">
<clipPath id="goc"><rect x="985.6" y="89.6" width="118.4" height="116.8" rx="11"/></clipPath>
<g clip-path="url(#goc)"><polygon points="1090.3,163.9 999.3,137.0 1000.0,134.4 989.3,135.4 997.8,142.1 998.5,139.5 1089.5,166.3" fill="#f6e03a" stroke="#8f8010" stroke-width="0.7" stroke-linejoin="round"/><polygon points="1039.1,151.5 1088.6,151.5 1088.6,154.2 1099.6,150.2 1088.6,146.2 1088.6,148.9 1039.1,148.9" fill="#f6e03a" stroke="#8f8010" stroke-width="0.7" stroke-linejoin="round"/><rect x="1037.8" y="150.2" width="2.6" height="52.60000000000002" fill="#f6e03a" stroke="#8f8010" stroke-width="0.7" stroke-linejoin="round"/><g opacity="0.9"><polygon points="1057.8,109.5 1065.2,106.1 1070.7,107.4 1068.5,112.2 1061.2,115.7 1055.6,114.2" fill="#15306b"/><polygon points="1065.4,111.4 1072.7,107.9 1078.3,109.1 1076.1,114.1 1068.7,117.8 1063.2,116.2" fill="#15306b"/><polygon points="1072.9,113.3 1080.3,109.6 1085.8,110.9 1083.6,116.0 1076.2,119.8 1070.7,118.3" fill="#15306b"/><polygon points="1080.4,115.2 1087.8,111.3 1093.4,112.6 1091.2,117.9 1083.8,121.9 1078.2,120.4" fill="#15306b"/><polygon points="1088.0,117.1 1095.4,113.0 1101.0,114.3 1098.7,119.8 1091.3,124.0 1085.7,122.4" fill="#15306b"/><polygon points="1058.2,113.3 1065.6,109.9 1071.2,111.3 1068.9,116.2 1061.6,119.7 1056.0,118.1" fill="#15306b"/><polygon points="1065.8,115.3 1073.1,111.7 1078.7,113.1 1076.5,118.2 1069.1,121.9 1063.6,120.3" fill="#15306b"/><polygon points="1073.3,117.3 1080.7,113.6 1086.2,114.9 1084.0,120.2 1076.6,124.1 1071.1,122.5" fill="#15306b"/><polygon points="1080.8,119.3 1088.2,115.4 1093.8,116.8 1091.5,122.2 1084.1,126.3 1078.6,124.7" fill="#15306b"/><polygon points="1088.4,121.4 1095.8,117.3 1101.3,118.6 1099.1,124.2 1091.6,128.5 1086.1,126.8" fill="#15306b"/><polygon points="1051.1,115.1 1058.5,111.8 1064.0,113.2 1061.8,118.1 1054.5,121.5 1048.9,119.8" fill="#15306b"/><polygon points="1058.6,117.2 1066.0,113.8 1071.6,115.2 1069.3,120.3 1062.0,123.8 1056.4,122.1" fill="#15306b"/><polygon points="1066.2,119.4 1073.5,115.7 1079.1,117.2 1076.8,122.4 1069.5,126.2 1063.9,124.4" fill="#15306b"/><polygon points="1073.7,121.5 1081.1,117.7 1086.6,119.1 1084.4,124.5 1077.0,128.5 1071.4,126.8" fill="#15306b"/><polygon points="1081.2,123.6 1088.6,119.7 1094.2,121.1 1091.9,126.7 1084.5,130.8 1078.9,129.1" fill="#15306b"/><polygon points="1051.5,119.0 1058.9,115.7 1064.4,117.2 1062.2,122.2 1054.9,125.7 1049.3,123.9" fill="#15306b"/><polygon points="1059.0,121.3 1066.4,117.8 1071.9,119.3 1069.7,124.5 1062.4,128.1 1056.8,126.3" fill="#15306b"/><polygon points="1066.6,123.5 1073.9,119.8 1079.5,121.4 1077.2,126.7 1069.8,130.5 1064.3,128.7" fill="#15306b"/><polygon points="1074.1,125.8 1081.4,121.9 1087.0,123.5 1084.7,129.0 1077.3,133.0 1071.8,131.2" fill="#15306b"/><polygon points="1081.6,128.0 1089.0,124.0 1094.5,125.5 1092.2,131.2 1084.8,135.4 1079.3,133.6" fill="#15306b"/><polygon points="1044.4,120.7 1051.7,117.5 1057.3,119.1 1055.1,124.0 1047.7,127.4 1042.2,125.5" fill="#15306b"/><polygon points="1051.9,123.0 1059.3,119.7 1064.8,121.3 1062.6,126.4 1055.2,129.9 1049.7,128.0" fill="#15306b"/><polygon points="1059.4,125.4 1066.8,121.9 1072.3,123.5 1070.1,128.8 1062.7,132.5 1057.2,130.6" fill="#15306b"/><polygon points="1066.9,127.8 1074.3,124.1 1079.8,125.7 1077.6,131.2 1070.2,135.0 1064.7,133.1" fill="#15306b"/><polygon points="1074.4,130.2 1081.8,126.3 1087.3,127.9 1085.1,133.5 1077.7,137.6 1072.2,135.7" fill="#15306b"/><polygon points="1044.8,124.7 1052.1,121.4 1057.7,123.2 1055.5,128.2 1048.1,131.6 1042.6,129.7" fill="#15306b"/><polygon points="1052.3,127.2 1059.6,123.8 1065.2,125.5 1062.9,130.7 1055.6,134.3 1050.1,132.3" fill="#15306b"/><polygon points="1059.8,129.7 1067.2,126.1 1072.7,127.8 1070.4,133.2 1063.1,137.0 1057.6,135.0" fill="#15306b"/><polygon points="1067.3,132.2 1074.7,128.4 1080.2,130.1 1077.9,135.7 1070.5,139.6 1065.0,137.7" fill="#15306b"/><polygon points="1074.8,134.7 1082.2,130.8 1087.7,132.5 1085.4,138.2 1078.0,142.3 1072.5,140.3" fill="#15306b"/><polygon points="1037.7,126.2 1045.0,123.1 1050.6,124.9 1048.3,130.0 1041.0,133.2 1035.5,131.1" fill="#15306b"/><polygon points="1045.2,128.9 1052.5,125.6 1058.1,127.4 1055.8,132.6 1048.5,136.0 1043.0,133.9" fill="#15306b"/><polygon points="1052.7,131.5 1060.0,128.0 1065.6,129.8 1063.3,135.2 1056.0,138.8 1050.4,136.7" fill="#15306b"/><polygon points="1060.2,134.1 1067.5,130.5 1073.0,132.3 1070.8,137.8 1063.4,141.6 1057.9,139.5" fill="#15306b"/><polygon points="1067.6,136.7 1075.0,132.9 1080.5,134.7 1078.3,140.4 1070.9,144.4 1065.4,142.3" fill="#15306b"/><polygon points="1038.1,130.4 1045.4,127.2 1051.0,129.1 1048.7,134.3 1041.4,137.6 1035.9,135.4" fill="#15306b"/><polygon points="1045.6,133.1 1052.9,129.8 1058.4,131.7 1056.2,137.0 1048.8,140.5 1043.3,138.3" fill="#15306b"/><polygon points="1053.0,135.9 1060.4,132.4 1065.9,134.3 1063.7,139.8 1056.3,143.4 1050.8,141.3" fill="#15306b"/><polygon points="1060.5,138.6 1067.9,134.9 1073.4,136.8 1071.1,142.5 1063.7,146.3 1058.2,144.2" fill="#15306b"/><polygon points="1068.0,141.4 1075.4,137.5 1080.9,139.4 1078.6,145.3 1071.2,149.2 1065.7,147.1" fill="#15306b"/><polygon points="1031.0,131.8 1038.3,128.8 1043.9,130.8 1041.6,135.9 1034.3,139.0 1028.8,136.8" fill="#15306b"/><polygon points="1038.5,134.7 1045.8,131.5 1051.3,133.4 1049.1,138.7 1041.7,142.1 1036.3,139.8" fill="#15306b"/><polygon points="1045.9,137.5 1053.3,134.2 1058.8,136.1 1056.5,141.6 1049.2,145.1 1043.7,142.9" fill="#15306b"/><polygon points="1053.4,140.4 1060.7,136.8 1066.3,138.8 1064.0,144.5 1056.6,148.1 1051.1,145.9" fill="#15306b"/><polygon points="1060.9,143.3 1068.2,139.5 1073.7,141.5 1071.4,147.3 1064.1,151.2 1058.6,148.9" fill="#15306b"/><polygon points="1031.4,136.1 1038.7,133.0 1044.2,135.1 1042.0,140.3 1034.7,143.5 1029.2,141.2" fill="#15306b"/><polygon points="1038.8,139.1 1046.2,135.8 1051.7,137.9 1049.4,143.3 1042.1,146.7 1036.6,144.4" fill="#15306b"/><polygon points="1046.3,142.1 1053.6,138.6 1059.1,140.7 1056.9,146.3 1049.5,149.9 1044.0,147.5" fill="#15306b"/><polygon points="1053.7,145.0 1061.1,141.4 1066.6,143.5 1064.3,149.3 1057.0,153.0 1051.5,150.7" fill="#15306b"/><polygon points="1061.2,148.0 1068.6,144.3 1074.1,146.3 1071.8,152.3 1064.4,156.2 1058.9,153.8" fill="#15306b"/><polygon points="1024.3,137.4 1031.6,134.4 1037.1,136.6 1034.9,141.8 1027.6,144.9 1022.1,142.5" fill="#15306b"/><polygon points="1031.8,140.5 1039.1,137.4 1044.6,139.5 1042.3,144.9 1035.0,148.2 1029.5,145.7" fill="#15306b"/><polygon points="1039.2,143.6 1046.5,140.3 1052.0,142.5 1049.8,148.0 1042.4,151.4 1036.9,149.0" fill="#15306b"/><polygon points="1046.6,146.7 1054.0,143.2 1059.5,145.4 1057.2,151.1 1049.8,154.7 1044.4,152.3" fill="#15306b"/><polygon points="1054.1,149.8 1061.4,146.2 1066.9,148.3 1064.6,154.2 1057.3,158.0 1051.8,155.6" fill="#15306b"/><polygon points="1024.7,141.8 1032.0,138.8 1037.5,141.0 1035.2,146.4 1027.9,149.5 1022.5,147.0" fill="#15306b"/><polygon points="1032.1,145.0 1039.4,141.8 1044.9,144.1 1042.7,149.6 1035.3,152.9 1029.9,150.4" fill="#15306b"/><polygon points="1039.5,148.2 1046.9,144.9 1052.4,147.1 1050.1,152.8 1042.7,156.3 1037.3,153.8" fill="#15306b"/><polygon points="1047.0,151.5 1054.3,147.9 1059.8,150.2 1057.5,156.0 1050.2,159.7 1044.7,157.2" fill="#15306b"/><polygon points="1054.4,154.7 1061.8,151.0 1067.2,153.3 1064.9,159.3 1057.6,163.1 1052.1,160.6" fill="#15306b"/><polygon points="1017.6,143.0 1024.9,140.1 1030.4,142.4 1028.2,147.7 1020.9,150.7 1015.4,148.1" fill="#15306b"/><polygon points="1025.0,146.3 1032.3,143.3 1037.8,145.6 1035.6,151.1 1028.3,154.2 1022.8,151.6" fill="#15306b"/><polygon points="1032.5,149.7 1039.8,146.4 1045.3,148.8 1043.0,154.4 1035.7,157.8 1030.2,155.2" fill="#15306b"/><polygon points="1039.9,153.0 1047.2,149.6 1052.7,152.0 1050.4,157.8 1043.1,161.3 1037.6,158.7" fill="#15306b"/><polygon points="1047.3,156.3 1054.6,152.8 1060.1,155.1 1057.8,161.1 1050.5,164.8 1045.0,162.2" fill="#15306b"/><polygon points="1018.0,147.5 1025.3,144.6 1030.8,147.0 1028.5,152.4 1021.2,155.5 1015.7,152.8" fill="#15306b"/><polygon points="1025.4,151.0 1032.7,147.9 1038.2,150.3 1035.9,155.9 1028.6,159.1 1023.1,156.4" fill="#15306b"/><polygon points="1032.8,154.4 1040.1,151.2 1045.6,153.6 1043.3,159.3 1036.0,162.7 1030.5,160.0" fill="#15306b"/><polygon points="1040.2,157.9 1047.5,154.5 1053.0,156.9 1050.7,162.8 1043.4,166.4 1037.9,163.7" fill="#15306b"/><polygon points="1047.6,161.4 1055.0,157.7 1060.4,160.2 1058.1,166.3 1050.8,170.0 1045.3,167.3" fill="#15306b"/><polygon points="1010.9,148.5 1018.2,145.7 1023.7,148.3 1021.4,153.6 1014.1,156.6 1008.7,153.8" fill="#15306b"/><polygon points="1018.3,152.1 1025.6,149.2 1031.1,151.7 1028.8,157.2 1021.5,160.3 1016.1,157.5" fill="#15306b"/><polygon points="1025.7,155.7 1033.0,152.6 1038.5,155.1 1036.2,160.8 1028.9,164.1 1023.4,161.3" fill="#15306b"/><polygon points="1033.1,159.3 1040.4,156.0 1045.9,158.5 1043.6,164.4 1036.3,167.8 1030.8,165.1" fill="#15306b"/><polygon points="1040.5,162.9 1047.8,159.4 1053.3,161.9 1051.0,168.0 1043.7,171.6 1038.2,168.8" fill="#15306b"/><polygon points="1011.3,153.2 1018.6,150.3 1024.0,153.0 1021.8,158.4 1014.5,161.4 1009.0,158.5" fill="#15306b"/><polygon points="1018.7,156.9 1026.0,153.9 1031.4,156.5 1029.1,162.2 1021.8,165.3 1016.4,162.4" fill="#15306b"/><polygon points="1026.0,160.6 1033.4,157.4 1038.8,160.0 1036.5,165.9 1029.2,169.2 1023.8,166.3" fill="#15306b"/><polygon points="1033.4,164.3 1040.8,161.0 1046.2,163.6 1043.9,169.6 1036.6,173.1 1031.1,170.2" fill="#15306b"/><polygon points="1040.8,168.0 1048.2,164.5 1053.6,167.1 1051.3,173.3 1043.9,176.9 1038.5,174.1" fill="#15306b"/><polygon points="1004.2,154.1 1011.5,151.4 1017.0,154.1 1014.7,159.6 1007.4,162.4 1002.0,159.4" fill="#15306b"/><polygon points="1011.6,157.9 1018.9,155.1 1024.3,157.8 1022.1,163.4 1014.8,166.4 1009.3,163.4" fill="#15306b"/><polygon points="1019.0,161.8 1026.3,158.7 1031.7,161.4 1029.4,167.2 1022.1,170.4 1016.7,167.4" fill="#15306b"/><polygon points="1026.4,165.6 1033.7,162.4 1039.1,165.1 1036.8,171.0 1029.5,174.4 1024.1,171.4" fill="#15306b"/><polygon points="1033.7,169.4 1041.1,166.0 1046.5,168.7 1044.2,174.9 1036.8,178.4 1031.4,175.4" fill="#15306b"/><polygon points="1004.6,158.9 1011.8,156.1 1017.3,158.9 1015.0,164.5 1007.7,167.4 1002.3,164.3" fill="#15306b"/><polygon points="1011.9,162.8 1019.2,159.9 1024.7,162.7 1022.4,168.4 1015.1,171.5 1009.7,168.5" fill="#15306b"/><polygon points="1019.3,166.8 1026.6,163.7 1032.0,166.5 1029.7,172.4 1022.4,175.6 1017.0,172.6" fill="#15306b"/><polygon points="1026.7,170.7 1034.0,167.5 1039.4,170.3 1037.1,176.3 1029.8,179.7 1024.3,176.7" fill="#15306b"/><polygon points="1034.0,174.7 1041.4,171.2 1046.8,174.0 1044.5,180.3 1037.1,183.9 1031.7,180.8" fill="#15306b"/><polygon points="997.5,159.7 1004.8,157.1 1010.2,159.9 1008.0,165.5 1000.7,168.2 995.3,165.1" fill="#15306b"/><polygon points="1004.9,163.8 1012.2,161.0 1017.6,163.8 1015.3,169.5 1008.0,172.5 1002.6,169.3" fill="#15306b"/><polygon points="1012.2,167.8 1019.5,164.9 1025.0,167.7 1022.7,173.6 1015.4,176.7 1010.0,173.6" fill="#15306b"/><polygon points="1019.6,171.9 1026.9,168.8 1032.3,171.6 1030.0,177.7 1022.7,181.0 1017.3,177.8" fill="#15306b"/><polygon points="1026.9,176.0 1034.3,172.7 1039.7,175.5 1037.4,181.8 1030.0,185.2 1024.6,182.1" fill="#15306b"/><polygon points="997.9,164.6 1005.1,161.9 1010.6,164.9 1008.3,170.5 1001.0,173.3 995.6,170.1" fill="#15306b"/><polygon points="1005.2,168.8 1012.5,165.9 1017.9,168.9 1015.6,174.7 1008.3,177.7 1002.9,174.5" fill="#15306b"/><polygon points="1012.5,173.0 1019.8,169.9 1025.3,172.9 1023.0,178.9 1015.6,182.1 1010.2,178.8" fill="#15306b"/><polygon points="1019.9,177.2 1027.2,174.0 1032.6,176.9 1030.3,183.1 1023.0,186.4 1017.6,183.2" fill="#15306b"/><polygon points="1027.2,181.4 1034.5,178.0 1040.0,181.0 1037.6,187.3 1030.3,190.8 1024.9,187.6" fill="#15306b"/><polygon points="990.8,165.3 998.1,162.7 1003.5,165.8 1001.2,171.4 994.0,174.1 988.6,170.8" fill="#15306b"/><polygon points="998.2,169.6 1005.4,166.9 1010.9,169.9 1008.6,175.7 1001.3,178.6 995.9,175.2" fill="#15306b"/><polygon points="1005.5,173.9 1012.8,171.0 1018.2,174.1 1015.9,180.0 1008.6,183.0 1003.2,179.7" fill="#15306b"/><polygon points="1012.8,178.2 1020.1,175.1 1025.6,178.2 1023.2,184.3 1015.9,187.5 1010.5,184.2" fill="#15306b"/><polygon points="1020.2,182.5 1027.5,179.3 1032.9,182.4 1030.6,188.7 1023.2,192.0 1017.8,188.7" fill="#15306b"/><polygon points="991.1,170.3 998.4,167.7 1003.8,170.8 1001.5,176.6 994.3,179.3 988.9,175.9" fill="#15306b"/><polygon points="998.5,174.7 1005.7,171.9 1011.2,175.1 1008.9,181.0 1001.6,183.9 996.2,180.5" fill="#15306b"/><polygon points="1005.8,179.1 1013.1,176.2 1018.5,179.4 1016.2,185.4 1008.9,188.5 1003.5,185.1" fill="#15306b"/><polygon points="1013.1,183.6 1020.4,180.5 1025.8,183.6 1023.5,189.9 1016.2,193.1 1010.8,189.7" fill="#15306b"/><polygon points="1020.4,188.0 1027.7,184.7 1033.2,187.9 1030.8,194.3 1023.5,197.7 1018.1,194.3" fill="#15306b"/><polygon points="1057.8,106.9 1065.2,103.5 1070.7,104.8 1068.5,109.6 1061.2,113.1 1055.6,111.6" fill="#1f4389"/><polygon points="1065.4,108.8 1072.7,105.3 1078.3,106.5 1076.1,111.5 1068.7,115.2 1063.2,113.6" fill="#1f4389"/><polygon points="1072.9,110.7 1080.3,107.0 1085.8,108.3 1083.6,113.4 1076.2,117.2 1070.7,115.7" fill="#1f4389"/><polygon points="1080.4,112.6 1087.8,108.7 1093.4,110.0 1091.2,115.3 1083.8,119.3 1078.2,117.8" fill="#1f4389"/><polygon points="1088.0,114.5 1095.4,110.4 1101.0,111.7 1098.7,117.2 1091.3,121.4 1085.7,119.8" fill="#1f4389"/><polygon points="1058.2,110.7 1065.6,107.3 1071.2,108.7 1068.9,113.6 1061.6,117.1 1056.0,115.5" fill="#1f4389"/><polygon points="1065.8,112.7 1073.1,109.1 1078.7,110.5 1076.5,115.6 1069.1,119.3 1063.6,117.7" fill="#1f4389"/><polygon points="1073.3,114.7 1080.7,111.0 1086.2,112.3 1084.0,117.6 1076.6,121.5 1071.1,119.9" fill="#1f4389"/><polygon points="1080.8,116.7 1088.2,112.8 1093.8,114.2 1091.5,119.6 1084.1,123.7 1078.6,122.1" fill="#1f4389"/><polygon points="1088.4,118.8 1095.8,114.7 1101.3,116.0 1099.1,121.6 1091.6,125.9 1086.1,124.2" fill="#1f4389"/><polygon points="1051.1,112.5 1058.5,109.2 1064.0,110.6 1061.8,115.5 1054.5,118.9 1048.9,117.2" fill="#1f4389"/><polygon points="1058.6,114.6 1066.0,111.2 1071.6,112.6 1069.3,117.7 1062.0,121.2 1056.4,119.5" fill="#1f4389"/><polygon points="1066.2,116.8 1073.5,113.1 1079.1,114.6 1076.8,119.8 1069.5,123.6 1063.9,121.8" fill="#1f4389"/><polygon points="1073.7,118.9 1081.1,115.1 1086.6,116.5 1084.4,121.9 1077.0,125.9 1071.4,124.2" fill="#1f4389"/><polygon points="1081.2,121.0 1088.6,117.1 1094.2,118.5 1091.9,124.1 1084.5,128.2 1078.9,126.5" fill="#1f4389"/><polygon points="1051.5,116.4 1058.9,113.1 1064.4,114.6 1062.2,119.6 1054.9,123.1 1049.3,121.3" fill="#1f4389"/><polygon points="1059.0,118.7 1066.4,115.2 1071.9,116.7 1069.7,121.9 1062.4,125.5 1056.8,123.7" fill="#1f4389"/><polygon points="1066.6,120.9 1073.9,117.2 1079.5,118.8 1077.2,124.1 1069.8,127.9 1064.3,126.1" fill="#1f4389"/><polygon points="1074.1,123.2 1081.4,119.3 1087.0,120.9 1084.7,126.4 1077.3,130.4 1071.8,128.6" fill="#1f4389"/><polygon points="1081.6,125.4 1089.0,121.4 1094.5,122.9 1092.2,128.6 1084.8,132.8 1079.3,131.0" fill="#1f4389"/><polygon points="1044.4,118.1 1051.7,114.9 1057.3,116.5 1055.1,121.4 1047.7,124.8 1042.2,122.9" fill="#1f4389"/><polygon points="1051.9,120.4 1059.3,117.1 1064.8,118.7 1062.6,123.8 1055.2,127.3 1049.7,125.4" fill="#1f4389"/><polygon points="1059.4,122.8 1066.8,119.3 1072.3,120.9 1070.1,126.2 1062.7,129.9 1057.2,128.0" fill="#1f4389"/><polygon points="1066.9,125.2 1074.3,121.5 1079.8,123.1 1077.6,128.6 1070.2,132.4 1064.7,130.5" fill="#1f4389"/><polygon points="1074.4,127.6 1081.8,123.7 1087.3,125.3 1085.1,130.9 1077.7,135.0 1072.2,133.1" fill="#1f4389"/><polygon points="1044.8,122.1 1052.1,118.8 1057.7,120.6 1055.5,125.6 1048.1,129.0 1042.6,127.1" fill="#1f4389"/><polygon points="1052.3,124.6 1059.6,121.2 1065.2,122.9 1062.9,128.1 1055.6,131.7 1050.1,129.7" fill="#1f4389"/><polygon points="1059.8,127.1 1067.2,123.5 1072.7,125.2 1070.4,130.6 1063.1,134.4 1057.6,132.4" fill="#1f4389"/><polygon points="1067.3,129.6 1074.7,125.8 1080.2,127.5 1077.9,133.1 1070.5,137.0 1065.0,135.1" fill="#1f4389"/><polygon points="1074.8,132.1 1082.2,128.2 1087.7,129.9 1085.4,135.6 1078.0,139.7 1072.5,137.7" fill="#1f4389"/><polygon points="1037.7,123.6 1045.0,120.5 1050.6,122.3 1048.3,127.4 1041.0,130.6 1035.5,128.5" fill="#1f4389"/><polygon points="1045.2,126.3 1052.5,123.0 1058.1,124.8 1055.8,130.0 1048.5,133.4 1043.0,131.3" fill="#1f4389"/><polygon points="1052.7,128.9 1060.0,125.4 1065.6,127.2 1063.3,132.6 1056.0,136.2 1050.4,134.1" fill="#1f4389"/><polygon points="1060.2,131.5 1067.5,127.9 1073.0,129.7 1070.8,135.2 1063.4,139.0 1057.9,136.9" fill="#1f4389"/><polygon points="1067.6,134.1 1075.0,130.3 1080.5,132.1 1078.3,137.8 1070.9,141.8 1065.4,139.7" fill="#1f4389"/><polygon points="1038.1,127.8 1045.4,124.6 1051.0,126.5 1048.7,131.7 1041.4,135.0 1035.9,132.8" fill="#1f4389"/><polygon points="1045.6,130.5 1052.9,127.2 1058.4,129.1 1056.2,134.4 1048.8,137.9 1043.3,135.7" fill="#1f4389"/><polygon points="1053.0,133.3 1060.4,129.8 1065.9,131.7 1063.7,137.2 1056.3,140.8 1050.8,138.7" fill="#1f4389"/><polygon points="1060.5,136.0 1067.9,132.3 1073.4,134.2 1071.1,139.9 1063.7,143.7 1058.2,141.6" fill="#1f4389"/><polygon points="1068.0,138.8 1075.4,134.9 1080.9,136.8 1078.6,142.7 1071.2,146.6 1065.7,144.5" fill="#1f4389"/><polygon points="1031.0,129.2 1038.3,126.2 1043.9,128.2 1041.6,133.3 1034.3,136.4 1028.8,134.2" fill="#1f4389"/><polygon points="1038.5,132.1 1045.8,128.9 1051.3,130.8 1049.1,136.1 1041.7,139.5 1036.3,137.2" fill="#1f4389"/><polygon points="1045.9,134.9 1053.3,131.6 1058.8,133.5 1056.5,139.0 1049.2,142.5 1043.7,140.3" fill="#1f4389"/><polygon points="1053.4,137.8 1060.7,134.2 1066.3,136.2 1064.0,141.9 1056.6,145.5 1051.1,143.3" fill="#1f4389"/><polygon points="1060.9,140.7 1068.2,136.9 1073.7,138.9 1071.4,144.7 1064.1,148.6 1058.6,146.3" fill="#1f4389"/><polygon points="1031.4,133.5 1038.7,130.4 1044.2,132.5 1042.0,137.7 1034.7,140.9 1029.2,138.6" fill="#1f4389"/><polygon points="1038.8,136.5 1046.2,133.2 1051.7,135.3 1049.4,140.7 1042.1,144.1 1036.6,141.8" fill="#1f4389"/><polygon points="1046.3,139.5 1053.6,136.0 1059.1,138.1 1056.9,143.7 1049.5,147.3 1044.0,144.9" fill="#1f4389"/><polygon points="1053.7,142.4 1061.1,138.8 1066.6,140.9 1064.3,146.7 1057.0,150.4 1051.5,148.1" fill="#1f4389"/><polygon points="1061.2,145.4 1068.6,141.7 1074.1,143.7 1071.8,149.7 1064.4,153.6 1058.9,151.2" fill="#1f4389"/><polygon points="1024.3,134.8 1031.6,131.8 1037.1,134.0 1034.9,139.2 1027.6,142.3 1022.1,139.9" fill="#1f4389"/><polygon points="1031.8,137.9 1039.1,134.8 1044.6,136.9 1042.3,142.3 1035.0,145.6 1029.5,143.1" fill="#1f4389"/><polygon points="1039.2,141.0 1046.5,137.7 1052.0,139.9 1049.8,145.4 1042.4,148.8 1036.9,146.4" fill="#1f4389"/><polygon points="1046.6,144.1 1054.0,140.6 1059.5,142.8 1057.2,148.5 1049.8,152.1 1044.4,149.7" fill="#1f4389"/><polygon points="1054.1,147.2 1061.4,143.6 1066.9,145.7 1064.6,151.6 1057.3,155.4 1051.8,153.0" fill="#1f4389"/><polygon points="1024.7,139.2 1032.0,136.2 1037.5,138.4 1035.2,143.8 1027.9,146.9 1022.5,144.4" fill="#1f4389"/><polygon points="1032.1,142.4 1039.4,139.2 1044.9,141.5 1042.7,147.0 1035.3,150.3 1029.9,147.8" fill="#1f4389"/><polygon points="1039.5,145.6 1046.9,142.3 1052.4,144.5 1050.1,150.2 1042.7,153.7 1037.3,151.2" fill="#1f4389"/><polygon points="1047.0,148.9 1054.3,145.3 1059.8,147.6 1057.5,153.4 1050.2,157.1 1044.7,154.6" fill="#1f4389"/><polygon points="1054.4,152.1 1061.8,148.4 1067.2,150.7 1064.9,156.7 1057.6,160.5 1052.1,158.0" fill="#1f4389"/><polygon points="1017.6,140.4 1024.9,137.5 1030.4,139.8 1028.2,145.1 1020.9,148.1 1015.4,145.5" fill="#1f4389"/><polygon points="1025.0,143.7 1032.3,140.7 1037.8,143.0 1035.6,148.5 1028.3,151.6 1022.8,149.0" fill="#1f4389"/><polygon points="1032.5,147.1 1039.8,143.8 1045.3,146.2 1043.0,151.8 1035.7,155.2 1030.2,152.6" fill="#1f4389"/><polygon points="1039.9,150.4 1047.2,147.0 1052.7,149.4 1050.4,155.2 1043.1,158.7 1037.6,156.1" fill="#1f4389"/><polygon points="1047.3,153.7 1054.6,150.2 1060.1,152.5 1057.8,158.5 1050.5,162.2 1045.0,159.6" fill="#1f4389"/><polygon points="1018.0,144.9 1025.3,142.0 1030.8,144.4 1028.5,149.8 1021.2,152.9 1015.7,150.2" fill="#1f4389"/><polygon points="1025.4,148.4 1032.7,145.3 1038.2,147.7 1035.9,153.3 1028.6,156.5 1023.1,153.8" fill="#1f4389"/><polygon points="1032.8,151.8 1040.1,148.6 1045.6,151.0 1043.3,156.7 1036.0,160.1 1030.5,157.4" fill="#1f4389"/><polygon points="1040.2,155.3 1047.5,151.9 1053.0,154.3 1050.7,160.2 1043.4,163.8 1037.9,161.1" fill="#1f4389"/><polygon points="1047.6,158.8 1055.0,155.1 1060.4,157.6 1058.1,163.7 1050.8,167.4 1045.3,164.7" fill="#1f4389"/><polygon points="1010.9,145.9 1018.2,143.1 1023.7,145.7 1021.4,151.0 1014.1,154.0 1008.7,151.2" fill="#1f4389"/><polygon points="1018.3,149.5 1025.6,146.6 1031.1,149.1 1028.8,154.6 1021.5,157.7 1016.1,154.9" fill="#1f4389"/><polygon points="1025.7,153.1 1033.0,150.0 1038.5,152.5 1036.2,158.2 1028.9,161.5 1023.4,158.7" fill="#1f4389"/><polygon points="1033.1,156.7 1040.4,153.4 1045.9,155.9 1043.6,161.8 1036.3,165.2 1030.8,162.5" fill="#1f4389"/><polygon points="1040.5,160.3 1047.8,156.8 1053.3,159.3 1051.0,165.4 1043.7,169.0 1038.2,166.2" fill="#1f4389"/><polygon points="1011.3,150.6 1018.6,147.7 1024.0,150.4 1021.8,155.8 1014.5,158.8 1009.0,155.9" fill="#1f4389"/><polygon points="1018.7,154.3 1026.0,151.3 1031.4,153.9 1029.1,159.6 1021.8,162.7 1016.4,159.8" fill="#1f4389"/><polygon points="1026.0,158.0 1033.4,154.8 1038.8,157.4 1036.5,163.3 1029.2,166.6 1023.8,163.7" fill="#1f4389"/><polygon points="1033.4,161.7 1040.8,158.4 1046.2,161.0 1043.9,167.0 1036.6,170.5 1031.1,167.6" fill="#1f4389"/><polygon points="1040.8,165.4 1048.2,161.9 1053.6,164.5 1051.3,170.7 1043.9,174.3 1038.5,171.5" fill="#1f4389"/><polygon points="1004.2,151.5 1011.5,148.8 1017.0,151.5 1014.7,157.0 1007.4,159.8 1002.0,156.8" fill="#1f4389"/><polygon points="1011.6,155.3 1018.9,152.5 1024.3,155.2 1022.1,160.8 1014.8,163.8 1009.3,160.8" fill="#1f4389"/><polygon points="1019.0,159.2 1026.3,156.1 1031.7,158.8 1029.4,164.6 1022.1,167.8 1016.7,164.8" fill="#1f4389"/><polygon points="1026.4,163.0 1033.7,159.8 1039.1,162.5 1036.8,168.4 1029.5,171.8 1024.1,168.8" fill="#1f4389"/><polygon points="1033.7,166.8 1041.1,163.4 1046.5,166.1 1044.2,172.3 1036.8,175.8 1031.4,172.8" fill="#1f4389"/><polygon points="1004.6,156.3 1011.8,153.5 1017.3,156.3 1015.0,161.9 1007.7,164.8 1002.3,161.7" fill="#1f4389"/><polygon points="1011.9,160.2 1019.2,157.3 1024.7,160.1 1022.4,165.8 1015.1,168.9 1009.7,165.9" fill="#1f4389"/><polygon points="1019.3,164.2 1026.6,161.1 1032.0,163.9 1029.7,169.8 1022.4,173.0 1017.0,170.0" fill="#1f4389"/><polygon points="1026.7,168.1 1034.0,164.9 1039.4,167.7 1037.1,173.7 1029.8,177.1 1024.3,174.1" fill="#1f4389"/><polygon points="1034.0,172.1 1041.4,168.6 1046.8,171.4 1044.5,177.7 1037.1,181.3 1031.7,178.2" fill="#1f4389"/><polygon points="997.5,157.1 1004.8,154.5 1010.2,157.3 1008.0,162.9 1000.7,165.6 995.3,162.5" fill="#1f4389"/><polygon points="1004.9,161.2 1012.2,158.4 1017.6,161.2 1015.3,166.9 1008.0,169.9 1002.6,166.7" fill="#1f4389"/><polygon points="1012.2,165.2 1019.5,162.3 1025.0,165.1 1022.7,171.0 1015.4,174.1 1010.0,171.0" fill="#1f4389"/><polygon points="1019.6,169.3 1026.9,166.2 1032.3,169.0 1030.0,175.1 1022.7,178.4 1017.3,175.2" fill="#1f4389"/><polygon points="1026.9,173.4 1034.3,170.1 1039.7,172.9 1037.4,179.2 1030.0,182.6 1024.6,179.5" fill="#1f4389"/><polygon points="997.9,162.0 1005.1,159.3 1010.6,162.3 1008.3,167.9 1001.0,170.7 995.6,167.5" fill="#1f4389"/><polygon points="1005.2,166.2 1012.5,163.3 1017.9,166.3 1015.6,172.1 1008.3,175.1 1002.9,171.9" fill="#1f4389"/><polygon points="1012.5,170.4 1019.8,167.3 1025.3,170.3 1023.0,176.3 1015.6,179.5 1010.2,176.2" fill="#1f4389"/><polygon points="1019.9,174.6 1027.2,171.4 1032.6,174.3 1030.3,180.5 1023.0,183.8 1017.6,180.6" fill="#1f4389"/><polygon points="1027.2,178.8 1034.5,175.4 1040.0,178.4 1037.6,184.7 1030.3,188.2 1024.9,185.0" fill="#1f4389"/><polygon points="990.8,162.7 998.1,160.1 1003.5,163.2 1001.2,168.8 994.0,171.5 988.6,168.2" fill="#1f4389"/><polygon points="998.2,167.0 1005.4,164.3 1010.9,167.3 1008.6,173.1 1001.3,176.0 995.9,172.6" fill="#1f4389"/><polygon points="1005.5,171.3 1012.8,168.4 1018.2,171.5 1015.9,177.4 1008.6,180.4 1003.2,177.1" fill="#1f4389"/><polygon points="1012.8,175.6 1020.1,172.5 1025.6,175.6 1023.2,181.7 1015.9,184.9 1010.5,181.6" fill="#1f4389"/><polygon points="1020.2,179.9 1027.5,176.7 1032.9,179.8 1030.6,186.1 1023.2,189.4 1017.8,186.1" fill="#1f4389"/><polygon points="991.1,167.7 998.4,165.1 1003.8,168.2 1001.5,174.0 994.3,176.7 988.9,173.3" fill="#1f4389"/><polygon points="998.5,172.1 1005.7,169.3 1011.2,172.5 1008.9,178.4 1001.6,181.3 996.2,177.9" fill="#1f4389"/><polygon points="1005.8,176.5 1013.1,173.6 1018.5,176.8 1016.2,182.8 1008.9,185.9 1003.5,182.5" fill="#1f4389"/><polygon points="1013.1,181.0 1020.4,177.9 1025.8,181.0 1023.5,187.3 1016.2,190.5 1010.8,187.1" fill="#1f4389"/><polygon points="1020.4,185.4 1027.7,182.1 1033.2,185.3 1030.8,191.7 1023.5,195.1 1018.1,191.7" fill="#1f4389"/><polygon points="1060.4,107.6 1064.2,105.8 1067.1,106.5 1066.0,109.0 1062.1,110.8 1059.2,110.0" fill="#8eaae0"/><polygon points="1067.9,109.4 1071.8,107.6 1074.7,108.3 1073.5,110.8 1069.7,112.7 1066.8,112.0" fill="#8eaae0"/><polygon points="1075.5,111.3 1079.3,109.4 1082.2,110.1 1081.1,112.7 1077.2,114.7 1074.3,114.0" fill="#8eaae0"/><polygon points="1083.0,113.2 1086.9,111.2 1089.8,111.9 1088.6,114.6 1084.7,116.7 1081.8,115.9" fill="#8eaae0"/><polygon points="1090.6,115.1 1094.4,113.0 1097.3,113.7 1096.1,116.5 1092.3,118.7 1089.4,117.9" fill="#8eaae0"/><polygon points="1060.8,111.4 1064.6,109.6 1067.5,110.3 1066.4,112.9 1062.5,114.7 1059.7,113.9" fill="#8eaae0"/><polygon points="1068.3,113.4 1072.2,111.5 1075.1,112.3 1073.9,114.9 1070.1,116.8 1067.2,116.0" fill="#8eaae0"/><polygon points="1075.9,115.4 1079.7,113.4 1082.6,114.2 1081.4,116.9 1077.6,118.9 1074.7,118.1" fill="#8eaae0"/><polygon points="1083.4,117.4 1087.2,115.4 1090.1,116.1 1089.0,118.9 1085.1,121.0 1082.2,120.2" fill="#8eaae0"/><polygon points="1090.9,119.4 1094.8,117.3 1097.7,118.0 1096.5,120.9 1092.6,123.1 1089.7,122.3" fill="#8eaae0"/><polygon points="1053.7,113.2 1057.5,111.5 1060.4,112.3 1059.3,114.8 1055.4,116.6 1052.5,115.7" fill="#8eaae0"/><polygon points="1061.2,115.3 1065.0,113.5 1067.9,114.3 1066.8,116.9 1062.9,118.8 1060.0,117.9" fill="#8eaae0"/><polygon points="1068.7,117.5 1072.6,115.6 1075.5,116.4 1074.3,119.1 1070.5,121.0 1067.6,120.2" fill="#8eaae0"/><polygon points="1076.2,119.6 1080.1,117.6 1083.0,118.4 1081.8,121.2 1078.0,123.2 1075.1,122.4" fill="#8eaae0"/><polygon points="1083.8,121.8 1087.6,119.7 1090.5,120.5 1089.3,123.3 1085.5,125.5 1082.6,124.6" fill="#8eaae0"/><polygon points="1054.1,117.2 1057.9,115.4 1060.8,116.3 1059.6,118.8 1055.8,120.6 1052.9,119.7" fill="#8eaae0"/><polygon points="1061.6,119.4 1065.4,117.6 1068.3,118.4 1067.2,121.1 1063.3,123.0 1060.4,122.1" fill="#8eaae0"/><polygon points="1069.1,121.7 1072.9,119.8 1075.8,120.6 1074.7,123.4 1070.8,125.3 1067.9,124.4" fill="#8eaae0"/><polygon points="1076.6,123.9 1080.5,121.9 1083.3,122.8 1082.2,125.6 1078.3,127.7 1075.4,126.8" fill="#8eaae0"/><polygon points="1084.1,126.2 1088.0,124.1 1090.9,124.9 1089.7,127.9 1085.8,130.0 1082.9,129.1" fill="#8eaae0"/><polygon points="1047.0,118.9 1050.8,117.2 1053.7,118.1 1052.5,120.6 1048.7,122.4 1045.8,121.4" fill="#8eaae0"/><polygon points="1054.5,121.2 1058.3,119.5 1061.2,120.4 1060.0,123.0 1056.2,124.8 1053.3,123.9" fill="#8eaae0"/><polygon points="1062.0,123.6 1065.8,121.8 1068.7,122.6 1067.5,125.4 1063.7,127.3 1060.8,126.3" fill="#8eaae0"/><polygon points="1069.5,126.0 1073.3,124.0 1076.2,124.9 1075.0,127.8 1071.2,129.8 1068.3,128.8" fill="#8eaae0"/><polygon points="1077.0,128.4 1080.8,126.3 1083.7,127.2 1082.5,130.1 1078.7,132.2 1075.8,131.3" fill="#8eaae0"/><polygon points="1047.4,122.9 1051.2,121.2 1054.1,122.2 1052.9,124.8 1049.1,126.5 1046.2,125.5" fill="#8eaae0"/><polygon points="1054.9,125.4 1058.7,123.6 1061.6,124.6 1060.4,127.3 1056.6,129.1 1053.7,128.1" fill="#8eaae0"/><polygon points="1062.3,127.9 1066.2,126.1 1069.1,127.0 1067.9,129.8 1064.1,131.7 1061.2,130.7" fill="#8eaae0"/><polygon points="1069.8,130.4 1073.7,128.5 1076.6,129.4 1075.4,132.3 1071.5,134.3 1068.7,133.3" fill="#8eaae0"/><polygon points="1077.3,132.9 1081.2,130.9 1084.1,131.8 1082.9,134.8 1079.0,136.9 1076.1,135.9" fill="#8eaae0"/><polygon points="1040.3,124.5 1044.1,122.9 1047.0,123.9 1045.8,126.5 1042.0,128.1 1039.1,127.1" fill="#8eaae0"/><polygon points="1047.7,127.1 1051.6,125.4 1054.4,126.4 1053.3,129.1 1049.5,130.9 1046.6,129.8" fill="#8eaae0"/><polygon points="1055.2,129.8 1059.1,127.9 1061.9,128.9 1060.8,131.7 1056.9,133.6 1054.1,132.5" fill="#8eaae0"/><polygon points="1062.7,132.4 1066.5,130.5 1069.4,131.4 1068.2,134.3 1064.4,136.3 1061.5,135.2" fill="#8eaae0"/><polygon points="1070.2,135.0 1074.0,133.0 1076.9,134.0 1075.7,136.9 1071.9,139.0 1069.0,137.9" fill="#8eaae0"/><polygon points="1040.7,128.7 1044.5,127.1 1047.3,128.1 1046.2,130.8 1042.4,132.5 1039.5,131.4" fill="#8eaae0"/><polygon points="1048.1,131.5 1051.9,129.7 1054.8,130.7 1053.6,133.5 1049.8,135.3 1047.0,134.2" fill="#8eaae0"/><polygon points="1055.6,134.2 1059.4,132.4 1062.3,133.4 1061.1,136.2 1057.3,138.1 1054.4,137.0" fill="#8eaae0"/><polygon points="1063.1,137.0 1066.9,135.0 1069.8,136.0 1068.6,139.0 1064.7,140.9 1061.9,139.9" fill="#8eaae0"/><polygon points="1070.5,139.7 1074.4,137.7 1077.2,138.7 1076.0,141.7 1072.2,143.8 1069.3,142.7" fill="#8eaae0"/><polygon points="1033.6,130.2 1037.4,128.6 1040.2,129.7 1039.1,132.3 1035.3,133.9 1032.4,132.8" fill="#8eaae0"/><polygon points="1041.0,133.0 1044.8,131.4 1047.7,132.4 1046.5,135.2 1042.7,136.9 1039.9,135.8" fill="#8eaae0"/><polygon points="1048.5,135.9 1052.3,134.1 1055.2,135.2 1054.0,138.0 1050.2,139.8 1047.3,138.7" fill="#8eaae0"/><polygon points="1055.9,138.8 1059.8,136.9 1062.6,138.0 1061.5,140.9 1057.6,142.8 1054.8,141.7" fill="#8eaae0"/><polygon points="1063.4,141.6 1067.2,139.7 1070.1,140.7 1068.9,143.8 1065.1,145.7 1062.2,144.6" fill="#8eaae0"/><polygon points="1033.9,134.5 1037.7,132.9 1040.6,134.0 1039.4,136.7 1035.6,138.4 1032.8,137.2" fill="#8eaae0"/><polygon points="1041.4,137.5 1045.2,135.8 1048.1,136.9 1046.9,139.7 1043.1,141.4 1040.2,140.3" fill="#8eaae0"/><polygon points="1048.8,140.5 1052.7,138.7 1055.5,139.8 1054.3,142.7 1050.5,144.5 1047.6,143.3" fill="#8eaae0"/><polygon points="1056.3,143.5 1060.1,141.6 1063.0,142.7 1061.8,145.7 1057.9,147.6 1055.1,146.4" fill="#8eaae0"/><polygon points="1063.7,146.4 1067.6,144.5 1070.4,145.6 1069.2,148.6 1065.4,150.7 1062.5,149.5" fill="#8eaae0"/><polygon points="1026.9,135.8 1030.7,134.3 1033.5,135.4 1032.4,138.1 1028.6,139.7 1025.7,138.5" fill="#8eaae0"/><polygon points="1034.3,138.9 1038.1,137.3 1041.0,138.5 1039.8,141.2 1036.0,142.9 1033.1,141.7" fill="#8eaae0"/><polygon points="1041.7,142.1 1045.5,140.3 1048.4,141.5 1047.2,144.3 1043.4,146.1 1040.6,144.9" fill="#8eaae0"/><polygon points="1049.2,145.2 1053.0,143.3 1055.9,144.5 1054.7,147.5 1050.8,149.3 1048.0,148.1" fill="#8eaae0"/><polygon points="1056.6,148.3 1060.4,146.3 1063.3,147.5 1062.1,150.6 1058.3,152.5 1055.4,151.3" fill="#8eaae0"/><polygon points="1027.2,140.3 1031.0,138.7 1033.9,139.9 1032.7,142.7 1028.9,144.3 1026.1,143.0" fill="#8eaae0"/><polygon points="1034.6,143.5 1038.5,141.8 1041.3,143.0 1040.1,145.9 1036.3,147.6 1033.5,146.3" fill="#8eaae0"/><polygon points="1042.1,146.7 1045.9,145.0 1048.7,146.2 1047.6,149.1 1043.7,150.9 1040.9,149.6" fill="#8eaae0"/><polygon points="1049.5,150.0 1053.3,148.1 1056.2,149.3 1055.0,152.3 1051.2,154.2 1048.3,153.0" fill="#8eaae0"/><polygon points="1056.9,153.2 1060.8,151.2 1063.6,152.5 1062.4,155.6 1058.6,157.5 1055.7,156.3" fill="#8eaae0"/><polygon points="1020.2,141.5 1024.0,140.0 1026.8,141.2 1025.6,144.0 1021.8,145.5 1019.0,144.2" fill="#8eaae0"/><polygon points="1027.6,144.8 1031.4,143.2 1034.2,144.5 1033.1,147.3 1029.2,149.0 1026.4,147.6" fill="#8eaae0"/><polygon points="1035.0,148.2 1038.8,146.5 1041.7,147.8 1040.5,150.7 1036.7,152.4 1033.8,151.1" fill="#8eaae0"/><polygon points="1042.4,151.5 1046.2,149.8 1049.1,151.0 1047.9,154.0 1044.1,155.8 1041.2,154.5" fill="#8eaae0"/><polygon points="1049.8,154.9 1053.6,153.0 1056.5,154.3 1055.3,157.4 1051.5,159.3 1048.6,157.9" fill="#8eaae0"/><polygon points="1020.5,146.1 1024.3,144.5 1027.2,145.8 1026.0,148.6 1022.2,150.2 1019.3,148.8" fill="#8eaae0"/><polygon points="1027.9,149.5 1031.7,147.9 1034.6,149.2 1033.4,152.1 1029.6,153.8 1026.7,152.4" fill="#8eaae0"/><polygon points="1035.3,153.0 1039.1,151.3 1042.0,152.6 1040.8,155.6 1037.0,157.3 1034.1,155.9" fill="#8eaae0"/><polygon points="1042.7,156.5 1046.5,154.7 1049.4,156.0 1048.2,159.0 1044.4,160.9 1041.5,159.5" fill="#8eaae0"/><polygon points="1050.1,159.9 1054.0,158.0 1056.8,159.3 1055.6,162.5 1051.8,164.4 1048.9,163.1" fill="#8eaae0"/><polygon points="1013.4,147.2 1017.2,145.7 1020.1,147.0 1018.9,149.8 1015.1,151.3 1012.3,149.9" fill="#8eaae0"/><polygon points="1020.8,150.7 1024.6,149.2 1027.5,150.5 1026.3,153.4 1022.5,155.0 1019.7,153.6" fill="#8eaae0"/><polygon points="1028.2,154.3 1032.0,152.7 1034.9,154.0 1033.7,157.0 1029.9,158.7 1027.0,157.3" fill="#8eaae0"/><polygon points="1035.6,157.9 1039.4,156.2 1042.3,157.5 1041.1,160.6 1037.3,162.4 1034.4,160.9" fill="#8eaae0"/><polygon points="1043.0,161.5 1046.8,159.7 1049.7,161.0 1048.5,164.2 1044.7,166.0 1041.8,164.6" fill="#8eaae0"/><polygon points="1013.8,151.8 1017.6,150.3 1020.4,151.7 1019.2,154.6 1015.4,156.1 1012.6,154.7" fill="#8eaae0"/><polygon points="1021.2,155.6 1025.0,154.0 1027.8,155.4 1026.6,158.3 1022.8,159.9 1020.0,158.5" fill="#8eaae0"/><polygon points="1028.6,159.3 1032.4,157.6 1035.2,159.0 1034.0,162.0 1030.2,163.7 1027.4,162.3" fill="#8eaae0"/><polygon points="1035.9,163.0 1039.8,161.2 1042.6,162.6 1041.4,165.7 1037.6,167.5 1034.7,166.1" fill="#8eaae0"/><polygon points="1043.3,166.7 1047.1,164.8 1050.0,166.2 1048.8,169.4 1044.9,171.3 1042.1,169.9" fill="#8eaae0"/><polygon points="1006.7,152.8 1010.5,151.4 1013.4,152.8 1012.2,155.7 1008.4,157.1 1005.6,155.6" fill="#8eaae0"/><polygon points="1014.1,156.6 1017.9,155.1 1020.8,156.6 1019.6,159.5 1015.8,161.0 1012.9,159.5" fill="#8eaae0"/><polygon points="1021.5,160.5 1025.3,158.9 1028.1,160.3 1026.9,163.3 1023.1,165.0 1020.3,163.4" fill="#8eaae0"/><polygon points="1028.9,164.3 1032.7,162.6 1035.5,164.1 1034.3,167.1 1030.5,168.9 1027.7,167.4" fill="#8eaae0"/><polygon points="1036.2,168.1 1040.1,166.4 1042.9,167.8 1041.7,171.0 1037.9,172.8 1035.0,171.3" fill="#8eaae0"/><polygon points="1007.1,157.6 1010.9,156.2 1013.7,157.7 1012.5,160.5 1008.7,162.0 1005.9,160.5" fill="#8eaae0"/><polygon points="1014.4,161.6 1018.2,160.0 1021.1,161.5 1019.9,164.5 1016.1,166.1 1013.2,164.5" fill="#8eaae0"/><polygon points="1021.8,165.5 1025.6,163.9 1028.4,165.4 1027.2,168.4 1023.4,170.1 1020.6,168.6" fill="#8eaae0"/><polygon points="1029.2,169.5 1033.0,167.8 1035.8,169.2 1034.6,172.4 1030.8,174.2 1028.0,172.6" fill="#8eaae0"/><polygon points="1036.5,173.4 1040.3,171.6 1043.2,173.1 1042.0,176.4 1038.1,178.2 1035.3,176.6" fill="#8eaae0"/><polygon points="1000.0,158.5 1003.8,157.1 1006.7,158.6 1005.5,161.5 1001.7,162.9 998.9,161.3" fill="#8eaae0"/><polygon points="1007.4,162.5 1011.2,161.1 1014.0,162.6 1012.8,165.6 1009.0,167.1 1006.2,165.5" fill="#8eaae0"/><polygon points="1014.7,166.6 1018.5,165.1 1021.4,166.6 1020.2,169.6 1016.4,171.2 1013.5,169.6" fill="#8eaae0"/><polygon points="1022.1,170.7 1025.9,169.0 1028.7,170.6 1027.5,173.7 1023.7,175.4 1020.9,173.8" fill="#8eaae0"/><polygon points="1029.4,174.8 1033.3,173.0 1036.1,174.6 1034.9,177.8 1031.1,179.6 1028.2,178.0" fill="#8eaae0"/><polygon points="1000.3,163.4 1004.1,162.0 1007.0,163.6 1005.8,166.5 1002.0,167.9 999.2,166.3" fill="#8eaae0"/><polygon points="1007.7,167.6 1011.5,166.1 1014.3,167.7 1013.1,170.7 1009.3,172.2 1006.5,170.6" fill="#8eaae0"/><polygon points="1015.0,171.8 1018.8,170.2 1021.7,171.8 1020.5,174.9 1016.7,176.5 1013.8,174.9" fill="#8eaae0"/><polygon points="1022.4,176.0 1026.2,174.3 1029.0,175.9 1027.8,179.1 1024.0,180.8 1021.2,179.2" fill="#8eaae0"/><polygon points="1029.7,180.2 1033.5,178.4 1036.4,180.0 1035.1,183.3 1031.3,185.1 1028.5,183.4" fill="#8eaae0"/><polygon points="993.3,164.1 997.1,162.8 999.9,164.4 998.8,167.3 995.0,168.7 992.1,167.0" fill="#8eaae0"/><polygon points="1000.7,168.4 1004.4,167.0 1007.3,168.6 1006.1,171.6 1002.3,173.1 999.5,171.4" fill="#8eaae0"/><polygon points="1008.0,172.8 1011.8,171.2 1014.6,172.9 1013.4,176.0 1009.6,177.5 1006.8,175.8" fill="#8eaae0"/><polygon points="1015.3,177.1 1019.1,175.5 1022.0,177.1 1020.7,180.3 1016.9,181.9 1014.1,180.2" fill="#8eaae0"/><polygon points="1022.6,181.4 1026.5,179.7 1029.3,181.3 1028.1,184.6 1024.3,186.3 1021.4,184.6" fill="#8eaae0"/><polygon points="993.6,169.2 997.4,167.8 1000.2,169.5 999.0,172.5 995.3,173.9 992.4,172.1" fill="#8eaae0"/><polygon points="1001.0,173.6 1004.7,172.2 1007.6,173.8 1006.4,176.9 1002.6,178.4 999.8,176.6" fill="#8eaae0"/><polygon points="1008.3,178.1 1012.1,176.5 1014.9,178.2 1013.7,181.3 1009.9,182.9 1007.1,181.2" fill="#8eaae0"/><polygon points="1015.6,182.5 1019.4,180.9 1022.2,182.5 1021.0,185.8 1017.2,187.4 1014.4,185.7" fill="#8eaae0"/><polygon points="1022.9,186.9 1026.7,185.2 1029.6,186.9 1028.3,190.2 1024.5,192.0 1021.7,190.2" fill="#8eaae0"/><polygon points="1061.4,107.4 1063.4,106.4 1065.0,106.8 1064.4,108.1 1062.3,109.1 1060.8,108.7" fill="#c3d5f3" opacity="0.8"/><polygon points="1068.9,109.3 1071.0,108.3 1072.6,108.6 1071.9,110.0 1069.9,111.0 1068.3,110.6" fill="#c3d5f3" opacity="0.8"/><polygon points="1076.5,111.2 1078.5,110.1 1080.1,110.5 1079.5,111.9 1077.4,113.0 1075.8,112.6" fill="#c3d5f3" opacity="0.8"/><polygon points="1084.0,113.1 1086.1,111.9 1087.6,112.3 1087.0,113.8 1084.9,114.9 1083.4,114.5" fill="#c3d5f3" opacity="0.8"/><polygon points="1091.5,115.0 1093.6,113.8 1095.2,114.2 1094.6,115.7 1092.5,116.9 1090.9,116.5" fill="#c3d5f3" opacity="0.8"/><polygon points="1061.8,111.2 1063.9,110.3 1065.4,110.7 1064.8,112.0 1062.7,113.0 1061.2,112.6" fill="#c3d5f3" opacity="0.8"/><polygon points="1069.3,113.2 1071.4,112.2 1073.0,112.6 1072.3,114.1 1070.3,115.1 1068.7,114.7" fill="#c3d5f3" opacity="0.8"/><polygon points="1076.8,115.3 1078.9,114.2 1080.5,114.6 1079.9,116.1 1077.8,117.2 1076.2,116.7" fill="#c3d5f3" opacity="0.8"/><polygon points="1084.4,117.3 1086.5,116.2 1088.0,116.6 1087.4,118.1 1085.3,119.2 1083.7,118.8" fill="#c3d5f3" opacity="0.8"/><polygon points="1091.9,119.3 1094.0,118.1 1095.6,118.5 1094.9,120.1 1092.8,121.3 1091.3,120.8" fill="#c3d5f3" opacity="0.8"/><polygon points="1054.7,113.1 1056.7,112.1 1058.3,112.6 1057.7,113.9 1055.6,114.9 1054.0,114.4" fill="#c3d5f3" opacity="0.8"/><polygon points="1062.2,115.2 1064.3,114.2 1065.8,114.7 1065.2,116.1 1063.1,117.1 1061.6,116.6" fill="#c3d5f3" opacity="0.8"/><polygon points="1069.7,117.3 1071.8,116.3 1073.3,116.7 1072.7,118.2 1070.6,119.2 1069.1,118.8" fill="#c3d5f3" opacity="0.8"/><polygon points="1077.2,119.5 1079.3,118.4 1080.9,118.8 1080.2,120.3 1078.2,121.4 1076.6,121.0" fill="#c3d5f3" opacity="0.8"/><polygon points="1084.7,121.6 1086.8,120.5 1088.4,120.9 1087.7,122.5 1085.7,123.6 1084.1,123.2" fill="#c3d5f3" opacity="0.8"/><polygon points="1055.1,117.1 1057.1,116.1 1058.7,116.6 1058.1,118.0 1056.0,118.9 1054.4,118.4" fill="#c3d5f3" opacity="0.8"/><polygon points="1062.6,119.3 1064.6,118.3 1066.2,118.8 1065.6,120.2 1063.5,121.2 1061.9,120.7" fill="#c3d5f3" opacity="0.8"/><polygon points="1070.1,121.6 1072.2,120.5 1073.7,121.0 1073.1,122.5 1071.0,123.5 1069.4,123.0" fill="#c3d5f3" opacity="0.8"/><polygon points="1077.6,123.8 1079.7,122.7 1081.2,123.2 1080.6,124.7 1078.5,125.8 1077.0,125.4" fill="#c3d5f3" opacity="0.8"/><polygon points="1085.1,126.1 1087.2,124.9 1088.7,125.4 1088.1,127.0 1086.0,128.1 1084.5,127.7" fill="#c3d5f3" opacity="0.8"/><polygon points="1048.0,118.8 1050.0,117.9 1051.6,118.3 1051.0,119.7 1048.9,120.7 1047.3,120.1" fill="#c3d5f3" opacity="0.8"/><polygon points="1055.5,121.2 1057.5,120.2 1059.1,120.7 1058.5,122.1 1056.4,123.1 1054.8,122.6" fill="#c3d5f3" opacity="0.8"/><polygon points="1063.0,123.5 1065.0,122.5 1066.6,123.0 1066.0,124.5 1063.9,125.5 1062.3,125.0" fill="#c3d5f3" opacity="0.8"/><polygon points="1070.4,125.9 1072.5,124.8 1074.1,125.3 1073.4,126.9 1071.4,127.9 1069.8,127.4" fill="#c3d5f3" opacity="0.8"/><polygon points="1077.9,128.3 1080.0,127.2 1081.6,127.7 1080.9,129.2 1078.9,130.4 1077.3,129.9" fill="#c3d5f3" opacity="0.8"/><polygon points="1048.3,122.9 1050.4,121.9 1052.0,122.5 1051.3,123.9 1049.3,124.8 1047.7,124.3" fill="#c3d5f3" opacity="0.8"/><polygon points="1055.8,125.4 1057.9,124.4 1059.5,124.9 1058.8,126.4 1056.8,127.4 1055.2,126.8" fill="#c3d5f3" opacity="0.8"/><polygon points="1063.3,127.9 1065.4,126.8 1066.9,127.4 1066.3,128.9 1064.2,129.9 1062.7,129.4" fill="#c3d5f3" opacity="0.8"/><polygon points="1070.8,130.4 1072.9,129.3 1074.4,129.8 1073.8,131.4 1071.7,132.5 1070.2,131.9" fill="#c3d5f3" opacity="0.8"/><polygon points="1078.3,132.9 1080.4,131.7 1081.9,132.3 1081.3,133.9 1079.2,135.0 1077.7,134.5" fill="#c3d5f3" opacity="0.8"/><polygon points="1041.2,124.5 1043.3,123.6 1044.9,124.1 1044.2,125.5 1042.2,126.4 1040.6,125.9" fill="#c3d5f3" opacity="0.8"/><polygon points="1048.7,127.1 1050.8,126.2 1052.3,126.7 1051.7,128.1 1049.6,129.1 1048.1,128.5" fill="#c3d5f3" opacity="0.8"/><polygon points="1056.2,129.7 1058.3,128.7 1059.8,129.3 1059.2,130.8 1057.1,131.8 1055.6,131.2" fill="#c3d5f3" opacity="0.8"/><polygon points="1063.7,132.3 1065.7,131.3 1067.3,131.8 1066.7,133.4 1064.6,134.4 1063.0,133.9" fill="#c3d5f3" opacity="0.8"/><polygon points="1071.2,135.0 1073.2,133.9 1074.8,134.4 1074.1,136.0 1072.1,137.1 1070.5,136.5" fill="#c3d5f3" opacity="0.8"/><polygon points="1041.6,128.7 1043.7,127.8 1045.2,128.3 1044.6,129.8 1042.5,130.7 1041.0,130.1" fill="#c3d5f3" opacity="0.8"/><polygon points="1049.1,131.4 1051.2,130.5 1052.7,131.0 1052.1,132.5 1050.0,133.5 1048.5,132.9" fill="#c3d5f3" opacity="0.8"/><polygon points="1056.6,134.2 1058.6,133.2 1060.2,133.7 1059.5,135.3 1057.5,136.3 1055.9,135.7" fill="#c3d5f3" opacity="0.8"/><polygon points="1064.0,136.9 1066.1,135.9 1067.7,136.4 1067.0,138.0 1064.9,139.1 1063.4,138.5" fill="#c3d5f3" opacity="0.8"/><polygon points="1071.5,139.7 1073.6,138.6 1075.1,139.1 1074.5,140.8 1072.4,141.9 1070.8,141.3" fill="#c3d5f3" opacity="0.8"/><polygon points="1034.5,130.2 1036.6,129.3 1038.1,129.9 1037.5,131.3 1035.5,132.2 1033.9,131.6" fill="#c3d5f3" opacity="0.8"/><polygon points="1042.0,133.0 1044.1,132.1 1045.6,132.7 1045.0,134.2 1042.9,135.1 1041.4,134.5" fill="#c3d5f3" opacity="0.8"/><polygon points="1049.4,135.9 1051.5,134.9 1053.1,135.5 1052.4,137.0 1050.4,138.0 1048.8,137.4" fill="#c3d5f3" opacity="0.8"/><polygon points="1056.9,138.8 1059.0,137.7 1060.5,138.3 1059.9,139.9 1057.8,140.9 1056.3,140.3" fill="#c3d5f3" opacity="0.8"/><polygon points="1064.4,141.6 1066.4,140.6 1068.0,141.1 1067.3,142.8 1065.3,143.8 1063.7,143.2" fill="#c3d5f3" opacity="0.8"/><polygon points="1034.9,134.5 1037.0,133.6 1038.5,134.2 1037.9,135.7 1035.8,136.6 1034.3,136.0" fill="#c3d5f3" opacity="0.8"/><polygon points="1042.3,137.5 1044.4,136.6 1046.0,137.2 1045.3,138.7 1043.3,139.6 1041.7,139.0" fill="#c3d5f3" opacity="0.8"/><polygon points="1049.8,140.5 1051.9,139.5 1053.4,140.1 1052.8,141.7 1050.7,142.7 1049.2,142.0" fill="#c3d5f3" opacity="0.8"/><polygon points="1057.2,143.5 1059.3,142.4 1060.9,143.0 1060.2,144.7 1058.1,145.7 1056.6,145.1" fill="#c3d5f3" opacity="0.8"/><polygon points="1064.7,146.4 1066.8,145.4 1068.3,146.0 1067.7,147.6 1065.6,148.7 1064.0,148.1" fill="#c3d5f3" opacity="0.8"/><polygon points="1027.8,135.9 1029.9,135.0 1031.4,135.7 1030.8,137.1 1028.7,138.0 1027.2,137.3" fill="#c3d5f3" opacity="0.8"/><polygon points="1035.3,139.0 1037.3,138.1 1038.9,138.7 1038.2,140.2 1036.2,141.1 1034.6,140.5" fill="#c3d5f3" opacity="0.8"/><polygon points="1042.7,142.1 1044.8,141.1 1046.3,141.8 1045.7,143.3 1043.6,144.3 1042.1,143.6" fill="#c3d5f3" opacity="0.8"/><polygon points="1050.1,145.2 1052.2,144.2 1053.7,144.8 1053.1,146.4 1051.0,147.4 1049.5,146.8" fill="#c3d5f3" opacity="0.8"/><polygon points="1057.6,148.3 1059.6,147.2 1061.2,147.9 1060.5,149.5 1058.5,150.6 1056.9,149.9" fill="#c3d5f3" opacity="0.8"/><polygon points="1028.2,140.3 1030.2,139.5 1031.8,140.1 1031.2,141.6 1029.1,142.5 1027.5,141.8" fill="#c3d5f3" opacity="0.8"/><polygon points="1035.6,143.6 1037.7,142.7 1039.2,143.3 1038.6,144.8 1036.5,145.8 1035.0,145.1" fill="#c3d5f3" opacity="0.8"/><polygon points="1043.0,146.8 1045.1,145.8 1046.6,146.5 1046.0,148.1 1043.9,149.0 1042.4,148.4" fill="#c3d5f3" opacity="0.8"/><polygon points="1050.5,150.0 1052.5,149.0 1054.1,149.7 1053.4,151.3 1051.4,152.3 1049.8,151.6" fill="#c3d5f3" opacity="0.8"/><polygon points="1057.9,153.2 1060.0,152.2 1061.5,152.8 1060.9,154.5 1058.8,155.6 1057.2,154.9" fill="#c3d5f3" opacity="0.8"/><polygon points="1021.1,141.6 1023.2,140.7 1024.7,141.4 1024.1,142.9 1022.0,143.7 1020.5,143.0" fill="#c3d5f3" opacity="0.8"/><polygon points="1028.5,144.9 1030.6,144.0 1032.1,144.7 1031.5,146.3 1029.4,147.1 1027.9,146.4" fill="#c3d5f3" opacity="0.8"/><polygon points="1035.9,148.3 1038.0,147.3 1039.5,148.0 1038.9,149.6 1036.8,150.5 1035.3,149.8" fill="#c3d5f3" opacity="0.8"/><polygon points="1043.4,151.6 1045.4,150.6 1047.0,151.3 1046.3,152.9 1044.3,153.9 1042.7,153.2" fill="#c3d5f3" opacity="0.8"/><polygon points="1050.8,155.0 1052.8,153.9 1054.4,154.6 1053.7,156.3 1051.7,157.3 1050.1,156.6" fill="#c3d5f3" opacity="0.8"/><polygon points="1021.5,146.2 1023.5,145.3 1025.1,146.0 1024.4,147.5 1022.4,148.4 1020.8,147.7" fill="#c3d5f3" opacity="0.8"/><polygon points="1028.9,149.6 1030.9,148.7 1032.5,149.4 1031.8,151.0 1029.8,151.9 1028.2,151.2" fill="#c3d5f3" opacity="0.8"/><polygon points="1036.3,153.1 1038.3,152.2 1039.9,152.9 1039.2,154.5 1037.2,155.4 1035.6,154.7" fill="#c3d5f3" opacity="0.8"/><polygon points="1043.7,156.6 1045.7,155.6 1047.3,156.3 1046.6,157.9 1044.6,158.9 1043.0,158.2" fill="#c3d5f3" opacity="0.8"/><polygon points="1051.1,160.0 1053.1,159.0 1054.7,159.7 1054.0,161.4 1052.0,162.5 1050.4,161.7" fill="#c3d5f3" opacity="0.8"/><polygon points="1014.4,147.3 1016.5,146.5 1018.0,147.2 1017.4,148.7 1015.3,149.5 1013.8,148.8" fill="#c3d5f3" opacity="0.8"/><polygon points="1021.8,150.9 1023.9,150.0 1025.4,150.7 1024.8,152.3 1022.7,153.2 1021.2,152.4" fill="#c3d5f3" opacity="0.8"/><polygon points="1029.2,154.4 1031.3,153.5 1032.8,154.3 1032.1,155.9 1030.1,156.8 1028.5,156.0" fill="#c3d5f3" opacity="0.8"/><polygon points="1036.6,158.0 1038.6,157.1 1040.2,157.8 1039.5,159.5 1037.5,160.4 1035.9,159.7" fill="#c3d5f3" opacity="0.8"/><polygon points="1044.0,161.6 1046.0,160.6 1047.6,161.4 1046.9,163.1 1044.9,164.1 1043.3,163.3" fill="#c3d5f3" opacity="0.8"/><polygon points="1014.7,152.0 1016.8,151.2 1018.3,151.9 1017.7,153.5 1015.6,154.3 1014.1,153.5" fill="#c3d5f3" opacity="0.8"/><polygon points="1022.1,155.7 1024.2,154.8 1025.7,155.6 1025.1,157.2 1023.0,158.0 1021.5,157.3" fill="#c3d5f3" opacity="0.8"/><polygon points="1029.5,159.4 1031.6,158.5 1033.1,159.2 1032.5,160.9 1030.4,161.8 1028.9,161.0" fill="#c3d5f3" opacity="0.8"/><polygon points="1036.9,163.1 1039.0,162.1 1040.5,162.9 1039.8,164.6 1037.8,165.6 1036.2,164.8" fill="#c3d5f3" opacity="0.8"/><polygon points="1044.3,166.8 1046.3,165.8 1047.9,166.6 1047.2,168.3 1045.2,169.3 1043.6,168.5" fill="#c3d5f3" opacity="0.8"/><polygon points="1007.7,153.0 1009.7,152.2 1011.3,153.0 1010.6,154.5 1008.6,155.3 1007.1,154.5" fill="#c3d5f3" opacity="0.8"/><polygon points="1015.1,156.8 1017.1,156.0 1018.7,156.8 1018.0,158.3 1016.0,159.2 1014.4,158.4" fill="#c3d5f3" opacity="0.8"/><polygon points="1022.4,160.6 1024.5,159.8 1026.0,160.5 1025.4,162.2 1023.3,163.0 1021.8,162.2" fill="#c3d5f3" opacity="0.8"/><polygon points="1029.8,164.5 1031.9,163.5 1033.4,164.3 1032.8,166.0 1030.7,166.9 1029.2,166.1" fill="#c3d5f3" opacity="0.8"/><polygon points="1037.2,168.3 1039.3,167.3 1040.8,168.1 1040.1,169.8 1038.1,170.8 1036.5,170.0" fill="#c3d5f3" opacity="0.8"/><polygon points="1008.0,157.8 1010.1,157.0 1011.6,157.8 1011.0,159.4 1008.9,160.2 1007.4,159.3" fill="#c3d5f3" opacity="0.8"/><polygon points="1015.4,161.7 1017.4,160.9 1019.0,161.7 1018.3,163.3 1016.3,164.2 1014.7,163.3" fill="#c3d5f3" opacity="0.8"/><polygon points="1022.7,165.7 1024.8,164.8 1026.3,165.6 1025.7,167.3 1023.6,168.2 1022.1,167.3" fill="#c3d5f3" opacity="0.8"/><polygon points="1030.1,169.6 1032.2,168.7 1033.7,169.5 1033.1,171.2 1031.0,172.2 1029.5,171.3" fill="#c3d5f3" opacity="0.8"/><polygon points="1037.5,173.6 1039.5,172.6 1041.1,173.4 1040.4,175.2 1038.3,176.2 1036.8,175.3" fill="#c3d5f3" opacity="0.8"/><polygon points="1001.0,158.7 1003.0,157.9 1004.6,158.8 1003.9,160.3 1001.9,161.1 1000.3,160.2" fill="#c3d5f3" opacity="0.8"/><polygon points="1008.3,162.7 1010.4,161.9 1011.9,162.8 1011.3,164.4 1009.2,165.2 1007.7,164.3" fill="#c3d5f3" opacity="0.8"/><polygon points="1015.7,166.8 1017.7,166.0 1019.3,166.8 1018.6,168.4 1016.6,169.3 1015.0,168.4" fill="#c3d5f3" opacity="0.8"/><polygon points="1023.0,170.9 1025.1,170.0 1026.6,170.8 1026.0,172.5 1023.9,173.4 1022.4,172.6" fill="#c3d5f3" opacity="0.8"/><polygon points="1030.4,175.0 1032.5,174.0 1034.0,174.8 1033.3,176.6 1031.3,177.5 1029.7,176.7" fill="#c3d5f3" opacity="0.8"/><polygon points="1001.3,163.6 1003.3,162.8 1004.9,163.7 1004.2,165.3 1002.2,166.1 1000.7,165.2" fill="#c3d5f3" opacity="0.8"/><polygon points="1008.6,167.8 1010.7,167.0 1012.2,167.9 1011.6,169.5 1009.5,170.3 1008.0,169.4" fill="#c3d5f3" opacity="0.8"/><polygon points="1016.0,172.0 1018.0,171.1 1019.6,172.0 1018.9,173.7 1016.9,174.6 1015.3,173.7" fill="#c3d5f3" opacity="0.8"/><polygon points="1023.3,176.2 1025.4,175.3 1026.9,176.1 1026.3,177.9 1024.2,178.8 1022.7,177.9" fill="#c3d5f3" opacity="0.8"/><polygon points="1030.7,180.4 1032.7,179.4 1034.3,180.3 1033.6,182.1 1031.5,183.0 1030.0,182.2" fill="#c3d5f3" opacity="0.8"/><polygon points="994.3,164.4 996.3,163.6 997.8,164.5 997.2,166.1 995.2,166.8 993.6,165.9" fill="#c3d5f3" opacity="0.8"/><polygon points="1001.6,168.7 1003.7,167.9 1005.2,168.8 1004.5,170.4 1002.5,171.2 1001.0,170.3" fill="#c3d5f3" opacity="0.8"/><polygon points="1008.9,173.0 1011.0,172.2 1012.5,173.1 1011.9,174.7 1009.8,175.6 1008.3,174.7" fill="#c3d5f3" opacity="0.8"/><polygon points="1016.3,177.3 1018.3,176.4 1019.8,177.3 1019.2,179.0 1017.1,179.9 1015.6,179.0" fill="#c3d5f3" opacity="0.8"/><polygon points="1023.6,181.6 1025.7,180.7 1027.2,181.6 1026.5,183.4 1024.5,184.3 1022.9,183.4" fill="#c3d5f3" opacity="0.8"/><polygon points="994.6,169.4 996.6,168.7 998.1,169.6 997.5,171.2 995.5,172.0 993.9,171.0" fill="#c3d5f3" opacity="0.8"/><polygon points="1001.9,173.9 1003.9,173.1 1005.5,174.0 1004.8,175.6 1002.8,176.4 1001.3,175.5" fill="#c3d5f3" opacity="0.8"/><polygon points="1009.2,178.3 1011.3,177.5 1012.8,178.4 1012.1,180.1 1010.1,180.9 1008.6,180.0" fill="#c3d5f3" opacity="0.8"/><polygon points="1016.5,182.7 1018.6,181.9 1020.1,182.8 1019.5,184.5 1017.4,185.4 1015.9,184.5" fill="#c3d5f3" opacity="0.8"/><polygon points="1023.9,187.2 1025.9,186.2 1027.4,187.2 1026.8,189.0 1024.7,189.9 1023.2,189.0" fill="#c3d5f3" opacity="0.8"/></g><rect x="988.3" y="148.89999999999998" width="52.09999999999995" height="2.6" fill="#f6e03a" stroke="#8f8010" stroke-width="0.7" stroke-linejoin="round"/><polygon points="1040.4,151.5 1040.4,105.4 1043.3,105.4 1039.1,93.4 1034.8,105.4 1037.8,105.4 1037.8,151.5" fill="#f6e03a" stroke="#8f8010" stroke-width="0.7" stroke-linejoin="round"/><path d="M1039.1,150.2 L1039.1,123.19999999999999 A27,27 0 0 1 1057.9,130.8 Z" fill="#e9dc7c" opacity="0.7"/><path d="M1039.1,123.19999999999999 A27,27 0 0 1 1054.4,126.6" fill="none" stroke="#e3c81f" stroke-width="1.5"/><polygon points="1057.9,130.8 1050.4,128.3 1055.4,123.3" fill="#ecd224" stroke="#94840f" stroke-width="0.4"/></g>
<g transform="translate(989.3,198.9) rotate(-45.16)" opacity="1"><rect x="15" y="-2.0" width="118.2" height="4.0" fill="#3f9bd8"/><rect x="15" y="-1.2" width="118.2" height="2.4" fill="#8fd0f3"/><rect x="15" y="-0.80" width="118.2" height="1.60" fill="#c7eafb"/><polygon points="0.0,0 16.0,-5.0 16.0,5.0" fill="#3f9bd8"/><polygon points="1.5,0 16.0,-3.8 16.0,2.0" fill="#8fd0f3"/><polygon points="2.5,-0.2 16.0,-2.6 16.0,-0.2" fill="#c7eafb"/><polygon points="148.2,0 132.2,-5.0 132.2,5.0" fill="#3f9bd8"/><polygon points="146.7,0 132.2,-3.8 132.2,2.0" fill="#8fd0f3"/><polygon points="145.7,-0.2 132.2,-2.6 132.2,-0.2" fill="#c7eafb"/></g>
<text x="1050.2" y="114.9" font-size="16.5" fill="#f2dc2a" text-anchor="middle" font-style="italic" stroke="#7f710c" stroke-width="0.8">θ</text>
<text x="1028.8" y="104.8" font-size="16.5" fill="#7b711c" text-anchor="middle" font-style="italic" >z</text>
<text x="993.2" y="128.6" font-size="16.5" fill="#7b711c" text-anchor="middle" font-style="italic" >y</text>
<text x="1092.4" y="144.6" font-size="16.5" fill="#7b711c" text-anchor="middle" font-style="italic" >x</text>
<text x="1037.7" y="166.1" font-size="16" fill="#5cc3d6" text-anchor="middle" font-weight="bold" stroke="#e8f7fb" stroke-width="0.35" paint-order="stroke">P</text>
<rect x="985.6" y="89.6" width="118.4" height="116.8" rx="11" fill="none" stroke="#222" stroke-width="1.2" stroke-dasharray="1.6 2.2"/>
</g>
<g id="gel2">
<defs><linearGradient id="lcL" x1="0" y1="0" x2="1" y2="0"><stop offset="0" stop-color="#6d7188"/><stop offset="1" stop-color="#80849d"/></linearGradient>
<linearGradient id="lcF" x1="0" y1="0" x2="1" y2="0"><stop offset="0" stop-color="#a1a5be"/><stop offset="0.5" stop-color="#abafc7"/><stop offset="1" stop-color="#a3a7c0"/></linearGradient></defs>
<polygon points="809.9,250.6 915.8,250.6 938.2,259.3 831.0,259.3" fill="#898da6"/>
<polygon points="809.9,250.6 831.0,259.3 829.9,366.0 808.6,355.5" fill="url(#lcL)"/>
<polygon points="831.0,259.3 938.2,259.3 936.6,366.8 829.9,366.0" fill="url(#lcF)"/>
<polygon points="914.0,259.3 938.2,259.3 936.6,366.8 914.0,357.0" fill="#969ab3" opacity="0.7"/>
<polygon points="829.9,366.0 936.6,366.8 914.0,357.0 833.0,357.0" fill="#b1b5cc" opacity="0.55"/>
<path d="M831,259.3 L829.9,366" stroke="#8f93ac" stroke-width="0.7"/>
<rect x="845.2" y="278.1" width="19.7" height="18.8" fill="none" stroke="#222" stroke-width="1.3" stroke-dasharray="2.6 2.2"/>
<path d="M811.5,199 L845.2,278.1 M936.5,205 L864.9,278.1" stroke="#222" stroke-width="1.2" stroke-dasharray="2.6 2.6" fill="none"/>
<g transform="translate(818.4,360.1) rotate(-44.92)" opacity="0.85"><rect x="14" y="-2.0" width="119.9" height="4.0" fill="#5f86bd"/><rect x="14" y="-1.2" width="119.9" height="2.4" fill="#88a9d6"/><rect x="14" y="-0.80" width="119.9" height="1.60" fill="#b5cdea"/><polygon points="0.0,0 15.0,-5.0 15.0,5.0" fill="#5f86bd"/><polygon points="1.5,0 15.0,-3.8 15.0,2.0" fill="#88a9d6"/><polygon points="2.5,-0.2 15.0,-2.6 15.0,-0.2" fill="#b5cdea"/><polygon points="147.9,0 132.9,-5.0 132.9,5.0" fill="#5f86bd"/><polygon points="146.4,0 132.9,-3.8 132.9,2.0" fill="#88a9d6"/><polygon points="145.4,-0.2 132.9,-2.6 132.9,-0.2" fill="#b5cdea"/></g>
<path d="M872.3,299.2 L872.3,275.2 A24,24 0 0 1 889.6,282.6 Z" fill="#f2e58a" fill-opacity="0.85"/><path d="M872.3,275.2 A24,24 0 0 1 884.4,278.5" fill="none" stroke="#e3c81f" stroke-width="1.5"/><polygon points="889.6,282.6 887.1,275.3 882.5,279.8" fill="#ecd224" stroke="#94840f" stroke-width="0.4"/><line x1="872.3" y1="299.2" x2="897.5" y2="275.1" stroke="#94840f" stroke-width="3.4" stroke-linecap="butt"/><line x1="872.3" y1="300.0" x2="872.3" y2="264.8" stroke="#94840f" stroke-width="3.4"/><line x1="872.3" y1="299.2" x2="897.1" y2="275.5" stroke="#f6e03a" stroke-width="2.4" stroke-linecap="butt"/><line x1="872.3" y1="299.5" x2="872.3" y2="265.3" stroke="#f6e03a" stroke-width="2.4"/><text x="886.7" y="271.0" font-size="16" fill="#f2dc2a" text-anchor="middle" font-style="italic" stroke="#7f710c" stroke-width="0.8">θ</text>
<text x="876.2" y="320.5" font-size="16" fill="#8fe0ec" text-anchor="middle" font-weight="bold" stroke="#8fe0ec" stroke-width="0.4">P</text>
<polygon points="801.3,373.4 788.5,368.7 789.5,365.9 779.5,367.0 786.4,374.3 787.4,371.5 800.3,376.2" fill="#f6e03a" stroke="#8f8010" stroke-width="0.8" stroke-linejoin="round"/><polygon points="799.3,376.3 827.9,376.3 827.9,379.3 837.9,374.8 827.9,370.3 827.9,373.3 799.3,373.3" fill="#f6e03a" stroke="#8f8010" stroke-width="0.8" stroke-linejoin="round"/><polygon points="802.3,376.3 802.3,344.2 805.3,344.2 800.8,334.2 796.3,344.2 799.3,344.2 799.3,376.3" fill="#f6e03a" stroke="#8f8010" stroke-width="0.8" stroke-linejoin="round"/><rect x="799.7" y="373.7" width="2.2" height="2.2" fill="#f6e03a"/><text x="800.8" y="330.8" font-size="16.5" fill="#7b711c" text-anchor="middle" font-style="italic" >z</text><text x="842.9" y="378.9" font-size="16.5" fill="#7b711c" text-anchor="middle" font-style="italic" >x</text><text x="775.6" y="367.0" font-size="16.5" fill="#7b711c" text-anchor="middle" font-style="italic" >y</text>
<text x="941.4" y="284.0" font-size="16" fill="#4a9bd8" ><tspan font-weight="bold">P</tspan>: Plane indicator</text>
<text x="959.5" y="300.5" font-size="16" fill="#4a9bd8" >(within GO plane)</text>
<text x="959.5" y="317.2" font-size="16" fill="#4a9bd8" >(perpendicular to <tspan font-style="italic">y</tspan>)</text>
<text x="941.4" y="338.2" font-size="16" fill="#6f6722" ><tspan font-style="italic" fill="#f2dc2a" stroke="#7f710c" stroke-width="0.8">θ</tspan>: Tilt angle</text>
<text x="959.5" y="355.5" font-size="16" fill="#6f6722" >(between <tspan font-style="italic">z</tspan> and <tspan font-weight="bold">P</tspan>)</text>
</g>
<g id="demo">
<rect x="520" y="418.2" width="231.3" height="28.8" fill="#fff" stroke="#333" stroke-width="1.1"/>
<text x="536.0" y="439.6" font-size="16" fill="#111" ><tspan font-weight="bold">Nonreciprocal gel</tspan> (<tspan fill="#17a150"><tspan font-style="italic">d</tspan><tspan font-size="13" dy="1.5">L</tspan></tspan><tspan dy="-1.5" dx="1"> ≠ </tspan><tspan fill="#ed2d2a" dx="1"><tspan font-style="italic">d</tspan><tspan font-size="13" dy="1.5">R</tspan></tspan><tspan dy="-1.5">)</tspan></text>
<text x="56.8" y="479.8" font-size="21" fill="#111" >(i)</text>
<text x="621.5" y="479.8" font-size="21" fill="#111" >(ii)</text>
<rect x="122.5" y="569.5" width="131" height="21.600000000000023" fill="url(#baseG)" filter="url(#blur1)"/>
<rect x="284.5" y="569.5" width="131" height="21.600000000000023" fill="url(#baseG)" filter="url(#blur1)"/>
<rect x="442.5" y="569.5" width="132.79999999999995" height="21.600000000000023" fill="url(#baseG)" filter="url(#blur1)"/>
<polygon points="166.5,499.0 219.0,499.0 235.7,504.4 235.7,577.0 182.6,504.4" fill="#e9edf6"/>
<polygon points="219.0,499.0 235.7,504.4 235.7,577.0 219.0,570.0" fill="#f3f5fa"/>
<polygon points="101.8,499.0 167.8,499.0 182.6,504.4 115.0,504.4" fill="#8d91ab"/>
<polygon points="101.8,499.0 115.0,504.4 162.4,576.3 150.0,569.5" fill="#5c5d6b"/>
<polygon points="115.0,504.4 182.6,504.4 235.0,576.3 162.4,576.3" fill="url(#slateF)"/>
<polygon points="167.8,499.0 182.6,504.4 235.0,576.3 222.0,570.0" fill="#8d92af" opacity="0.55"/>
<polygon points="115.0,504.4 182.6,504.4 235.7,577.0 235.7,504.4 219.0,499.0 166.5,499.0 182.6,504.4" fill="none"/>
<path d="M166.5,499 L219,499 L235.7,504.4 L235.7,577 L182.6,504.4 Z M182.6,504.4 L235.7,504.4 M219,499 L219,504" fill="none" stroke="#2fa468" stroke-width="0.9" stroke-linejoin="round"/>
<path d="M166.5,479.5 V499 M219,479.5 V499" stroke="#17a150" stroke-width="1.1" stroke-dasharray="1.6 2" fill="none"/>
<text x="181.3" y="491.8" font-size="16" fill="#17a150" ><tspan font-style="italic">–d</tspan><tspan font-size="11" dy="1.5">L</tspan></text>
<polygon points="101.8,499.4 84.6,499.4 86.1,497.4 66.6,501.1 86.1,504.8 84.6,502.8 101.8,502.8" fill="#17a150" />
<text x="72.7" y="492.4" font-size="16" fill="#17a150" ><tspan font-style="italic">–F</tspan><tspan font-size="11" dy="1.5">0</tspan></text>
<g id="handL"><clipPath id="handc"><path d="M101.6,498.8 C100.9,498.5 100.2,498.1 102.0,496.5 C103.8,494.9 108.6,491.9 112.5,489.0 C116.4,486.1 122.7,481.4 125.6,479.4 C128.5,477.4 127.1,478.7 130.0,476.8 C132.9,474.9 138.8,471.1 143.2,468.0 C147.6,464.9 151.9,460.6 156.3,458.0 C160.7,455.4 165.8,453.9 169.4,452.3 C173.1,450.7 175.9,448.6 178.2,448.3 C180.5,448.0 182.2,449.0 183.4,450.5 C184.6,452.0 185.3,455.7 185.2,457.5 C185.1,459.3 186.2,459.5 182.6,461.5 C178.9,463.5 166.8,467.1 163.3,469.3 C159.8,471.6 162.8,472.7 161.5,475.0 C160.2,477.3 156.9,481.0 155.4,482.9 C153.9,484.8 152.3,485.3 152.5,486.2 C152.7,487.1 156.6,487.7 156.3,488.4 C156.1,489.1 152.0,489.4 151.0,490.4 C150.0,491.4 150.9,493.0 150.2,494.3 C149.5,495.6 147.9,497.9 146.7,498.2 C145.5,498.5 143.9,496.8 143.2,496.0 C142.5,495.2 143.8,493.6 142.3,493.4 C140.8,493.2 136.9,494.8 134.4,494.7 C131.9,494.6 128.8,493.4 127.4,492.5 C126.0,491.6 127.8,488.9 126.0,489.0 C124.2,489.1 120.2,491.9 116.9,493.4 C113.6,494.9 109.0,497.3 106.4,498.2 C103.9,499.1 102.3,499.1 101.6,498.8 Z"/></clipPath><path d="M101.6,498.8 C100.9,498.5 100.2,498.1 102.0,496.5 C103.8,494.9 108.6,491.9 112.5,489.0 C116.4,486.1 122.7,481.4 125.6,479.4 C128.5,477.4 127.1,478.7 130.0,476.8 C132.9,474.9 138.8,471.1 143.2,468.0 C147.6,464.9 151.9,460.6 156.3,458.0 C160.7,455.4 165.8,453.9 169.4,452.3 C173.1,450.7 175.9,448.6 178.2,448.3 C180.5,448.0 182.2,449.0 183.4,450.5 C184.6,452.0 185.3,455.7 185.2,457.5 C185.1,459.3 186.2,459.5 182.6,461.5 C178.9,463.5 166.8,467.1 163.3,469.3 C159.8,471.6 162.8,472.7 161.5,475.0 C160.2,477.3 156.9,481.0 155.4,482.9 C153.9,484.8 152.3,485.3 152.5,486.2 C152.7,487.1 156.6,487.7 156.3,488.4 C156.1,489.1 152.0,489.4 151.0,490.4 C150.0,491.4 150.9,493.0 150.2,494.3 C149.5,495.6 147.9,497.9 146.7,498.2 C145.5,498.5 143.9,496.8 143.2,496.0 C142.5,495.2 143.8,493.6 142.3,493.4 C140.8,493.2 136.9,494.8 134.4,494.7 C131.9,494.6 128.8,493.4 127.4,492.5 C126.0,491.6 127.8,488.9 126.0,489.0 C124.2,489.1 120.2,491.9 116.9,493.4 C113.6,494.9 109.0,497.3 106.4,498.2 C103.9,499.1 102.3,499.1 101.6,498.8 Z" fill="url(#skin)" stroke="#d9ae90" stroke-width="0.4"/><g clip-path="url(#handc)"><ellipse cx="141" cy="492" rx="13" ry="5.5" fill="#c99472" opacity="0.55" filter="url(#blur2)"/><path d="M104,497 L128,478.5 L152,462.5 L178,449.5" stroke="#fdeee2" stroke-width="3.2" fill="none" opacity="0.75" filter="url(#blur1)"/><path d="M164,470 L184,460.5" stroke="#d49f7d" stroke-width="2.5" fill="none" opacity="0.6" filter="url(#blur1)"/><path d="M106,499 L127,491" stroke="#d9a583" stroke-width="1.6" fill="none" opacity="0.7" filter="url(#blur1)"/></g><path d="M133.5,485.5 C135,487.5 135.5,489.8 134.5,491.8 M138.5,484 C140,486 140.8,488.5 140,491.5 M143.5,484.5 C145,486.5 146,488 146.3,490.5 M127.5,489.5 C130,487 133,486 136,485.5" fill="none" stroke="#b07f60" stroke-width="0.7" opacity="0.85"/></g>
<text x="270.0" y="509.3" font-size="16" fill="#17a150" text-anchor="middle" >Shear</text>
<text x="270.0" y="526.8" font-size="16" fill="#17a150" text-anchor="middle" >left</text>
<polygon points="291.8,536.0 263.3,536.0 268.3,531.5 247.3,536.7 268.3,542.0 263.3,537.4 291.8,537.4" fill="#111" />
<polygon points="304.0,497.4 377.0,497.4 391.2,503.3 317.6,503.3" fill="#8d91ab"/>
<polygon points="304.0,497.4 317.6,503.3 317.6,577.5 304.0,572.0" fill="#767a96"/>
<polygon points="317.6,503.3 391.2,503.3 391.2,577.5 317.6,577.5" fill="url(#slateF)"/>
<polygon points="377.0,497.4 391.2,503.3 391.2,577.5 377.0,571.0" fill="#8d92af" opacity="0.5"/>
<g transform="translate(312.4,569.5) rotate(-44.32)" opacity="0.92"><rect x="16" y="-2.6" width="63.9" height="5.2" fill="#6f97d3"/><rect x="16" y="-1.8" width="63.9" height="3.6" fill="#9dbde8"/><rect x="16" y="-1.04" width="63.9" height="2.08" fill="#c3d9f3"/><polygon points="0.0,0 17.0,-6.5 17.0,6.5" fill="#6f97d3"/><polygon points="1.5,0 17.0,-5.3 17.0,3.5" fill="#9dbde8"/><polygon points="2.5,-0.2 17.0,-4.1 17.0,1.3" fill="#c3d9f3"/><polygon points="95.9,0 78.9,-6.5 78.9,6.5" fill="#6f97d3"/><polygon points="94.4,0 78.9,-5.3 78.9,3.5" fill="#9dbde8"/><polygon points="93.4,-0.2 78.9,-4.1 78.9,1.3" fill="#c3d9f3"/></g>
<path d="M348.2,523.7 L348.2,500.2 A23.5,23.5 0 0 1 364.8,507.1 Z" fill="#f2e58a" fill-opacity="0.85"/><path d="M348.2,500.2 A23.5,23.5 0 0 1 359.6,503.1" fill="none" stroke="#e3c81f" stroke-width="1.5"/><polygon points="364.8,507.1 362.1,499.9 357.6,504.4" fill="#ecd224" stroke="#94840f" stroke-width="0.4"/><line x1="348.2" y1="523.7" x2="372.8" y2="499.1" stroke="#94840f" stroke-width="3.4" stroke-linecap="butt"/><line x1="348.2" y1="524.5" x2="348.2" y2="488.4" stroke="#94840f" stroke-width="3.4"/><line x1="348.2" y1="523.7" x2="372.4" y2="499.5" stroke="#f6e03a" stroke-width="2.4" stroke-linecap="butt"/><line x1="348.2" y1="524.0" x2="348.2" y2="488.9" stroke="#f6e03a" stroke-width="2.4"/>
<text x="352.0" y="497.6" font-size="16" fill="#6f6722" >45°</text>
<polygon points="308.1,583.3 295.0,578.9 296.0,576.1 286.0,577.5 293.1,584.6 294.1,581.8 307.1,586.1" fill="#f6e03a" stroke="#8f8010" stroke-width="0.8" stroke-linejoin="round"/><polygon points="306.1,586.2 334.6,586.2 334.6,589.2 344.6,584.7 334.6,580.2 334.6,583.2 306.1,583.2" fill="#f6e03a" stroke="#8f8010" stroke-width="0.8" stroke-linejoin="round"/><polygon points="309.1,586.2 309.1,553.7 312.1,553.7 307.6,543.7 303.1,553.7 306.1,553.7 306.1,586.2" fill="#f6e03a" stroke="#8f8010" stroke-width="0.8" stroke-linejoin="round"/><rect x="306.5" y="583.6" width="2.2" height="2.2" fill="#f6e03a"/><text x="307.0" y="540.2" font-size="16.5" fill="#ecd325" text-anchor="middle" font-weight="bold" font-style="italic" stroke="#9c8a10" stroke-width="0.5">z</text><text x="349.6" y="588.3" font-size="16.5" fill="#7b711c" text-anchor="middle" font-style="italic" >x</text><text x="282.1" y="576.5" font-size="16.5" fill="#7b711c" text-anchor="middle" font-style="italic" >y</text>
<text x="426.0" y="509.3" font-size="16" fill="#ed2d2a" text-anchor="middle" >Shear</text>
<text x="426.0" y="526.8" font-size="16" fill="#ed2d2a" text-anchor="middle" >right</text>
<polygon points="408.4,537.4 437.2,537.4 432.2,542.0 453.2,536.7 432.2,531.5 437.2,536.0 408.4,536.0" fill="#111" />
<polygon points="466.3,500.0 479.9,504.3 479.5,576.3 465.4,570.5" fill="#c9cde0"/>
<polygon points="474.5,500.0 546.7,500.0 560.8,504.7 490.7,504.7" fill="#8d91ab"/>
<polygon points="474.5,500.2 490.7,504.7 481.0,576.3 467.0,570.5" fill="#6d718c"/>
<polygon points="490.7,504.7 560.8,504.7 551.0,576.3 481.0,576.3" fill="url(#slateF)"/>
<polygon points="546.7,500.0 560.8,504.7 551.0,576.3 538.0,570.0" fill="#8d92af" opacity="0.5"/>
<path d="M466.3,500 L479.9,504.3 L479.5,576.3 L465.4,570.5 Z M466.3,500 L474.5,500 L490.7,504.7 L479.9,504.3 M490.7,504.7 L481,576.3" fill="none" stroke="#ed2d2a" stroke-width="1.1" stroke-linejoin="round"/>
<path d="M466.3,494.5 V500 M474.5,494.5 V500" stroke="#ed2d2a" stroke-width="1.1" stroke-dasharray="1.4 1.6" fill="none"/>
<text x="464.0" y="492.0" font-size="16" fill="#ed2d2a" ><tspan font-style="italic">d</tspan><tspan font-size="11" dy="1.5">R</tspan></text>
<polygon points="550.4,502.5 567.5,502.5 566.0,504.8 584.5,501.0 566.0,497.2 567.5,499.5 550.4,499.5" fill="#ee4423" />
<text x="558.3" y="492.5" font-size="16" fill="#ed2d2a" ><tspan font-style="italic">F</tspan><tspan font-size="11" dy="1.5">0</tspan></text>
<g transform="translate(550.1,497.6) scale(-0.96,0.96) translate(-101.6,-498.8)"><clipPath id="handc2"><path d="M101.6,498.8 C100.9,498.5 100.2,498.1 102.0,496.5 C103.8,494.9 108.6,491.9 112.5,489.0 C116.4,486.1 122.7,481.4 125.6,479.4 C128.5,477.4 127.1,478.7 130.0,476.8 C132.9,474.9 138.8,471.1 143.2,468.0 C147.6,464.9 151.9,460.6 156.3,458.0 C160.7,455.4 165.8,453.9 169.4,452.3 C173.1,450.7 175.9,448.6 178.2,448.3 C180.5,448.0 182.2,449.0 183.4,450.5 C184.6,452.0 185.3,455.7 185.2,457.5 C185.1,459.3 186.2,459.5 182.6,461.5 C178.9,463.5 166.8,467.1 163.3,469.3 C159.8,471.6 162.8,472.7 161.5,475.0 C160.2,477.3 156.9,481.0 155.4,482.9 C153.9,484.8 152.3,485.3 152.5,486.2 C152.7,487.1 156.6,487.7 156.3,488.4 C156.1,489.1 152.0,489.4 151.0,490.4 C150.0,491.4 150.9,493.0 150.2,494.3 C149.5,495.6 147.9,497.9 146.7,498.2 C145.5,498.5 143.9,496.8 143.2,496.0 C142.5,495.2 143.8,493.6 142.3,493.4 C140.8,493.2 136.9,494.8 134.4,494.7 C131.9,494.6 128.8,493.4 127.4,492.5 C126.0,491.6 127.8,488.9 126.0,489.0 C124.2,489.1 120.2,491.9 116.9,493.4 C113.6,494.9 109.0,497.3 106.4,498.2 C103.9,499.1 102.3,499.1 101.6,498.8 Z"/></clipPath><path d="M101.6,498.8 C100.9,498.5 100.2,498.1 102.0,496.5 C103.8,494.9 108.6,491.9 112.5,489.0 C116.4,486.1 122.7,481.4 125.6,479.4 C128.5,477.4 127.1,478.7 130.0,476.8 C132.9,474.9 138.8,471.1 143.2,468.0 C147.6,464.9 151.9,460.6 156.3,458.0 C160.7,455.4 165.8,453.9 169.4,452.3 C173.1,450.7 175.9,448.6 178.2,448.3 C180.5,448.0 182.2,449.0 183.4,450.5 C184.6,452.0 185.3,455.7 185.2,457.5 C185.1,459.3 186.2,459.5 182.6,461.5 C178.9,463.5 166.8,467.1 163.3,469.3 C159.8,471.6 162.8,472.7 161.5,475.0 C160.2,477.3 156.9,481.0 155.4,482.9 C153.9,484.8 152.3,485.3 152.5,486.2 C152.7,487.1 156.6,487.7 156.3,488.4 C156.1,489.1 152.0,489.4 151.0,490.4 C150.0,491.4 150.9,493.0 150.2,494.3 C149.5,495.6 147.9,497.9 146.7,498.2 C145.5,498.5 143.9,496.8 143.2,496.0 C142.5,495.2 143.8,493.6 142.3,493.4 C140.8,493.2 136.9,494.8 134.4,494.7 C131.9,494.6 128.8,493.4 127.4,492.5 C126.0,491.6 127.8,488.9 126.0,489.0 C124.2,489.1 120.2,491.9 116.9,493.4 C113.6,494.9 109.0,497.3 106.4,498.2 C103.9,499.1 102.3,499.1 101.6,498.8 Z" fill="url(#skin)" stroke="#d9ae90" stroke-width="0.4"/><g clip-path="url(#handc2)"><ellipse cx="141" cy="492" rx="13" ry="5.5" fill="#c99472" opacity="0.55" filter="url(#blur2)"/><path d="M104,497 L128,478.5 L152,462.5 L178,449.5" stroke="#fdeee2" stroke-width="3.2" fill="none" opacity="0.75" filter="url(#blur1)"/><path d="M164,470 L184,460.5" stroke="#d49f7d" stroke-width="2.5" fill="none" opacity="0.6" filter="url(#blur1)"/><path d="M106,499 L127,491" stroke="#d9a583" stroke-width="1.6" fill="none" opacity="0.7" filter="url(#blur1)"/></g><path d="M133.5,485.5 C135,487.5 135.5,489.8 134.5,491.8 M138.5,484 C140,486 140.8,488.5 140,491.5 M143.5,484.5 C145,486.5 146,488 146.3,490.5 M127.5,489.5 C130,487 133,486 136,485.5" fill="none" stroke="#b07f60" stroke-width="0.7" opacity="0.85"/></g>
</g>
<g id="photos">
<defs><linearGradient id="plG" x1="0" y1="0" x2="0" y2="1"><stop offset="0" stop-color="#6e6e6e"/><stop offset="0.1" stop-color="#616160"/><stop offset="0.88" stop-color="#656564"/><stop offset="1" stop-color="#757575"/></linearGradient>
<linearGradient id="bgG" x1="0" y1="0" x2="1" y2="1"><stop offset="0" stop-color="#2271c9"/><stop offset="1" stop-color="#1d69c0"/></linearGradient>
<linearGradient id="blk" x1="0" y1="0" x2="1" y2="0"><stop offset="0" stop-color="#15181b"/><stop offset="0.5" stop-color="#0c0e10"/><stop offset="1" stop-color="#1b1f22"/></linearGradient></defs>
<clipPath id="ph1"><rect x="102.3" y="595" width="179.7" height="125.60000000000002"/></clipPath><g clip-path="url(#ph1)">
<rect x="102.3" y="595" width="179.7" height="125.60000000000002" fill="url(#bgG)"/>
<rect x="106.4" y="598.0" width="185.2" height="25.2" rx="2.2" fill="url(#plG)" stroke="#9b9b9b" stroke-width="0.8" stroke-opacity="0.75"/>
<rect x="92.7" y="692.8" width="183.29999999999998" height="25.599999999999977" rx="2.2" fill="url(#plG)" stroke="#9b9b9b" stroke-width="0.8" stroke-opacity="0.75"/>
<polygon points="128.6,623.6 198.0,623.6 257.0,692.4 190.3,692.4" fill="url(#blk)"/>
<polygon points="198.0,623.6 261.0,623.6 260.0,692.4 257.0,692.4" fill="#8db3d8" stroke="#e8f3d8" stroke-width="0.9" stroke-dasharray="2 1.6"/>
</g>
<text x="99.0" y="615.4" font-size="16" fill="#c6e6b4" >–0.8 N</text>
<text x="192.8" y="615.4" font-size="16" fill="#c6e6b4" >–10.1 mm</text>
<polygon points="138.8,622.1 121.2,622.1 122.2,620.2 106.2,623.2 122.2,626.2 121.2,624.3 138.8,624.3" fill="#c6e6b4" />
<clipPath id="ph2"><rect x="285.7" y="595" width="125.8" height="125.60000000000002"/></clipPath><g clip-path="url(#ph2)">
<rect x="285.7" y="595" width="125.8" height="125.60000000000002" fill="url(#bgG)"/>
<rect x="295.9" y="598.0" width="125.2" height="25.2" rx="2.2" fill="url(#plG)" stroke="#9b9b9b" stroke-width="0.8" stroke-opacity="0.75"/>
<rect x="276.29999999999995" y="692.8" width="123.5" height="25.599999999999977" rx="2.2" fill="url(#plG)" stroke="#9b9b9b" stroke-width="0.8" stroke-opacity="0.75"/>
<rect x="316" y="623.6" width="65.6" height="68.79999999999995" fill="url(#blk)"/>
</g>
<text x="346.6" y="615.4" font-size="16" fill="#fff" text-anchor="middle" >Movable</text>
<text x="347.0" y="711.2" font-size="16" fill="#fff" text-anchor="middle" >Fixed</text>
<clipPath id="ph3"><rect x="414.8" y="595" width="180" height="125.60000000000002"/></clipPath><g clip-path="url(#ph3)">
<rect x="414.8" y="595" width="180" height="125.60000000000002" fill="url(#bgG)"/>
<rect x="455.4" y="598.0" width="149.0" height="25.2" rx="2.2" fill="url(#plG)" stroke="#9b9b9b" stroke-width="0.8" stroke-opacity="0.75"/>
<rect x="405.2" y="692.8" width="147.39999999999998" height="25.599999999999977" rx="2.2" fill="url(#plG)" stroke="#9b9b9b" stroke-width="0.8" stroke-opacity="0.75"/>
<polygon points="475.8,623.6 540.8,623.6 535.7,692.4 468.8,692.4" fill="url(#blk)"/>
<polygon points="467.0,623.6 475.8,623.6 468.8,692.4 467.3,692.4" fill="#a9a3d6" stroke="#f6c1bd" stroke-width="0.9" stroke-dasharray="2 1.6"/>
</g>
<text x="443.0" y="615.4" font-size="16" fill="#f6bab5" >1.0 mm</text>
<text x="530.0" y="615.4" font-size="16" fill="#f6bab5" >0.8 N</text>
<polygon points="534.4,624.3 553.6,624.3 552.6,626.2 568.6,623.2 552.6,620.2 553.6,622.1 534.4,622.1" fill="#f6bab5" />
<text x="531.0" y="704.4" font-size="16" fill="#fff" >10 mm</text>
<rect x="521.5" y="707.8" width="67" height="4.4" fill="#fff"/>
</g>
<g id="chart">
<rect x="717.4" y="582.0" width="174.9" height="92.7" fill="#ebf3eb" stroke="#17a150" stroke-width="0.9" stroke-dasharray="1.2 1.6"/>
<rect x="889.7" y="489.3" width="23.4" height="92.7" fill="#fdeeea" stroke="#f3a090" stroke-width="0.9" stroke-dasharray="1.2 1.6"/>
<path d="M684.2,582.0 H1103.7 M892.3,477.5 V686.1" stroke="#222" stroke-width="1.1" stroke-dasharray="1.6 2" fill="none"/>
<path d="M717.4,674.7 C718.7,673.6 722.7,669.8 725.5,667.8 C728.3,665.7 729.9,665.0 734.3,662.6 C738.6,660.1 746.0,656.1 751.8,653.3 C757.7,650.5 763.5,648.0 769.4,645.7 C775.2,643.5 781.1,641.8 786.9,640.0 C792.8,638.1 798.6,636.4 804.5,634.7 C810.4,633.1 816.2,631.6 822.1,630.1 C827.9,628.6 833.8,627.0 839.6,625.5 C845.5,623.9 852.8,622.0 857.2,620.8 C861.6,619.6 863.0,619.3 866.0,618.2 C868.9,617.1 872.4,615.6 874.7,614.2 C877.1,612.8 878.4,611.5 880.0,609.8 C881.6,608.1 883.1,606.2 884.4,604.0 C885.7,601.8 886.9,599.1 887.9,596.5 C888.9,593.9 889.8,590.8 890.5,588.4 C891.3,586.0 892.0,583.1 892.3,582.0" fill="none" stroke="#17a150" stroke-width="1.4" stroke-linejoin="round"/>
<path d="M892.3,582.0 C892.6,581.2 893.5,579.1 894.1,577.4 C894.6,575.6 895.2,573.7 895.8,571.6 C896.4,569.4 897.0,567.0 897.6,564.6 C898.2,562.2 898.7,559.8 899.3,557.1 C899.9,554.4 900.5,551.4 901.1,548.4 C901.7,545.4 902.3,542.3 902.8,539.1 C903.4,535.9 904.0,532.7 904.6,529.3 C905.2,525.8 905.8,521.9 906.3,518.3 C906.9,514.6 907.5,510.9 908.1,507.2 C908.7,503.6 909.3,498.8 909.9,496.2 C910.4,493.6 911.0,492.4 911.3,491.6" fill="none" stroke="#ed2d2a" stroke-width="1.4" stroke-linejoin="round"/>
<circle cx="717.4" cy="674.7" r="3.6" fill="#17a150"/>
<circle cx="911.3" cy="491.6" r="3.6" fill="#ee4423"/>
<circle cx="892.3" cy="582.0" r="3.8" fill="#808285"/>
<rect x="684.2" y="477.5" width="419.5" height="208.60000000000002" fill="none" stroke="#111" stroke-width="1.3"/>
<path d="M684.2,489.3 h5 M684.2,535.6 h5 M684.2,582.0 h5 M684.2,628.4 h5 M684.2,674.7 h5 M684.2,512.5 h3 M684.2,558.8 h3 M684.2,605.2 h3 M684.2,651.5 h3 M718.8,686.1 v-5 M806.2,686.1 v-5 M893.6,686.1 v-5 M981.0,686.1 v-5 M1068.4,686.1 v-5 M849.9,686.1 v-3 M937.3,686.1 v-3 M1024.7,686.1 v-3" stroke="#111" stroke-width="1.1" fill="none"/>
<text x="681.0" y="494.9" font-size="16" fill="#111" text-anchor="end" >0.8</text>
<text x="681.0" y="541.2" font-size="16" fill="#111" text-anchor="end" >0.4</text>
<text x="681.0" y="587.6" font-size="16" fill="#111" text-anchor="end" >0</text>
<text x="681.0" y="634.0" font-size="16" fill="#111" text-anchor="end" >–0.4</text>
<text x="681.0" y="680.3" font-size="16" fill="#111" text-anchor="end" >–0.8</text>
<text x="717.6" y="702.6" font-size="16" fill="#111" text-anchor="middle" >–10</text>
<text x="803.4" y="702.6" font-size="16" fill="#111" text-anchor="middle" >–5</text>
<text x="893.1" y="702.6" font-size="16" fill="#111" text-anchor="middle" >0</text>
<text x="980.5" y="702.6" font-size="16" fill="#111" text-anchor="middle" >5</text>
<text x="1067.9" y="702.6" font-size="16" fill="#111" text-anchor="middle" >10</text>
<text x="646.3" y="582.0" font-size="16" fill="#111" text-anchor="middle" transform="rotate(-90 646.3 582.0)" >Force (N)</text>
<text x="703.4" y="722.0" font-size="16" fill="#17a150" >Shear left</text>
<text x="824.8" y="722.0" font-size="16" fill="#111" >Displacement (mm)</text>
<text x="1016.0" y="722.0" font-size="16" fill="#ed2d2a" >Shear right</text>
<polygon points="817.0,716.0 789.0,716.0 792.5,712.9 777.0,716.6 792.5,720.4 789.0,717.2 817.0,717.2" fill="#17a150" />
<polygon points="969.0,717.2 998.5,717.2 995.0,720.4 1010.5,716.6 995.0,712.9 998.5,716.0 969.0,716.0" fill="#e8152d" />
<text x="849.7" y="499.6" font-size="16" fill="#ed2d2a" >0.8 N</text>
<text x="896.5" y="598.2" font-size="16" fill="#ed2d2a" >1.0 mm</text>
<text x="691.0" y="578.5" font-size="16" fill="#17a150" >–10.1 mm</text>
<text x="899.8" y="680.5" font-size="16" fill="#17a150" >–0.8 N</text>
</g>
</svg>
</body></html>
